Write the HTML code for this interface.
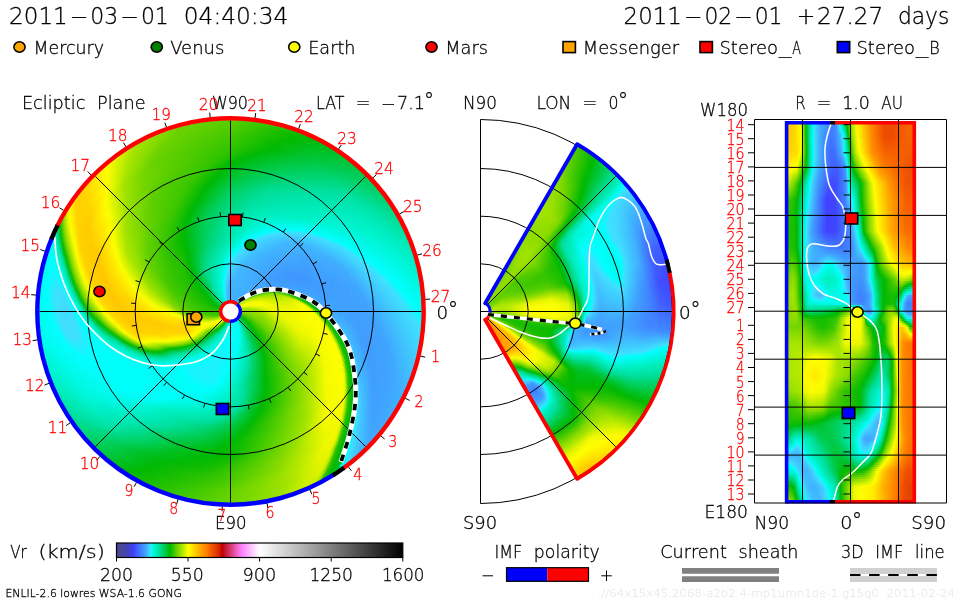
<!DOCTYPE html><html><head><meta charset="utf-8"><title>ENLIL solar wind</title>
<style>html,body{margin:0;padding:0;background:#fff}#p{position:relative;width:960px;height:600px;overflow:hidden;background:#fff}.f{position:absolute;width:0;height:0}.f i{position:absolute;display:block;border-radius:50%}.c{position:absolute;overflow:hidden}#r i{display:block;width:100%}svg{position:absolute;left:0;top:0}text{font-family:"DejaVu Sans Light","DejaVu Sans","Liberation Sans",sans-serif;}</style></head><body><div id="p">
<div class="c" style="left:37.5px;top:118.5px;width:386px;height:386px;border-radius:50%"><div class="f" style="left:193px;top:193px">
<i style="width:384px;height:384px;left:-192px;top:-192px;background:conic-gradient(#59ce00 0deg,#34c500 11.5deg,#00b904 24deg,#00c73c 39.5deg,#00d87f 58deg,#00e8b1 69deg,#01ffff 92deg,#40dfff 96deg,#40b3ff 115.5deg,#40a7ff 133.5deg,#40c6ff 140deg,#40e0ff 143deg,#02feff 144deg,#00fcf2 145.5deg,#00c124 146deg,#00bb0a 148deg,#0aba00 149.5deg,#29c200 151.5deg,#48ca00 152deg,#7fd800 152.5deg,#a2e300 153deg,#d1f000 154.5deg,#cdef00 157.5deg,#92de00 167.5deg,#1cbf00 207deg,#00b905 214deg,#00d572 229.5deg,#00e3a5 240.5deg,#00f3cc 252deg,#00fcf1 264.5deg,#00fdf8 286deg,#00fcf3 291.5deg,#00ecb8 293.5deg,#00e0a0 294.5deg,#00b904 296.5deg,#90dd00 299deg,#e4f500 301deg,#fdfe00 302deg,#ffd000 306deg,#ffd900 312deg,#fcfd00 319.5deg,#a4e400 330deg,#67d200 346deg,#59ce00 360deg)"></i>
<i style="width:380px;height:380px;left:-190px;top:-190px;background:conic-gradient(#56ce00 0deg,#21c000 15deg,#00b906 23.5deg,#00c943 40.5deg,#00dc8e 59.5deg,#0eb 71deg,#0ff 91deg,#40e0ff 95deg,#40b1ff 115.5deg,#40a6ff 132.5deg,#40c5ff 139deg,#40dfff 142deg,#04fdff 143deg,#00fcf3 144.5deg,#00c124 145deg,#00ba0a 147deg,#0abb00 148.5deg,#1dbf00 150deg,#2bc300 150.5deg,#4ccb00 151deg,#82d900 151.5deg,#a4e400 152deg,#d3f100 153.5deg,#cdef00 157deg,#95df00 166.5deg,#12bc00 208.5deg,#00b905 213deg,#00d984 232deg,#00e3a6 239.5deg,#00f3cb 250.5deg,#00fbef 262deg,#00fefb 279deg,#00fdf7 290deg,#00f9e6 291deg,#00ecb7 292.5deg,#00df9d 293.5deg,#00b904 295.5deg,#8edd00 298deg,#f1f800 300.5deg,#fffb00 301.5deg,#ffd100 305deg,#ffd600 310.5deg,#fbfd00 319deg,#a5e400 329deg,#68d200 344.5deg,#56ce00 360deg)"></i>
<i style="width:376px;height:376px;left:-188px;top:-188px;background:conic-gradient(#54cd00 0deg,#0bbb00 19deg,#00ba08 23deg,#00d986 56deg,#00e9b2 67deg,#0ff 90deg,#40e0ff 94deg,#40afff 115.5deg,#40a5ff 131.5deg,#40c8ff 138.5deg,#40dfff 141deg,#06fcff 142deg,#00fcf3 143.5deg,#00c124 144deg,#05b900 147deg,#1ebf00 149deg,#2dc300 149.5deg,#50cc00 150deg,#84d900 150.5deg,#a5e400 151deg,#d5f100 152.5deg,#cdef00 156.5deg,#9ae100 165deg,#09ba00 209.5deg,#00ba0a 213deg,#00e0a0 236deg,#00f3cc 249.5deg,#00fcf1 262deg,#00fffd 283deg,#00fdf7 289deg,#00f9e5 290deg,#00f0c1 291deg,#00df9b 292.5deg,#00b904 294.5deg,#8cdc00 297deg,#edf700 299.5deg,#fffd00 300.5deg,#ffd200 304deg,#ffd400 309deg,#fff700 316.5deg,#fbfd00 318.5deg,#a7e500 328deg,#69d200 343deg,#54cd00 360deg)"></i>
<i style="width:372px;height:372px;left:-186px;top:-186px;background:conic-gradient(#51cc00 0deg,#02b900 20deg,#00da86 54.5deg,#00e8b0 65deg,#0ff 89deg,#40e0ff 93deg,#40adff 115deg,#40a4ff 130.5deg,#40c7ff 137.5deg,#40deff 140deg,#2aebff 140.5deg,#0afaff 141deg,#00fdf7 142deg,#00fcf4 142.5deg,#00c124 143deg,#05b900 146deg,#1ebf00 148deg,#2dc300 148.5deg,#4fcc00 149deg,#84d900 149.5deg,#a5e400 150deg,#d7f200 151.5deg,#d1f000 155.5deg,#9de200 164deg,#05b900 209.5deg,#00c01f 215.5deg,#00e1a1 235.5deg,#00f3cb 248deg,#00fbee 259.5deg,#05fcff 276.5deg,#01ffff 283deg,#00fdf7 288deg,#00f9e5 289deg,#00f0c0 290deg,#00df9c 291.5deg,#00ba06 293.5deg,#89db00 296deg,#e7f600 298.5deg,#feff00 299.5deg,#ffd300 303deg,#ffd100 307.5deg,#fe0 314.5deg,#fbfd00 318deg,#a8e500 327deg,#6ad200 341.5deg,#51cc00 360deg)"></i>
<i style="width:368px;height:368px;left:-184px;top:-184px;background:conic-gradient(#4ecc00 0deg,#00b904 20.5deg,#00db8e 54.5deg,#00ecb8 66.5deg,#00fffe 88deg,#3ee1ff 92deg,#40acff 114deg,#40a3ff 129.5deg,#40c7ff 136.5deg,#40ddff 139deg,#2fe8ff 139.5deg,#0ef8ff 140deg,#00fefc 140.5deg,#00fdf5 141.5deg,#00c124 142deg,#05b900 145deg,#1ebf00 147deg,#2cc300 147.5deg,#4ecc00 148deg,#83d900 148.5deg,#a5e400 149deg,#ccef00 150deg,#ddf300 151deg,#c9ee00 156.5deg,#a2e300 162.5deg,#00b904 210.5deg,#00e2a3 235deg,#00f3cd 247deg,#00fbef 259deg,#06fcff 272deg,#15f5ff 279deg,#00fefc 285.5deg,#00fcf1 287.5deg,#00ebb6 289.5deg,#00df9d 290.5deg,#00ba09 292.5deg,#34c500 293.5deg,#85da00 295deg,#f1f900 298deg,#fffa00 299deg,#ffd100 302.5deg,#ffd700 309.5deg,#fbfd00 317.5deg,#a7e500 326.5deg,#6bd300 340deg,#4ecc00 360deg)"></i>
<i style="width:364px;height:364px;left:-182px;top:-182px;background:conic-gradient(#4bcb00 0deg,#00b903 19.5deg,#00dc91 53.5deg,#00efbf 68deg,#04fdff 87.5deg,#40dfff 91.5deg,#40aaff 114.5deg,#40a3ff 129deg,#40caff 136deg,#40dcff 138deg,#34e6ff 138.5deg,#13f6ff 139deg,#00fefd 139.5deg,#00fdf5 140.5deg,#00c124 141deg,#05b900 144deg,#1ebf00 146deg,#2cc300 146.5deg,#4ecb00 147deg,#83d900 147.5deg,#a4e400 148deg,#cdef00 149deg,#dff400 150deg,#ccef00 155.5deg,#a5e400 161.5deg,#00b903 209.5deg,#00d163 224.5deg,#00e1a2 233.5deg,#00f3ce 246deg,#00fcf1 259deg,#04fdff 269deg,#2ef 276.5deg,#17f4ff 281deg,#00fffe 284deg,#00fcf0 286.5deg,#00ebb7 288.5deg,#00df9d 289.5deg,#00bb0b 291.5deg,#15bd00 292deg,#82d900 294deg,#ecf700 297deg,#fffd00 298deg,#ffd100 301.5deg,#ffd600 308.5deg,#fafd00 317deg,#a9e600 325.5deg,#6cd300 338.5deg,#4bcb00 360deg)"></i>
<i style="width:360px;height:360px;left:-180px;top:-180px;background:conic-gradient(#48ca00 0deg,#02b900 17.5deg,#00db8a 50.5deg,#00e6ab 59.5deg,#03feff 86.5deg,#40dfff 90.5deg,#40a9ff 113.5deg,#40a2ff 128deg,#40c9ff 135deg,#40dbff 137deg,#39e3ff 137.5deg,#17f4ff 138deg,#00fffd 138.5deg,#00fdf6 139.5deg,#00c124 140deg,#05b900 143deg,#1ebf00 145deg,#2cc300 145.5deg,#4dcb00 146deg,#82d900 146.5deg,#a4e400 147deg,#cff000 148deg,#e1f400 149deg,#d0f000 154.5deg,#a6e500 161deg,#20c000 199.5deg,#00b904 209deg,#00cd55 222deg,#00e1a2 232.5deg,#00f3cd 244.5deg,#00fbef 256.5deg,#04fdff 267deg,#2ee9ff 274.5deg,#28ebff 279deg,#00fffd 283.5deg,#00fcf0 285.5deg,#00ebb7 287.5deg,#00e09e 288.5deg,#00bb0e 290.5deg,#12bc00 291deg,#7dd700 293deg,#f4fa00 296.5deg,#feff00 297deg,#ffd200 300.5deg,#ffd300 307deg,#fdfe00 316deg,#aae600 324.5deg,#6dd300 337deg,#48ca00 360deg)"></i>
<i style="width:356px;height:356px;left:-178px;top:-178px;background:conic-gradient(#45c900 0deg,#06b900 16deg,#00c83f 32deg,#00e3a6 56deg,#00f5d5 72deg,#01feff 85.5deg,#40e0ff 89.5deg,#40a8ff 112.5deg,#40a1ff 127deg,#40c8ff 134deg,#3ee1ff 136.5deg,#00fffe 137.5deg,#00fdf6 138.5deg,#00c124 139deg,#05b900 142deg,#1dbf00 144deg,#2bc300 144.5deg,#4ccb00 145deg,#81d800 145.5deg,#a4e400 146deg,#d0f000 147deg,#e3f500 148deg,#d3f100 153.5deg,#a7e500 160.5deg,#31c400 193deg,#00b905 208.5deg,#00ca49 220deg,#00e1a1 231deg,#00f4cf 243.5deg,#00fbf0 256deg,#05fcff 265.5deg,#39e4ff 273deg,#3ae3ff 277deg,#1cf2ff 280.5deg,#00fffe 282.5deg,#00fbf0 284.5deg,#00ebb7 286.5deg,#00e09f 287.5deg,#00bc10 289.5deg,#0fbc00 290deg,#79d600 292deg,#f1f800 295.5deg,#fffa00 296.5deg,#ffd300 299.5deg,#ffd000 305.5deg,#fff800 314deg,#f8fc00 316deg,#ace700 323.5deg,#6dd300 336deg,#45c900 360deg)"></i>
<i style="width:352px;height:352px;left:-176px;top:-176px;background:conic-gradient(#42c800 0deg,#06ba00 15deg,#00bf1a 22deg,#00de97 50deg,#00f6d8 72deg,#0ff 84.5deg,#40e0ff 88.5deg,#40a7ff 111.5deg,#40a0ff 126deg,#40c7ff 133deg,#40dfff 135.5deg,#0ff 136.5deg,#00fdf7 137.5deg,#00c124 138deg,#00ba0a 140deg,#0abb00 141.5deg,#1dbf00 143deg,#2bc300 143.5deg,#4bcb00 144deg,#80d800 144.5deg,#a4e400 145deg,#d1f000 146deg,#e5f500 147deg,#d7f200 152.5deg,#a8e500 160deg,#38c600 189.5deg,#00b904 207.5deg,#00c73d 218deg,#00e1a1 230deg,#00f3ce 242deg,#00fbee 253.5deg,#01feff 263.5deg,#40e0ff 271deg,#3de2ff 277.5deg,#0afaff 281deg,#00fefd 282deg,#00fbf0 283.5deg,#00ebb7 285.5deg,#00e0a0 286.5deg,#00bd13 288.5deg,#0dbb00 289deg,#89db00 291.5deg,#f7fb00 295deg,#fff500 296deg,#ffd000 299deg,#ffd300 306.5deg,#fbfd00 315deg,#aae600 323deg,#6ed300 334.5deg,#42c800 360deg)"></i>
<i style="width:348px;height:348px;left:-174px;top:-174px;background:conic-gradient(#3fc800 0deg,#05b900 14.5deg,#00d87f 43.5deg,#00e3a6 53deg,#00f4d0 68.5deg,#0ff 83.5deg,#3fe0ff 87.5deg,#40a7ff 110deg,#40a0ff 125.5deg,#40caff 132.5deg,#40dfff 134.5deg,#04fdff 135.5deg,#00fdf8 136.5deg,#00c124 137deg,#00ba0a 139deg,#0abb00 140.5deg,#1dbf00 142deg,#2bc300 142.5deg,#4acb00 143deg,#80d800 143.5deg,#a3e400 144deg,#d2f000 145deg,#e1f400 145.5deg,#e5f500 148.5deg,#d6f200 152deg,#a2e300 161deg,#3ac700 187.5deg,#00b904 207deg,#00c535 216.5deg,#00e1a1 229deg,#00f4d0 241deg,#00fbf0 253.5deg,#05fcff 262.5deg,#40e0ff 268.5deg,#3ce2ff 277.5deg,#00fffd 281deg,#00fbf0 282.5deg,#00ebb7 284.5deg,#00e0a0 285.5deg,#00bd15 287.5deg,#0aba00 288deg,#85da00 290.5deg,#f4fa00 294deg,#feff00 294.5deg,#ffd100 298deg,#ffd100 305.5deg,#fafc00 314.5deg,#ace700 322deg,#6dd300 333.5deg,#3fc800 360deg)"></i>
<i style="width:344px;height:344px;left:-172px;top:-172px;background:conic-gradient(#3cc700 0deg,#00b905 15.5deg,#00de96 46.5deg,#00f5d5 69deg,#0ff 82.5deg,#3ee1ff 86.5deg,#40a6ff 109deg,#40a0ff 124.5deg,#40caff 131.5deg,#40deff 133.5deg,#05fdff 134.5deg,#00fdf8 135.5deg,#00c124 136deg,#00b801 138.5deg,#1ec000 141deg,#2dc300 141.5deg,#4fcc00 142deg,#83d900 142.5deg,#beeb00 143.5deg,#e4f500 144.5deg,#e6f500 149deg,#a5e400 160deg,#3ec800 185deg,#00b904 206.5deg,#00c432 215.5deg,#00e1a2 228deg,#00f4cf 239.5deg,#00fbee 251deg,#04fdff 261deg,#40dfff 266.5deg,#40deff 276deg,#3ee1ff 277deg,#00fffe 280deg,#00fbef 281.5deg,#00ebb6 283.5deg,#00df9e 284.5deg,#00bd14 286.5deg,#0abb00 287deg,#83d900 289.5deg,#f2f900 293deg,#fff900 294deg,#ffd100 297deg,#ffcf00 304.5deg,#fcfe00 313.5deg,#a9e600 321.5deg,#6dd300 332.5deg,#3cc700 360deg)"></i>
<i style="width:340px;height:340px;left:-170px;top:-170px;background:conic-gradient(#3ac600 0deg,#00b905 14.5deg,#00dc90 43.5deg,#00e5aa 51.5deg,#00f3ce 66deg,#0ff 81.5deg,#40e0ff 85.5deg,#40a5ff 108deg,#409eff 123deg,#40c6ff 130deg,#40e0ff 132.5deg,#0ff 133.5deg,#00fdf8 134.5deg,#00c123 135deg,#01b800 137.5deg,#22c000 140deg,#36c500 140.5deg,#90dd00 141.5deg,#ddf300 143deg,#ebf700 144deg,#e3f500 149deg,#a9e600 158.5deg,#44c900 182deg,#00b904 206deg,#00c32b 214deg,#00e0a1 226.5deg,#00f4cf 238deg,#00fbed 249deg,#04fdff 259.5deg,#40dfff 264.5deg,#40daff 274deg,#40dfff 276deg,#15f5ff 278deg,#00fffd 279deg,#00faea 280.5deg,#00e9b3 282.5deg,#00dd94 283.5deg,#00bb0c 285.5deg,#11bc00 286deg,#84d900 288.5deg,#fdfe00 292.5deg,#ffd000 296deg,#ffcd00 303.5deg,#fdfe00 312.5deg,#a9e600 320.5deg,#6ed300 331deg,#3ac600 360deg)"></i>
<i style="width:336px;height:336px;left:-168px;top:-168px;background:conic-gradient(#37c600 0deg,#00b905 13.5deg,#00db8c 41deg,#00e3a7 48deg,#00f4cf 65deg,#01feff 80.5deg,#40e0ff 84.5deg,#40a5ff 106.5deg,#409eff 122deg,#40c7ff 129deg,#40dbff 131deg,#38e4ff 131.5deg,#15f5ff 132deg,#00fffd 132.5deg,#00fdf8 133.5deg,#00c122 134deg,#04b900 136.5deg,#25c100 139deg,#3ec800 139.5deg,#73d500 140deg,#9ee200 140.5deg,#e5f500 142deg,#edf700 143deg,#e9f600 147.5deg,#b0e800 156.5deg,#4acb00 179deg,#00b903 205deg,#00c124 212.5deg,#00e1a2 225.5deg,#00f4cf 236.5deg,#00faec 247deg,#03feff 258deg,#40e0ff 262.5deg,#40d8ff 272.5deg,#3ee1ff 275.5deg,#04fdff 277.5deg,#00fcf2 279deg,#00ecb9 281deg,#00e2a4 282deg,#00d267 283deg,#00b903 284.5deg,#86da00 287.5deg,#fdfe00 291.5deg,#ffcf00 295deg,#fc0 302.5deg,#fefe00 311.5deg,#a5e400 320deg,#6dd300 330deg,#37c600 360deg)"></i>
<i style="width:332px;height:332px;left:-166px;top:-166px;background:conic-gradient(#34c500 0deg,#00b905 12deg,#00e2a3 45.5deg,#00f4cf 64deg,#02feff 79.5deg,#40dfff 83.5deg,#40a5ff 105.5deg,#409eff 121deg,#40c7ff 128deg,#40dbff 130deg,#38e4ff 130.5deg,#16f5ff 131deg,#00fffe 131.5deg,#00fefb 132deg,#00c123 132.5deg,#00b801 135deg,#1ec000 137.5deg,#2ec300 138deg,#50cc00 138.5deg,#84d900 139deg,#c1ec00 140deg,#e9f600 141deg,#edf700 146deg,#82d900 165deg,#2ac300 187.5deg,#00b905 204.5deg,#00c229 212deg,#00e0a0 224.5deg,#00f4d1 236deg,#00fbf0 248.5deg,#03fdff 257deg,#40dfff 262deg,#40daff 271.5deg,#3fe1ff 274deg,#00fffe 276.5deg,#00fbee 278deg,#00ebb6 280deg,#00df9e 281deg,#00be17 283deg,#06ba00 283.5deg,#79d600 286deg,#f5fa00 290deg,#ff0 290.5deg,#ffd300 293.5deg,#ffca00 300.5deg,#fff300 309deg,#fbfd00 311deg,#a1e300 320deg,#6ed300 329.5deg,#34c500 360deg)"></i>
<i style="width:328px;height:328px;left:-164px;top:-164px;background:conic-gradient(#30c400 0deg,#00b904 10.5deg,#00e2a4 44.5deg,#00f4cf 63deg,#03feff 78.5deg,#40dfff 82.5deg,#40a4ff 104.5deg,#409dff 119.5deg,#40c6ff 127deg,#40dbff 129deg,#37e4ff 129.5deg,#15f5ff 130deg,#00fffe 130.5deg,#00fefc 131deg,#00c123 131.5deg,#02b800 134deg,#22c000 136.5deg,#36c600 137deg,#91de00 138deg,#e1f400 139.5deg,#f0f800 140.5deg,#ebf700 145.5deg,#82d900 164.5deg,#24c100 188deg,#00b905 203deg,#00c226 210.5deg,#00e0a1 224deg,#00f8e3 240.5deg,#03fdff 256deg,#40dfff 261.5deg,#40dcff 271deg,#3ee1ff 272.5deg,#04fdff 275deg,#00faea 277deg,#00e9b2 279deg,#00dd93 280deg,#00bb0d 282deg,#10bc00 282.5deg,#7fd800 285deg,#f7fb00 289deg,#fffd00 289.5deg,#ffd300 292.5deg,#ffca00 299.5deg,#fff100 308deg,#fafd00 310.5deg,#a1e300 319.5deg,#70d400 328.5deg,#30c400 360deg)"></i>
<i style="width:324px;height:324px;left:-162px;top:-162px;background:conic-gradient(#2bc300 0deg,#00b906 9.5deg,#00e2a4 43.5deg,#00f4cf 62deg,#04fdff 77.5deg,#3ee1ff 81deg,#40a4ff 103deg,#409dff 118.5deg,#40c6ff 126deg,#40dbff 128deg,#35e5ff 128.5deg,#14f5ff 129deg,#0ff 129.5deg,#00c124 130deg,#00bb0b 132deg,#09ba00 133.5deg,#26c100 135.5deg,#40c800 136deg,#74d500 136.5deg,#9ee200 137deg,#eaf600 138.5deg,#f1f900 140deg,#edf700 144.5deg,#81d800 164deg,#1fc000 188deg,#00b905 201.5deg,#00c227 209.5deg,#00e1a3 224deg,#00f8e3 239.5deg,#03feff 255deg,#40dfff 261deg,#40dfff 270.5deg,#21efff 272.5deg,#00fffe 274deg,#00fcf2 275.5deg,#00ecb9 277.5deg,#00e2a3 278.5deg,#00d165 279.5deg,#00b802 281deg,#84d900 284deg,#f9fc00 288deg,#fff300 289deg,#ffd000 292deg,#fc0 299.5deg,#fff300 307.5deg,#f9fc00 310deg,#a0e300 319deg,#72d500 327.5deg,#30c400 359deg,#2bc300 360deg)"></i>
<i style="width:320px;height:320px;left:-160px;top:-160px;background:conic-gradient(#26c200 0deg,#00b905 8deg,#00e2a4 42.5deg,#00f4cf 61deg,#05fdff 76.5deg,#40e0ff 80deg,#40a4ff 102deg,#409dff 117.5deg,#40c5ff 125deg,#40dcff 127deg,#34e6ff 127.5deg,#15f5ff 128deg,#04fdff 128.5deg,#00c123 129deg,#00b800 131.5deg,#1fc000 134deg,#2ec400 134.5deg,#52cc00 135deg,#85da00 135.5deg,#ddf300 137deg,#eef800 137.5deg,#eef800 143.5deg,#82d900 163deg,#19be00 188deg,#00b905 200deg,#00c228 208.5deg,#00e2a4 223.5deg,#00f8e3 238.5deg,#03feff 254deg,#40e0ff 260.5deg,#3fe0ff 269deg,#0df9ff 272deg,#00fefd 273deg,#00fbee 274.5deg,#00ebb5 276.5deg,#00df9c 277.5deg,#00bd16 279.5deg,#08ba00 280deg,#77d600 282.5deg,#fafd00 287deg,#ffd100 291deg,#fc0 298.5deg,#fff000 306.5deg,#fcfe00 309deg,#9ce100 319deg,#71d400 327.5deg,#2fc400 358deg,#26c200 360deg)"></i>
<i style="width:316px;height:316px;left:-158px;top:-158px;background:conic-gradient(#20c000 0deg,#00b904 6.5deg,#00e2a4 41.5deg,#00f4d0 60deg,#0ff 75deg,#40e0ff 79deg,#40a4ff 100.5deg,#409cff 116deg,#40c1ff 123.5deg,#40dcff 126deg,#32e7ff 126.5deg,#16f4ff 127deg,#0afaff 127.5deg,#00c123 128deg,#02b800 130.5deg,#22c100 133deg,#37c600 133.5deg,#92de00 134.5deg,#e6f600 136deg,#f2f900 136.5deg,#edf700 143deg,#b1e800 153.5deg,#59ce00 171deg,#0dbb00 190.5deg,#00ba07 199.5deg,#00c228 207.5deg,#00e2a5 223deg,#00f8e3 237.5deg,#02feff 253deg,#40e0ff 260.5deg,#3fe1ff 267deg,#0ff8ff 270.5deg,#00fffe 271.5deg,#00faeb 273.5deg,#00e9b2 275.5deg,#00e4a7 276deg,#00dc92 276.5deg,#00bb0b 278.5deg,#11bc00 279deg,#7dd700 281.5deg,#fcfe00 286deg,#ffd100 290deg,#ffcb00 297.5deg,#ffeb00 305deg,#fcfe00 308.5deg,#9be100 318.5deg,#70d400 327.5deg,#31c400 356.5deg,#20c000 360deg)"></i>
<i style="width:312px;height:312px;left:-156px;top:-156px;background:conic-gradient(#19be00 0deg,#00b904 5deg,#00e2a4 40.5deg,#00f4d1 59.5deg,#0ff 74deg,#40dfff 78deg,#40a4ff 99.5deg,#409cff 115deg,#40c1ff 122.5deg,#40ddff 125deg,#17f4ff 126deg,#00c124 126.5deg,#00bb0b 128.5deg,#0aba00 130deg,#27c200 132deg,#42c900 132.5deg,#77d600 133deg,#9fe200 133.5deg,#eff800 135deg,#f5fa00 139deg,#dbf300 146.5deg,#8bdc00 159.5deg,#14bd00 186.5deg,#00ba06 197.5deg,#00c229 206.5deg,#00e3a6 222.5deg,#00f8e3 236.5deg,#05fdff 252.5deg,#3ae3ff 260deg,#3de2ff 264.5deg,#1ff0ff 268deg,#0ff 270deg,#00fcf2 272deg,#00ecb8 274deg,#00e1a3 275deg,#00b800 277.5deg,#70d400 280deg,#f4fa00 284.5deg,#fefe00 285deg,#ffd300 288.5deg,#ffc900 295.5deg,#ffe300 303deg,#fcfd00 308deg,#9de200 317.5deg,#73d500 326deg,#47ca00 347deg,#2ac200 357deg,#19be00 360deg)"></i>
<i style="width:308px;height:308px;left:-154px;top:-154px;background:conic-gradient(#12bc00 0deg,#00b906 4deg,#00e2a4 39.5deg,#00f4d1 58.5deg,#01ffff 73deg,#40dfff 77deg,#40a3ff 98.5deg,#409cff 113.5deg,#40c0ff 121.5deg,#40ddff 124deg,#1cf1ff 125deg,#00c123 125.5deg,#00b800 128deg,#20c000 130.5deg,#31c400 131deg,#56ce00 131.5deg,#88db00 132deg,#e3f500 133.5deg,#f3f900 134deg,#f0f800 141.5deg,#beeb00 150.5deg,#8cdc00 158.5deg,#12bc00 185.5deg,#00b905 195.5deg,#00c226 205deg,#00e4a7 222deg,#00f8e3 235.5deg,#03fdff 251.5deg,#32e7ff 259.5deg,#2fe8ff 264deg,#08fbff 268deg,#00fffd 269deg,#00fbee 271deg,#00eab4 273deg,#00de99 274deg,#00bd12 276deg,#0abb00 276.5deg,#76d600 279deg,#f6fb00 283.5deg,#ff0 284deg,#ffd300 287.5deg,#ffc900 294.5deg,#ffe100 302deg,#fbfd00 307.5deg,#9be100 317deg,#6dd300 327deg,#30c400 354.5deg,#12bc00 360deg)"></i>
<i style="width:304px;height:304px;left:-152px;top:-152px;background:conic-gradient(#0abb00 0deg,#00bb0b 3.5deg,#00e2a5 38.5deg,#00f4d2 57.5deg,#02feff 72deg,#3fe0ff 75.5deg,#40a4ff 97deg,#409cff 112.5deg,#40c0ff 120.5deg,#40deff 123deg,#21efff 124deg,#00c123 124.5deg,#03b900 127deg,#24c100 129.5deg,#3bc700 130deg,#97e000 131deg,#eef700 132.5deg,#f7fb00 133.5deg,#ecf700 142.5deg,#b8ea00 150.5deg,#87da00 159deg,#11bc00 184deg,#00b905 194deg,#00c227 204deg,#00dd94 218.5deg,#00edb9 225deg,#00f9e6 235.5deg,#04fdff 251deg,#29ebff 259deg,#22efff 263.5deg,#00fffe 267.5deg,#00fcf4 269.5deg,#00e8b1 272deg,#00e3a5 272.5deg,#00db8d 273deg,#00ba06 275deg,#56cd00 277deg,#8bdc00 278.5deg,#f7fb00 282.5deg,#fff600 283.5deg,#ffd000 287deg,#ffca00 295deg,#ffe500 302deg,#fafd00 307deg,#9de200 316deg,#6ed300 326deg,#49ca00 343.5deg,#30c400 353.5deg,#0abb00 360deg)"></i>
<i style="width:300px;height:300px;left:-150px;top:-150px;background:conic-gradient(#02b800 0deg,#00e1a3 36.5deg,#00f4d2 56.5deg,#04fdff 71deg,#40e0ff 74.5deg,#40a3ff 96deg,#409bff 111deg,#40bcff 119deg,#40dfff 122deg,#2ee9ff 122.5deg,#00c124 123deg,#05b900 126deg,#1dbf00 128deg,#2bc300 128.5deg,#4bcb00 129deg,#7fd800 129.5deg,#e0f400 131deg,#f3fa00 131.5deg,#f3f900 140deg,#cbef00 147.5deg,#98e000 154.5deg,#0fbc00 183deg,#00b906 192.5deg,#00c227 203deg,#00da88 216.5deg,#00e4a8 220.5deg,#00f9e5 234deg,#04fdff 250.5deg,#20f0ff 258.5deg,#11f7ff 263.5deg,#00fffe 266deg,#00fcf1 268.5deg,#00ebb7 270.5deg,#00e0a0 271.5deg,#00be19 273.5deg,#05b900 274deg,#82d900 277deg,#f9fc00 281.5deg,#ffed00 283deg,#ffcd00 286.5deg,#ffcb00 295.5deg,#fffa00 305deg,#f1f800 307.5deg,#9fe200 315deg,#6fd400 325deg,#4ccb00 340.5deg,#32c400 352deg,#02b800 360deg)"></i>
<i style="width:296px;height:296px;left:-148px;top:-148px;background:conic-gradient(#00ba06 0deg,#00e0a1 34.5deg,#00f5d3 56deg,#00fffe 69.5deg,#40dfff 73.5deg,#40a3ff 94.5deg,#409bff 110deg,#40bbff 118deg,#40dfff 121deg,#33e6ff 121.5deg,#00c123 122deg,#01b800 124.5deg,#21c000 127deg,#35c500 127.5deg,#8edd00 128.5deg,#ebf700 130deg,#f9fc00 131deg,#f0f800 141deg,#c1ec00 148deg,#94df00 154.5deg,#0dbb00 182deg,#00ba06 191deg,#00c228 202deg,#00d880 215deg,#00e3a5 219deg,#00f9e5 233deg,#00fffe 248deg,#15f5ff 258.5deg,#00fefc 265deg,#00fdf5 267deg,#00f3cd 268.5deg,#00e4a8 270deg,#00dd94 270.5deg,#00bb0d 272.5deg,#0fbc00 273deg,#77d600 275.5deg,#fbfd00 280.5deg,#ffcf00 285deg,#ffca00 294.5deg,#fff800 304deg,#f7fb00 306deg,#9de200 314.5deg,#60d000 328.5deg,#36c500 350deg,#00b903 359.5deg,#00ba06 360deg)"></i>
<i style="width:292px;height:292px;left:-146px;top:-146px;background:conic-gradient(#00bc0e 0deg,#00e0a1 33.5deg,#00f5d5 55.5deg,#0ff 68.5deg,#3de1ff 72deg,#40a4ff 93deg,#409aff 108.5deg,#40b7ff 116.5deg,#40d3ff 119deg,#40e0ff 120deg,#00c124 120.5deg,#00bd14 122deg,#04b900 123.5deg,#26c100 126deg,#3fc800 126.5deg,#9ee200 127.5deg,#dcf300 128.5deg,#f4fa00 129deg,#fafd00 131deg,#f1f800 140.5deg,#c3ed00 147deg,#98e000 153deg,#0cbb00 180.5deg,#00b906 189deg,#00c126 200.5deg,#00d574 213deg,#00e4a7 218.5deg,#00f9e7 232.5deg,#00fefd 246.5deg,#08fbff 259deg,#00fdf8 265.5deg,#00fae8 266.5deg,#00ecb9 268deg,#00e2a3 269deg,#00d164 270deg,#00b801 271.5deg,#7dd700 274.5deg,#fcfe00 279.5deg,#ffce00 284deg,#ffc900 294deg,#fff900 303.5deg,#f6fb00 305.5deg,#9fe200 313.5deg,#5ed000 328deg,#35c500 349deg,#00b905 358.5deg,#00bc0e 360deg)"></i>
<i style="width:288px;height:288px;left:-144px;top:-144px;background:conic-gradient(#00bd16 0deg,#00e0a1 32.5deg,#00f5d5 54.5deg,#01ffff 67.5deg,#40e0ff 71deg,#40a3ff 92deg,#409aff 107.5deg,#40b7ff 115.5deg,#40dfff 119deg,#00c123 119.5deg,#00b800 122deg,#1fc000 124.5deg,#2fc400 125deg,#53cd00 125.5deg,#85da00 126deg,#e8f600 127.5deg,#f7fb00 128deg,#f6fb00 138.5deg,#d3f100 144.5deg,#a1e300 150.5deg,#0abb00 179.5deg,#00ba07 188deg,#00c126 199.5deg,#00d36d 211.5deg,#00e3a7 217.5deg,#00fae9 232deg,#00fefc 245deg,#00fef9 264deg,#00fbef 265deg,#00ebb5 267deg,#00df9b 268deg,#00bd13 270deg,#09ba00 270.5deg,#82d900 273.5deg,#fefe00 278.5deg,#ffd000 282.5deg,#ffc800 293deg,#fff300 302deg,#fcfe00 304deg,#c4ed00 309deg,#96df00 314deg,#5ace00 328.5deg,#37c600 347.5deg,#00b904 357deg,#00bd16 360deg)"></i>
<i style="width:284px;height:284px;left:-142px;top:-142px;background:conic-gradient(#00bf1a 0deg,#00dc90 27deg,#00e8b1 38.5deg,#00f5d3 53deg,#0ff 66deg,#40e0ff 69.5deg,#40a3ff 90.5deg,#409bff 106.5deg,#40b8ff 114.5deg,#40deff 118deg,#00c123 118.5deg,#03b900 121deg,#24c100 123.5deg,#3ac600 124deg,#96df00 125deg,#f2f900 126.5deg,#fcfd00 127.5deg,#f4fa00 138deg,#cef000 144deg,#a2e300 149.5deg,#0dbb00 178.5deg,#00ba06 186.5deg,#00c32c 199deg,#00d575 211deg,#00e2a5 216deg,#00fbee 233deg,#00fffe 247.5deg,#00fdf8 263deg,#00faeb 264deg,#00eab3 266deg,#00dd95 267deg,#00bd15 269deg,#05b900 269.5deg,#7dd700 272.5deg,#feff00 277.5deg,#ffd000 281.5deg,#ffc700 291.5deg,#ffef00 300.5deg,#fdfe00 303deg,#ccef00 307.5deg,#9de200 312deg,#5ccf00 327deg,#37c600 346.5deg,#00b904 356deg,#00bf1a 360deg)"></i>
<i style="width:280px;height:280px;left:-140px;top:-140px;background:conic-gradient(#00c020 0deg,#00da89 23.5deg,#00e5aa 34deg,#00f4d0 51deg,#0ff 64.5deg,#40e0ff 68deg,#40a4ff 88.5deg,#409bff 105deg,#40b6ff 113deg,#40dcff 116.5deg,#00c123 117deg,#00b800 119.5deg,#1fc000 122deg,#2fc400 122.5deg,#51cc00 123deg,#84d900 123.5deg,#e8f600 125deg,#f8fc00 125.5deg,#f7fb00 136deg,#d7f200 142deg,#a5e400 148deg,#10bc00 177.5deg,#00ba06 185.5deg,#00c536 199deg,#00d67a 210deg,#00e3a5 215deg,#00fdf6 235deg,#00fefd 258.5deg,#00fdf7 262deg,#00f5d6 263.5deg,#00e8b0 265deg,#00e2a4 265.5deg,#00bd16 268deg,#01b800 268.5deg,#89db00 272deg,#f6fb00 276deg,#fffe00 276.5deg,#ffd300 280deg,#ffc600 289.5deg,#ffe900 298.5deg,#fdfe00 302deg,#d2f100 306deg,#a1e300 310.5deg,#5ed000 325.5deg,#38c600 345deg,#00b905 355deg,#00c020 360deg)"></i>
<i style="width:276px;height:276px;left:-138px;top:-138px;background:conic-gradient(#00c125 0deg,#00d985 21deg,#00e4a8 32deg,#00f3ce 49.5deg,#0ff 63deg,#40dfff 66.5deg,#40a4ff 87deg,#409cff 104deg,#40b7ff 112deg,#40dcff 115.5deg,#00c123 116deg,#03b900 118.5deg,#24c100 121deg,#3cc700 121.5deg,#9ae100 122.5deg,#f4fa00 124deg,#fcfe00 125.5deg,#f4fa00 136deg,#d2f100 141.5deg,#a6e500 147deg,#12bc00 176.5deg,#00b906 184deg,#00c83f 199deg,#00d882 209.5deg,#00e3a6 214deg,#00fdf8 234.5deg,#00fefc 258deg,#00fdf5 261deg,#00f4d0 262.5deg,#00e0a1 264.5deg,#00c430 266.5deg,#00b903 267.5deg,#89db00 271deg,#f8fc00 275deg,#fff500 276deg,#ffd300 279deg,#ffc600 288.5deg,#ffe900 297.5deg,#fdfe00 301deg,#d2f100 305deg,#a1e300 309.5deg,#5ecf00 325deg,#37c600 344deg,#00b905 354deg,#00c125 360deg)"></i>
<i style="width:272px;height:272px;left:-136px;top:-136px;background:conic-gradient(#00c32c 0deg,#00d983 19deg,#00e3a7 30deg,#00f3cc 48deg,#0ff 61.5deg,#40dfff 65deg,#40a5ff 85deg,#409cff 103deg,#40b9ff 111deg,#40daff 114deg,#00c123 114.5deg,#00b800 117deg,#20c000 119.5deg,#31c400 120deg,#56cd00 120.5deg,#88db00 121deg,#ebf700 122.5deg,#f9fc00 123deg,#f8fc00 133.5deg,#dff400 139deg,#a7e500 146deg,#12bd00 176deg,#00ba06 183deg,#00cb4c 199.5deg,#00da8a 209deg,#00e3a7 213deg,#00f5d7 225deg,#00fefa 234deg,#00fefb 257.5deg,#00fcf1 260deg,#00df9b 263.5deg,#00c432 265.5deg,#00ba08 266.5deg,#23c100 267.5deg,#88db00 270deg,#fafd00 274deg,#ffd100 278.5deg,#ffc700 288deg,#ffed00 297deg,#fdfe00 300deg,#d2f100 304deg,#a2e300 308.5deg,#5ed000 324deg,#39c600 342.5deg,#00b905 353deg,#00c32c 360deg)"></i>
<i style="width:268px;height:268px;left:-134px;top:-134px;background:conic-gradient(#00c532 0deg,#00d984 17.5deg,#00e3a7 29deg,#00f2ca 46.5deg,#00fffe 60deg,#40dfff 63.5deg,#40a4ff 83.5deg,#409cff 101.5deg,#40b7ff 109.5deg,#40d8ff 112.5deg,#00c124 113deg,#00bd15 114.5deg,#04b900 116deg,#25c100 118.5deg,#3ec800 119deg,#9de200 120deg,#def400 121deg,#f6fb00 121.5deg,#fdfe00 123deg,#f5fa00 133.5deg,#dbf300 138.5deg,#a8e500 145deg,#12bd00 175.5deg,#00ba07 182deg,#00cf5e 201deg,#00e3a7 212deg,#00f3cd 222.5deg,#00fef9 232deg,#00fefb 256deg,#00fdf5 258.5deg,#00f5d4 260deg,#00de96 262.5deg,#00c535 264.5deg,#00bb0c 265.5deg,#0aba00 266deg,#89db00 269deg,#fcfe00 273deg,#ffd300 277deg,#ffc700 286.5deg,#ffea00 295.5deg,#fefe00 299deg,#d9f200 302.5deg,#a5e400 307deg,#61d000 322.5deg,#38c600 341.5deg,#00b903 351.5deg,#00c532 360deg)"></i>
<i style="width:264px;height:264px;left:-132px;top:-132px;background:conic-gradient(#00c639 0deg,#00da88 17deg,#00e4a7 28deg,#00f2ca 45.5deg,#00fffe 58.5deg,#40dfff 62deg,#40a5ff 81.5deg,#409dff 100.5deg,#40b8ff 108.5deg,#40d7ff 111.5deg,#00c123 112deg,#01b800 114.5deg,#21c000 117deg,#33c500 117.5deg,#8bdc00 118.5deg,#eef700 120deg,#fdfe00 121deg,#f5fa00 132.5deg,#daf300 137.5deg,#a6e500 144.5deg,#0cbb00 176.5deg,#00ba08 181deg,#00d574 203deg,#00e3a5 210.5deg,#00f3cb 221.5deg,#00fefa 231deg,#00fefb 255deg,#00fcf1 257.5deg,#00ecb9 260deg,#00e3a5 261deg,#00bc0f 264.5deg,#07ba00 265deg,#8adb00 268deg,#feff00 272deg,#ffd500 275.5deg,#ffc600 284.5deg,#ffe700 294deg,#fafd00 298.5deg,#bfec00 303.5deg,#9ae100 308deg,#5ccf00 323.5deg,#3ac600 340deg,#00b903 350.5deg,#00c639 360deg)"></i>
<i style="width:260px;height:260px;left:-130px;top:-130px;background:conic-gradient(#00c841 0deg,#00db8d 17deg,#00e4a9 27.5deg,#00f2ca 44.5deg,#04fdff 57.5deg,#3ce2ff 60deg,#40a9ff 77.5deg,#409cff 98deg,#40b4ff 106.5deg,#40d6ff 110deg,#00c124 110.5deg,#00bb0b 112.5deg,#0aba00 114deg,#28c200 116deg,#43c900 116.5deg,#76d600 117deg,#bfec00 118deg,#e1f400 118.5deg,#f7fb00 119deg,#fdfe00 121deg,#f4fa00 132deg,#d6f100 137deg,#a7e500 143.5deg,#00b902 178.5deg,#00d881 203.5deg,#00e4a7 210deg,#00f2ca 220.5deg,#00fefa 229.5deg,#00fefa 254deg,#00fdf5 256deg,#00f3cb 258deg,#00e2a4 260deg,#05b900 264deg,#7ad700 266.5deg,#f6fb00 270.5deg,#fffe00 271deg,#ffd500 274.5deg,#ffc600 283.5deg,#ffe700 293deg,#fbfd00 297.5deg,#bfec00 302.5deg,#9ae100 307deg,#5dcf00 322.5deg,#39c600 339deg,#00b903 349.5deg,#00c841 360deg)"></i>
<i style="width:256px;height:256px;left:-128px;top:-128px;background:conic-gradient(#00ca48 0deg,#00dd93 17deg,#00e6ac 29deg,#00f2ca 43.5deg,#03feff 56deg,#3be2ff 58.5deg,#40abff 75deg,#409bff 94.5deg,#40acff 103.5deg,#40c7ff 107.5deg,#40d5ff 109deg,#00c123 109.5deg,#01b800 112deg,#22c000 114.5deg,#35c500 115deg,#8edd00 116deg,#f1f800 117.5deg,#fefe00 118.5deg,#f5fa00 130.5deg,#def400 135deg,#a8e500 142.5deg,#00b903 177.5deg,#00dd95 205deg,#00eab5 214deg,#00f2c9 219.5deg,#00fef9 228deg,#00fefb 252.5deg,#00fcf2 255deg,#00e2a4 259deg,#00c32b 262deg,#05b900 263deg,#7dd700 265.5deg,#dbf300 268.5deg,#f9fc00 269.5deg,#ffed00 271deg,#ffd200 274deg,#ffc600 282.5deg,#ffe500 291.5deg,#fbfd00 296.5deg,#a6e500 304deg,#60d000 320.5deg,#3bc700 337.5deg,#00b903 348.5deg,#00ca48 360deg)"></i>
<i style="width:252px;height:252px;left:-126px;top:-126px;background:conic-gradient(#00cc50 0deg,#00de9a 17.5deg,#00f2c8 42deg,#01ffff 54.5deg,#3be3ff 57deg,#40c6ff 64deg,#40a1ff 79.5deg,#40a0ff 98deg,#40b9ff 105deg,#40d3ff 107.5deg,#00c124 108deg,#00ba0a 110deg,#0abb00 111.5deg,#2ac200 113.5deg,#47ca00 114deg,#7bd700 114.5deg,#e4f500 116deg,#f8fc00 116.5deg,#feff00 120deg,#f2f900 131deg,#a6e500 142deg,#00b904 176.5deg,#00e3a5 207.5deg,#00f2c8 218.5deg,#00fef9 226.5deg,#00fefb 251deg,#00fbef 254deg,#00de97 258.5deg,#00c32d 261deg,#05b900 262deg,#7fd800 264.5deg,#dff400 267.5deg,#fbfd00 268.5deg,#ffd400 272.5deg,#ffc600 281deg,#ffe500 290.5deg,#fbfd00 295.5deg,#a6e500 303deg,#61d000 319.5deg,#3ac700 336.5deg,#00b904 347.5deg,#00cc50 360deg)"></i>
<i style="width:248px;height:248px;left:-124px;top:-124px;background:conic-gradient(#00ce58 0deg,#00e0a0 18deg,#00f1c6 40.5deg,#0ff 53deg,#40dfff 56deg,#40a8ff 73deg,#409eff 95deg,#40b8ff 103.5deg,#40d2ff 106.5deg,#00c123 107deg,#02b800 109.5deg,#22c100 112deg,#37c600 112.5deg,#92de00 113.5deg,#f3f900 115deg,#feff00 116deg,#f5fa00 129deg,#d6f100 134deg,#a2e300 142deg,#07ba00 173.5deg,#00be18 178.5deg,#00e2a4 206deg,#00f2c7 217.5deg,#00fefa 225.5deg,#00fefa 250.5deg,#00fbed 253deg,#00df9d 257.5deg,#00ca47 259.5deg,#06ba00 261deg,#81d800 263.5deg,#d1f000 266deg,#feff00 267.5deg,#ffd600 271deg,#ffc600 279.5deg,#ffe200 289deg,#fbfd00 294.5deg,#aae600 301.5deg,#63d100 318deg,#39c600 335.5deg,#00b904 346.5deg,#00ce58 360deg)"></i>
<i style="width:244px;height:244px;left:-122px;top:-122px;background:conic-gradient(#00d060 0deg,#00e0a1 17deg,#00f1c6 39.5deg,#00fffe 51.5deg,#40dfff 54.5deg,#40aaff 70.5deg,#409dff 89deg,#40a9ff 99deg,#40c2ff 103.5deg,#40d0ff 105deg,#00c124 105.5deg,#00bb0a 107.5deg,#0aba00 109deg,#28c200 111deg,#44c900 111.5deg,#78d600 112deg,#e3f500 113.5deg,#f8fc00 114deg,#ff0 116.5deg,#f4fa00 128.5deg,#a1e300 141.5deg,#14bd00 170.5deg,#00ba07 174.5deg,#00d575 194.5deg,#00e3a5 206deg,#00f1c6 216.5deg,#00fefa 224deg,#00fefa 249deg,#00fcf2 251.5deg,#00e5aa 256deg,#00dd93 257deg,#05b900 260deg,#6cd300 262deg,#f5fa00 266deg,#ff0 266.5deg,#ffd600 270deg,#ffc600 278.5deg,#ffe200 288deg,#fcfe00 293.5deg,#abe600 300.5deg,#63d100 317deg,#3bc700 334deg,#00b904 345.5deg,#00d060 360deg)"></i>
<i style="width:240px;height:240px;left:-120px;top:-120px;background:conic-gradient(#00d266 0deg,#00e1a1 16deg,#00f1c3 38deg,#0ff 50.5deg,#3ee1ff 53deg,#40afff 67deg,#409eff 79.5deg,#40a3ff 95.5deg,#40bdff 102deg,#40cfff 104deg,#00c123 104.5deg,#00b800 107deg,#1fc000 109.5deg,#2fc400 110deg,#52cc00 110.5deg,#84d900 111deg,#ebf700 112.5deg,#fbfd00 113deg,#fafc00 125deg,#e8f600 130deg,#a7e500 139.5deg,#1bbf00 168.5deg,#00b904 173deg,#00cf5b 187.5deg,#00e1a3 204deg,#00f0c0 215deg,#00fdf8 222.5deg,#0ff 233.5deg,#00fdf5 250deg,#00f5d4 252.5deg,#00eab5 254.5deg,#00e09e 256deg,#01b800 259deg,#69d200 261deg,#f5fa00 265deg,#ff0 265.5deg,#ffd900 268.5deg,#ffc600 276.5deg,#ffde00 286.5deg,#fdfe00 292.5deg,#d4f100 296deg,#a9e600 300deg,#62d000 317deg,#3bc700 333deg,#00b903 344.5deg,#00d266 360deg)"></i>
<i style="width:236px;height:236px;left:-118px;top:-118px;background:conic-gradient(#00d36b 0deg,#00e2a3 16deg,#00f1c4 36.5deg,#00fffe 48.5deg,#40dfff 51.5deg,#40acff 66.5deg,#409eff 81deg,#40a4ff 95deg,#40bdff 101deg,#40ccff 103deg,#00c123 103.5deg,#02b800 106deg,#24c100 108.5deg,#3bc700 109deg,#93de00 110deg,#f3f900 111.5deg,#ff0 112.5deg,#f5fa00 126deg,#cbef00 132.5deg,#89db00 145deg,#1bbf00 167.5deg,#00b905 172deg,#00d983 193deg,#00e3a5 202.5deg,#00f0c1 213.5deg,#00fef9 221.5deg,#00fffd 243deg,#00fdf5 249deg,#00f4d2 251.5deg,#00de99 255deg,#05b900 258deg,#6bd300 260deg,#f8fc00 264deg,#fff400 265deg,#ffd500 268deg,#ffc600 276deg,#ffde00 285.5deg,#fafd00 292deg,#aee700 298.5deg,#66d200 314deg,#3ac600 332deg,#00b904 343.5deg,#00d36b 360deg)"></i>
<i style="width:232px;height:232px;left:-116px;top:-116px;background:conic-gradient(#00d46f 0deg,#00e2a4 15deg,#00f1c5 35deg,#0ff 47deg,#40e0ff 49.5deg,#40afff 64deg,#409eff 78.5deg,#40a3ff 93.5deg,#40bcff 100deg,#40c9ff 102deg,#00c122 102.5deg,#04b900 105deg,#1dbf00 107deg,#2bc300 107.5deg,#48ca00 108deg,#a2e300 109deg,#e4f500 110deg,#f8fc00 110.5deg,#ff0 112.5deg,#f4fa00 125deg,#9ee200 139.5deg,#1abe00 166.5deg,#00b905 171deg,#00db8b 192deg,#00e3a6 200deg,#00f1c2 212deg,#00fef9 220.5deg,#00fdf7 247.5deg,#00f6d9 250deg,#00e9b3 252.5deg,#00e2a4 253.5deg,#00d77c 254.5deg,#00bc12 256.5deg,#0aba00 257deg,#82d900 259.5deg,#ddf300 262deg,#fcfe00 263deg,#ffd700 266.5deg,#ffc600 274.5deg,#fd0 284.5deg,#fbfd00 291deg,#ade700 298deg,#64d100 313.5deg,#38c600 331deg,#00b905 342.5deg,#00d269 358.5deg,#00d46f 360deg)"></i>
<i style="width:228px;height:228px;left:-114px;top:-114px;background:conic-gradient(#00d573 0deg,#00e2a4 14deg,#00f1c6 33.5deg,#04fdff 45.5deg,#3ae3ff 47.5deg,#40d7ff 50deg,#40a9ff 65deg,#409cff 86.5deg,#40b0ff 97deg,#40c6ff 100.5deg,#00c124 101deg,#00ba09 103deg,#06b900 104deg,#21c000 106deg,#35c500 106.5deg,#afe800 108deg,#eef800 109deg,#ff0 110deg,#f5fb00 123deg,#d7f200 128.5deg,#99e000 139.5deg,#19be00 165.5deg,#00b906 170deg,#00dc91 190.5deg,#00e4a8 198deg,#00f1c4 210.5deg,#00fefa 219.5deg,#00fdf6 246.5deg,#00f6d7 249deg,#00e1a2 252.5deg,#00c942 254.5deg,#00bb0d 255.5deg,#0ebb00 256deg,#84d900 258.5deg,#f4fa00 261.5deg,#fffe00 262deg,#ffd900 265deg,#ffc600 272.5deg,#ffd800 282.5deg,#fcfd00 290deg,#afe800 297deg,#66d100 311.5deg,#37c600 330deg,#00b903 341deg,#00d266 357deg,#00d573 360deg)"></i>
<i style="width:224px;height:224px;left:-112px;top:-112px;background:conic-gradient(#00d677 0deg,#00e3a6 13.5deg,#00f2c7 32deg,#00fffe 43.5deg,#40e0ff 46deg,#40b1ff 60deg,#409dff 77deg,#40a3ff 91.5deg,#40beff 98.5deg,#40c3ff 99.5deg,#00c123 100deg,#02b800 102.5deg,#1abf00 104.5deg,#28c200 105deg,#43c900 105.5deg,#bdeb00 107deg,#def300 107.5deg,#f4fa00 108deg,#ff0 109.5deg,#f4fa00 122deg,#96df00 139deg,#15bd00 165deg,#00ba06 169deg,#00de96 189deg,#00eab4 202deg,#00f2c9 209.5deg,#00fefa 218.5deg,#00fdf6 245.5deg,#00f3cc 248.5deg,#00e09e 251.5deg,#00ba09 254.5deg,#2bc300 255.5deg,#97e000 258deg,#f8fc00 260.5deg,#ffeb00 262deg,#ffd100 265.5deg,#ffc600 273.5deg,#fd0 282.5deg,#fdfe00 289deg,#ade700 296.5deg,#65d100 310.5deg,#35c500 329deg,#00b904 340deg,#00d164 355.5deg,#00d677 360deg)"></i>
<i style="width:220px;height:220px;left:-110px;top:-110px;background:conic-gradient(#00d67a 0deg,#00e3a7 12.5deg,#00f2c9 30.5deg,#00fffe 42deg,#40dfff 44.5deg,#40b0ff 58.5deg,#409dff 77.5deg,#40a4ff 91.5deg,#40c0ff 98.5deg,#00c123 99deg,#04b900 101.5deg,#1ebf00 103.5deg,#30c400 104deg,#53cd00 104.5deg,#82d900 105deg,#e9f600 106.5deg,#fefe00 107.5deg,#f7fb00 119.5deg,#dff400 125deg,#98e000 137.5deg,#14bd00 164deg,#00b903 167.5deg,#00d267 180.5deg,#00e09e 188deg,#00f1c6 207deg,#00fefa 217.5deg,#00fdf5 244.5deg,#00f2ca 247.5deg,#00de99 250.5deg,#00b904 253.5deg,#9be100 257deg,#f0f800 259deg,#fcfe00 259.5deg,#ffd700 263deg,#ffc600 270.5deg,#ffd800 280.5deg,#f9fc00 288.5deg,#abe600 296deg,#65d100 309deg,#34c500 328deg,#00b905 339deg,#00d062 354deg,#00d67a 360deg)"></i>
<i style="width:216px;height:216px;left:-108px;top:-108px;background:conic-gradient(#00d77d 0deg,#00e3a6 11deg,#00f2c8 28.5deg,#0ff 40.5deg,#3be2ff 42.5deg,#40b5ff 54.5deg,#409eff 73.5deg,#40a1ff 89deg,#40bdff 97.5deg,#00c122 98deg,#00b801 100deg,#21c000 102.5deg,#39c600 103deg,#b6ea00 104.5deg,#daf300 105deg,#f2f900 105.5deg,#ff0 107deg,#f5fa00 119deg,#d0f000 126deg,#82d900 141.5deg,#09ba00 164.5deg,#00bb0b 167.5deg,#00cf5e 178deg,#00e0a1 186deg,#00f2c9 205.5deg,#00fefa 216.5deg,#00fcf4 243.5deg,#00f2c9 246.5deg,#00e2a4 249deg,#00d77d 250deg,#00b801 252.5deg,#8bdc00 255.5deg,#f4fa00 258deg,#fffe00 258.5deg,#ffdc00 261deg,#ffc600 267.5deg,#ffd300 278.5deg,#fafd00 287.5deg,#a9e600 295.5deg,#64d100 308deg,#34c500 326.5deg,#00b904 337.5deg,#00d060 352.5deg,#00d77d 360deg)"></i>
<i style="width:212px;height:212px;left:-106px;top:-106px;background:conic-gradient(#00d880 0deg,#00e3a7 10deg,#00f2c9 27deg,#01feff 39deg,#3ee1ff 41deg,#40b3ff 53.5deg,#409cff 75.5deg,#40a4ff 89.5deg,#40baff 96deg,#00c124 96.5deg,#01b800 99deg,#1bbf00 101deg,#29c200 101.5deg,#48ca00 102deg,#9fe200 103deg,#e6f500 104deg,#f6fb00 104.5deg,#ff0 106.5deg,#f4fa00 118deg,#8bdc00 138.5deg,#0cbb00 163deg,#00ba08 166deg,#00cd53 175.5deg,#00e0a0 183.5deg,#00f2ca 203.5deg,#00fef9 215deg,#00fdf6 242deg,#00f4d0 245deg,#00e1a2 248deg,#03b900 251.5deg,#8edd00 254.5deg,#f8fc00 257deg,#ffea00 258.5deg,#ffcf00 262.5deg,#ffc700 270.5deg,#ffdb00 279.5deg,#fbfd00 286.5deg,#a7e500 295deg,#65d100 306.5deg,#33c500 325.5deg,#00b905 336.5deg,#00cf5e 351deg,#00d880 360deg)"></i>
<i style="width:208px;height:208px;left:-104px;top:-104px;background:conic-gradient(#00d983 0deg,#00e4a8 9deg,#00f3cb 25.5deg,#04fdff 37.5deg,#40e0ff 39.5deg,#40b4ff 51.5deg,#409cff 75deg,#40a5ff 89deg,#40b7ff 95deg,#00c123 95.5deg,#03b900 98deg,#1ec000 100deg,#32c400 100.5deg,#ade700 102deg,#d4f100 102.5deg,#f0f800 103deg,#ff0 104.5deg,#f6fb00 116deg,#d1f000 123.5deg,#0bbb00 162deg,#00bb0b 165.5deg,#00cc51 174deg,#00e1a2 182deg,#00f3ce 202deg,#00fef9 214deg,#00fdf6 241deg,#00f3ce 244deg,#00e09e 247deg,#00bc12 250deg,#06b900 250.5deg,#92de00 253.5deg,#edf700 255.5deg,#fcfe00 256deg,#ffda00 259deg,#ffc600 266deg,#ffd400 277deg,#fcfe00 285.5deg,#a1e300 295deg,#64d100 305.5deg,#31c400 324.5deg,#00b903 335deg,#00cf5c 349.5deg,#00d983 360deg)"></i>
<i style="width:204px;height:204px;left:-102px;top:-102px;background:conic-gradient(#00da87 0deg,#00e4a7 7.5deg,#00f2ca 23.5deg,#00fffd 35.5deg,#14f5ff 36.5deg,#40e0ff 38deg,#40b5ff 49deg,#409dff 71.5deg,#40a2ff 86.5deg,#40b5ff 94deg,#00c123 94.5deg,#00b802 96.5deg,#22c100 99deg,#3cc700 99.5deg,#98e000 100.5deg,#e2f500 101.5deg,#f6fb00 102deg,#ff0 104.5deg,#f4fa00 115.5deg,#82d900 138.5deg,#00b802 163deg,#00c944 171.5deg,#00e1a2 180deg,#00f6d8 202deg,#00fef9 213.5deg,#00fdf6 234deg,#00fdf5 240deg,#00f3cd 243deg,#00de99 246deg,#00bc0e 249deg,#09ba00 249.5deg,#f3f900 254.5deg,#fffe00 255deg,#ffdc00 257.5deg,#ffc600 264deg,#ffd200 275.5deg,#fefe00 284.5deg,#9ee200 294.5deg,#65d100 304deg,#30c400 323.5deg,#00b904 334deg,#00cf5c 348.5deg,#00da87 360deg)"></i>
<i style="width:200px;height:200px;left:-100px;top:-100px;background:conic-gradient(#00db8c 0deg,#00e4a8 6.5deg,#00f3cc 22deg,#00fffe 34deg,#40dfff 36.5deg,#40b8ff 46deg,#40a3ff 61.5deg,#409dff 82deg,#40b1ff 92.5deg,#00c124 93deg,#00bc12 94.5deg,#01b800 95.5deg,#27c200 98deg,#49ca00 98.5deg,#81d800 99deg,#f0f800 100.5deg,#fefe00 101.5deg,#f7fb00 113deg,#c9ee00 122.5deg,#13bd00 158.5deg,#00b906 162.5deg,#00c841 170deg,#00e1a3 178.5deg,#00fef9 212deg,#00fdf5 232deg,#00fcf4 239deg,#00f3cb 242deg,#00e2a4 244.5deg,#00cc50 246.5deg,#00bb0b 248deg,#0bbb00 248.5deg,#f7fb00 253.5deg,#fff100 254.5deg,#ffd700 257deg,#ffc600 263.5deg,#ffd300 275deg,#fafd00 284deg,#9ae100 294deg,#64d100 303deg,#2ec400 322.5deg,#00b905 333deg,#00ce5a 347deg,#00db8c 360deg)"></i>
<i style="width:196px;height:196px;left:-98px;top:-98px;background:conic-gradient(#00dc92 0deg,#00e6ab 6.5deg,#00f3cb 20deg,#0ff 32.5deg,#40dfff 35deg,#40baff 43.5deg,#40a5ff 57deg,#409dff 80.5deg,#40afff 91.5deg,#00c123 92deg,#03b900 94.5deg,#1fc000 96.5deg,#31c400 97deg,#90dd00 98deg,#ddf300 99deg,#f6fb00 99.5deg,#ff0 101deg,#f6fb00 112deg,#2ec400 152.5deg,#00b903 161deg,#00c73d 168.5deg,#00e2a4 177deg,#00f0bf 187deg,#00fdf8 210deg,#00fcf3 230.5deg,#00fdf7 237.5deg,#00f4d2 240.5deg,#00e1a1 243.5deg,#00ba08 247deg,#23c100 248deg,#eaf700 252deg,#fbfd00 252.5deg,#ffdc00 255deg,#ffc600 261.5deg,#ffd100 273.5deg,#fffb00 282deg,#def400 286deg,#97e000 293.5deg,#63d100 302deg,#2dc300 321.5deg,#00b903 331.5deg,#00ce58 345.5deg,#00dc92 360deg)"></i>
<i style="width:192px;height:192px;left:-96px;top:-96px;background:conic-gradient(#00de98 0deg,#00edba 12deg,#00f7de 23deg,#03feff 31deg,#40dfff 33.5deg,#40baff 41.5deg,#40a5ff 54deg,#409cff 79deg,#40acff 90.5deg,#00c123 91deg,#00b802 93deg,#23c100 95.5deg,#3fc800 96deg,#a1e300 97deg,#edf700 98deg,#fcfd00 98.5deg,#f9fc00 109.5deg,#d4f100 118deg,#30c400 151deg,#00b903 160deg,#00c73a 167deg,#00e1a2 175deg,#00eebd 182.5deg,#00fdf7 207.5deg,#00fcf2 229deg,#00fdf6 236.5deg,#00f4d0 239.5deg,#00df9d 242.5deg,#00b905 246deg,#3ec700 247.5deg,#f2f900 251deg,#fffd00 251.5deg,#ffde00 253.5deg,#ffc600 260deg,#ffd100 272.5deg,#fffa00 281deg,#e6f500 284.5deg,#97e000 292.5deg,#63d100 300.5deg,#2bc300 320.5deg,#00b904 330.5deg,#00ce56 344deg,#00dc8f 358.5deg,#00de98 360deg)"></i>
<i style="width:188px;height:188px;left:-94px;top:-94px;background:conic-gradient(#00e09e 0deg,#00f3cb 17deg,#00fffe 29deg,#40dfff 32deg,#40baff 40.5deg,#40a5ff 53.5deg,#409bff 77.5deg,#40abff 89deg,#00c124 89.5deg,#03b900 92deg,#20c000 94deg,#33c500 94.5deg,#5ecf00 95deg,#93de00 95.5deg,#e0f400 96.5deg,#f8fc00 97deg,#ff0 98.5deg,#f5fa00 110deg,#4ccb00 145deg,#00b905 159.5deg,#00c83e 166.5deg,#00e1a3 174.5deg,#00fbef 200deg,#00fdf9 211.5deg,#00fcf4 228deg,#00fdf5 235.5deg,#00f1c6 239deg,#00df9b 241.5deg,#00ba0a 245deg,#0abb00 245.5deg,#6dd300 247.5deg,#f6fb00 250.5deg,#fff400 251.5deg,#ffce00 257.5deg,#ffcb00 269deg,#ffed00 278deg,#fafd00 281.5deg,#97e000 291.5deg,#64d100 299.5deg,#20c000 322deg,#00b905 330deg,#00cd54 343deg,#00dd92 358deg,#00e09e 360deg)"></i>
<i style="width:184px;height:184px;left:-92px;top:-92px;background:conic-gradient(#00e1a2 0deg,#00f2ca 15.5deg,#0ff 27.5deg,#40dfff 30.5deg,#40b8ff 40deg,#40a4ff 54.5deg,#409bff 76.5deg,#40abff 88deg,#00c123 88.5deg,#00b801 90.5deg,#1cbf00 92.5deg,#2cc300 93deg,#4ecc00 93.5deg,#83d900 94deg,#d3f100 95deg,#f1f900 95.5deg,#ff0 96.5deg,#f6fb00 108.5deg,#5bcf00 141.5deg,#00b904 158.5deg,#00c73d 165.5deg,#00e2a3 174deg,#00fcf2 200deg,#00fdf9 212deg,#00fdf6 228deg,#00fdf7 234deg,#00f3cf 237.5deg,#00de99 240.5deg,#03b900 244.5deg,#93de00 247.5deg,#e8f600 249.5deg,#ff0 250.5deg,#ffd100 257deg,#ffca00 267deg,#ffe700 276deg,#fbfd00 280.5deg,#98e000 290.5deg,#63d100 299deg,#15bd00 324deg,#00ba06 329.5deg,#00cd52 342deg,#00dd95 357.5deg,#00e1a2 360deg)"></i>
<i style="width:180px;height:180px;left:-90px;top:-90px;background:conic-gradient(#00e2a4 0deg,#00f2c9 14deg,#03fdff 26deg,#3de2ff 28.5deg,#40baff 38deg,#40a4ff 53deg,#409aff 75deg,#40aaff 86.5deg,#00c124 87deg,#04b900 89.5deg,#25c100 91.5deg,#3fc800 92deg,#c6ee00 93.5deg,#e8f600 94deg,#f9fc00 94.5deg,#ff0 99deg,#eff800 110deg,#59ce00 141deg,#00b903 157.5deg,#00c73c 164.5deg,#00e1a3 173.5deg,#00fcf3 198.5deg,#00fefa 210.5deg,#00fef9 228deg,#00fdf6 233deg,#00f3ce 236.5deg,#00de99 239.5deg,#00b904 243.5deg,#3fc800 245deg,#89db00 246.5deg,#e5f500 249deg,#fdfe00 250.5deg,#ffd400 256.5deg,#ffca00 265.5deg,#ffe300 274.5deg,#fdfe00 279.5deg,#98e000 289.5deg,#63d100 298deg,#0cbb00 325.5deg,#00ba07 329deg,#00cc50 341deg,#00df9e 358deg,#00e2a4 360deg)"></i>
<i style="width:176px;height:176px;left:-88px;top:-88px;background:conic-gradient(#00e3a6 0deg,#00f2ca 13deg,#00fffe 24deg,#40e0ff 27deg,#40b7ff 38deg,#409cff 61deg,#409dff 76.5deg,#40a9ff 85.5deg,#00c123 86deg,#00b800 88deg,#20c000 90deg,#35c500 90.5deg,#b7ea00 92deg,#ddf300 92.5deg,#f4fa00 93deg,#ff0 94deg,#f5fa00 107deg,#b6e900 121.5deg,#5acf00 140deg,#00b904 157deg,#00c840 164deg,#00e0a0 172.5deg,#00f4d2 186deg,#00fefc 202deg,#00fdf5 232deg,#00f3cd 235.5deg,#00de9a 238.5deg,#00bb0c 242.5deg,#08ba00 243deg,#8fdd00 246deg,#dbf300 248.5deg,#fefe00 250.5deg,#ffd700 255.5deg,#ffca00 263deg,#ffdc00 272deg,#fafd00 279deg,#99e000 288.5deg,#62d000 297.5deg,#06ba00 326deg,#00bd13 330deg,#00cd53 341deg,#00e3a6 360deg)"></i>
<i style="width:172px;height:172px;left:-86px;top:-86px;background:conic-gradient(#00e4a8 0deg,#00f2c9 11.5deg,#01ffff 22.5deg,#40e0ff 25.5deg,#40b5ff 37.5deg,#4097ff 68deg,#40a9ff 84deg,#00c124 84.5deg,#05b900 87deg,#1bbf00 88.5deg,#2bc300 89deg,#4dcb00 89.5deg,#a9e600 90.5deg,#d3f100 91deg,#f0f800 91.5deg,#ff0 92.5deg,#f5fa00 106deg,#beeb00 119.5deg,#58ce00 139.5deg,#00b903 156deg,#00c73e 163deg,#00e09f 172deg,#00f3ce 184deg,#00fefb 199deg,#00fdf7 230.5deg,#00f5d6 234deg,#00df9c 237.5deg,#00b802 242deg,#82d900 245deg,#f4fa00 249.5deg,#fffb00 250.5deg,#ffd500 255.5deg,#ffca00 264deg,#ffe200 272.5deg,#fbfd00 278deg,#99e000 287.5deg,#5dcf00 297.5deg,#09ba00 325deg,#00ba0a 328deg,#00cc4f 339.5deg,#00e3a6 359deg,#00e4a8 360deg)"></i>
<i style="width:168px;height:168px;left:-84px;top:-84px;background:conic-gradient(#00e5a9 0deg,#00f2ca 10.5deg,#05fdff 21deg,#3be2ff 23.5deg,#40b7ff 35.5deg,#4096ff 65.5deg,#40a8ff 83deg,#00c122 83.5deg,#01b800 85.5deg,#23c100 87.5deg,#3fc800 88deg,#c5ed00 89.5deg,#e7f600 90deg,#fefe00 91deg,#f6fb00 104.5deg,#c8ee00 117deg,#5ccf00 138deg,#00b905 155.5deg,#00ca46 163deg,#00e0a1 172deg,#00f3ce 183deg,#00fefc 197.5deg,#00fdf7 229.5deg,#00f5d5 233deg,#00e7ae 235.5deg,#00e09f 236.5deg,#00bb0c 241deg,#08ba00 241.5deg,#82d900 244.5deg,#d9f200 248deg,#fdfe00 249.5deg,#ffd200 255.5deg,#fc0 265deg,#fe0 274deg,#fcfe00 277deg,#9ae100 286.5deg,#59ce00 297.5deg,#0bbb00 324deg,#00ba08 327deg,#00cc50 339deg,#00e3a5 358deg,#00e5a9 360deg)"></i>
<i style="width:164px;height:164px;left:-82px;top:-82px;background:conic-gradient(#00e5ab 0deg,#00f2c8 9deg,#0ff 19deg,#3fe0ff 22deg,#40b5ff 35.5deg,#4096ff 67deg,#40a7ff 81.5deg,#00c124 82deg,#00bb0d 83.5deg,#05b900 84.5deg,#1dbf00 86deg,#2fc400 86.5deg,#def300 88.5deg,#f4fa00 89deg,#ff0 90.5deg,#f4fa00 105deg,#c8ee00 116.5deg,#5acf00 137.5deg,#00b903 154.5deg,#00cb4e 163deg,#00e0a0 171.5deg,#00f4cf 182deg,#00fefd 196deg,#04fdff 204.5deg,#00fdf6 228.5deg,#00f7de 231.5deg,#00e7af 234.5deg,#00dd95 236deg,#00be18 240deg,#00b906 240.5deg,#7ed800 244deg,#baea00 246.5deg,#f6fb00 248.5deg,#ff0 249deg,#ffd300 254.5deg,#fc0 264deg,#ffed00 273deg,#fafc00 276.5deg,#9ee200 285deg,#58ce00 296.5deg,#33c500 309deg,#0dbb00 323deg,#00b906 326deg,#00cd53 339deg,#00e2a4 357deg,#00e5ab 360deg)"></i>
<i style="width:160px;height:160px;left:-80px;top:-80px;background:conic-gradient(#00e6ac 0deg,#00f2c9 8deg,#0ff 17.5deg,#40e0ff 20.5deg,#40b4ff 35deg,#4095ff 65.5deg,#40a7ff 80.5deg,#00c123 81deg,#00b800 83deg,#22c000 85deg,#3dc700 85.5deg,#c6ed00 87deg,#eaf700 87.5deg,#fdfe00 88.5deg,#f6fb00 103deg,#d3f100 114deg,#5fd000 136deg,#00b904 154deg,#00d162 164.5deg,#00e2a3 172deg,#00f4cf 181deg,#00fffd 194.5deg,#0cf9ff 201deg,#0ff 218.5deg,#00fcf4 228deg,#00f6d8 231deg,#00e6ac 234deg,#00dc91 235.5deg,#00c22a 239deg,#00ba06 240deg,#54cd00 242.5deg,#cbef00 246.5deg,#f8fc00 248deg,#fff900 249deg,#ffd200 254deg,#fc0 263.5deg,#fe0 272.5deg,#fbfd00 275.5deg,#9ce100 284.5deg,#4fcc00 297.5deg,#2ec300 311deg,#10bc00 322deg,#00ba06 325.5deg,#00cf5c 340deg,#00e2a5 356.5deg,#00e6ac 360deg)"></i>
<i style="width:156px;height:156px;left:-78px;top:-78px;background:conic-gradient(#00e7ae 0deg,#00f2ca 7deg,#0ff 16deg,#40e0ff 19deg,#40b3ff 34.5deg,#4095ff 64.5deg,#40a6ff 79.5deg,#00c122 80deg,#02b900 82deg,#19be00 83.5deg,#28c200 84deg,#4dcb00 84.5deg,#83d900 85deg,#d7f200 86deg,#f4fa00 86.5deg,#ff0 88deg,#f3f900 104.5deg,#d1f000 114deg,#61d000 135deg,#00b905 153.5deg,#00e3a5 172deg,#00f4cf 180deg,#00fefd 192.5deg,#12f6ff 199deg,#00fef9 226deg,#00f8e2 229.5deg,#00ebb5 232.5deg,#00dc91 235deg,#00bf1a 239deg,#08ba00 240deg,#d0f000 246deg,#f1f900 247deg,#fffd00 248deg,#ffd400 253deg,#ffcb00 262.5deg,#ffec00 271.5deg,#fdfe00 274.5deg,#9de200 283.5deg,#4bcb00 297deg,#2fc400 309deg,#15bd00 320.5deg,#00b903 324.5deg,#00d268 341.5deg,#00e2a5 356deg,#00e7ae 360deg)"></i>
<i style="width:152px;height:152px;left:-76px;top:-76px;background:conic-gradient(#00e8b0 0deg,#00f2ca 6deg,#01feff 14.5deg,#40dfff 17.5deg,#40b3ff 34deg,#4094ff 63.5deg,#40a6ff 78.5deg,#00c022 79deg,#05b900 81deg,#1dbf00 82.5deg,#2ec400 83deg,#94df00 84deg,#e9f600 85deg,#fafd00 85.5deg,#fafd00 99deg,#e2f500 110deg,#62d100 134deg,#00b902 152.5deg,#00de98 169.5deg,#00f9e7 184deg,#05fdff 192.5deg,#17f4ff 196.5deg,#08fbff 219deg,#00fefa 225deg,#00f9e5 228.5deg,#00eab4 232deg,#00dd93 234.5deg,#01b800 239.5deg,#66d100 242.5deg,#e8f600 246deg,#fffc00 247.5deg,#ffd400 252deg,#ffcb00 262deg,#ffed00 271deg,#fafd00 274deg,#9ee200 282.5deg,#48ca00 296.5deg,#30c400 308deg,#18be00 319.5deg,#00b904 324deg,#00d678 344deg,#00e3a7 356.5deg,#00e8b0 360deg)"></i>
<i style="width:148px;height:148px;left:-74px;top:-74px;background:conic-gradient(#00eab3 0deg,#00f3cb 5deg,#02feff 13deg,#40dfff 16deg,#40b3ff 33deg,#4094ff 62deg,#40a5ff 77deg,#00c124 77.5deg,#00bb0b 79deg,#07ba00 80deg,#22c000 81.5deg,#3bc700 82deg,#a5e400 83deg,#f4fa00 84deg,#ff0 85deg,#f3f900 104deg,#d6f200 112deg,#5ecf00 134deg,#00b903 152deg,#00db8d 168deg,#00e6ac 172deg,#00faea 183.5deg,#03feff 190.5deg,#1cf1ff 194.5deg,#15f5ff 215.5deg,#00fffd 222.5deg,#00fbed 227deg,#00ecb8 231deg,#00de96 234deg,#00ba07 239deg,#19be00 240deg,#68d200 242deg,#def300 245deg,#feff00 246.5deg,#ffd500 251deg,#ffca00 261deg,#ffeb00 270deg,#fcfe00 273deg,#9be100 282deg,#45c900 296deg,#30c400 307deg,#1dbf00 318deg,#00b905 323.5deg,#00d77d 344deg,#00e5aa 357deg,#00eab3 360deg)"></i>
<i style="width:144px;height:144px;left:-72px;top:-72px;background:conic-gradient(#00ebb7 0deg,#00f4d1 4.5deg,#0ff 11.5deg,#40dfff 14.5deg,#40b4ff 31.5deg,#4094ff 60.5deg,#40a4ff 76deg,#00c124 76.5deg,#03b900 78.5deg,#2bc300 80.5deg,#4ecc00 81deg,#87da00 81.5deg,#dbf300 82.5deg,#f6fb00 83deg,#fdfe00 85.5deg,#f1f800 105deg,#beeb00 115.5deg,#62d000 132.5deg,#00b905 151.5deg,#00db8a 167deg,#00e4a8 170.5deg,#00faea 182.5deg,#05fdff 189.5deg,#1ef1ff 193.5deg,#1bf2ff 213.5deg,#00fffd 221deg,#00fbee 226deg,#00ebb6 230.5deg,#00e09e 233deg,#00bd15 238deg,#00b906 238.5deg,#2fc400 240deg,#9de200 242.5deg,#f0f800 245deg,#fffe00 246deg,#ffd800 250deg,#ffc900 259.5deg,#ffe700 268.5deg,#fafc00 272.5deg,#98e000 281.5deg,#44c900 295deg,#30c400 306deg,#1fc000 317deg,#00b903 322.5deg,#00d77d 343deg,#00ebb7 360deg)"></i>
<i style="width:140px;height:140px;left:-70px;top:-70px;background:conic-gradient(#00eebc 0deg,#00fffe 10deg,#3ee1ff 13deg,#40b6ff 29deg,#4095ff 59.5deg,#40a4ff 75deg,#00c126 75.5deg,#00b904 77deg,#26c200 79deg,#37c600 79.5deg,#92de00 80.5deg,#def300 81.5deg,#f3f900 82deg,#f8fc00 97deg,#e7f600 107deg,#66d100 131deg,#00b905 150.5deg,#00d984 165.5deg,#00e3a5 169deg,#00fbec 182.5deg,#02feff 188.5deg,#1bf2ff 192.5deg,#1bf2ff 212deg,#00fffd 219.5deg,#00fbf0 224.5deg,#00ebb6 229.5deg,#00e09e 232deg,#00ba0a 237.5deg,#06b900 238deg,#56cd00 240deg,#96df00 241.5deg,#f2f900 244.5deg,#fffd00 245.5deg,#ffdb00 249.5deg,#ffca00 258.5deg,#ffe800 268deg,#fdfe00 271.5deg,#beeb00 277deg,#87da00 282.5deg,#42c800 294.5deg,#2dc300 309.5deg,#19be00 317deg,#00ba06 322deg,#00d77e 341.5deg,#00e6ab 355deg,#00eebc 360deg)"></i>
<i style="width:136px;height:136px;left:-68px;top:-68px;background:conic-gradient(#00f0c1 0deg,#0ff 9deg,#40dfff 12deg,#40b5ff 28.5deg,#4096ff 58.5deg,#40a4ff 74deg,#00c227 74.5deg,#00b800 76deg,#42c800 78.5deg,#9ce100 79.5deg,#dff400 80.5deg,#f0f800 81deg,#f6fb00 98deg,#e7f600 106deg,#64d100 130.5deg,#00b905 149.5deg,#00d983 164.5deg,#00e4a7 168.5deg,#00fbef 182.5deg,#04fdff 188deg,#1af3ff 192deg,#1cf2ff 210.5deg,#00fffd 218deg,#00fbee 223.5deg,#00ebb5 228.5deg,#00e09e 231deg,#00b800 237deg,#4fcc00 239deg,#8fdd00 240.5deg,#f3f900 244deg,#fff700 245.5deg,#ffd800 250deg,#ffcb00 258deg,#ffe600 267deg,#fcfe00 271deg,#d0f000 275deg,#90dd00 280deg,#48ca00 292deg,#32c400 302.5deg,#20c000 314.5deg,#00b905 321deg,#00d880 340.5deg,#00e5ab 353.5deg,#00f0c1 360deg)"></i>
<i style="width:132px;height:132px;left:-66px;top:-66px;background:conic-gradient(#00f3cc 0deg,#00fffe 7.5deg,#3fe0ff 10.5deg,#40b6ff 26.5deg,#4097ff 57.5deg,#40a3ff 72.5deg,#00c32c 73deg,#00bf1b 74deg,#05b900 75deg,#3bc700 77deg,#52cd00 77.5deg,#7fd800 78deg,#dcf300 79.5deg,#e8f600 80deg,#f6fb00 92.5deg,#ebf700 104deg,#68d200 129deg,#00b905 148.5deg,#00d882 163.5deg,#00e3a7 167.5deg,#00fdf5 183.5deg,#06fcff 187.5deg,#18f3ff 191.5deg,#1df1ff 208.5deg,#00fffd 216.5deg,#00fbec 222.5deg,#00ecb9 227deg,#00e09e 230deg,#00b905 236deg,#1ec000 237deg,#88db00 239.5deg,#f4fa00 243.5deg,#fff700 245deg,#ffd500 250.5deg,#fc0 257.5deg,#ffe700 266.5deg,#fcfd00 270.5deg,#d5f100 274deg,#94df00 278.5deg,#4ecb00 289.5deg,#34c500 299.5deg,#1fc000 313.5deg,#00b905 320deg,#00d880 339deg,#00e5a9 351.5deg,#00f2c8 359.5deg,#00f3cc 360deg)"></i>
<i style="width:128px;height:128px;left:-64px;top:-64px;background:conic-gradient(#00f5d6 0deg,#02feff 6.5deg,#3be2ff 9deg,#40b9ff 23.5deg,#4098ff 56deg,#40a3ff 71.5deg,#00c32d 72deg,#00be17 73deg,#00b905 73.5deg,#48ca00 76deg,#a8e500 77.5deg,#d8f200 78.5deg,#eaf700 82deg,#f4fa00 96.5deg,#e6f600 104deg,#65d100 128.5deg,#00b905 147.5deg,#00d881 162.5deg,#00e3a6 166.5deg,#00fdf8 183.5deg,#04fdff 186.5deg,#16f4ff 190.5deg,#1df1ff 207deg,#00fffd 215deg,#00faea 221.5deg,#00ecb8 226deg,#00df9e 229deg,#00ba09 235deg,#07ba00 235.5deg,#90dd00 239deg,#f5fa00 243deg,#fff600 244.5deg,#ffd400 250.5deg,#ffcd00 257deg,#ffe800 266deg,#fbfd00 270deg,#d8f200 273deg,#91de00 277.5deg,#52cc00 287.5deg,#35c500 298deg,#1fc000 312.5deg,#00b904 319deg,#00ce57 331deg,#00db8b 340deg,#00f2c7 358deg,#00f5d6 360deg)"></i>
<i style="width:124px;height:124px;left:-62px;top:-62px;background:conic-gradient(#00f8e1 0deg,#0ff 5deg,#40dfff 8deg,#40b6ff 24deg,#4099ff 55.5deg,#40a2ff 70deg,#00c431 70.5deg,#00c020 71.5deg,#06b900 72.5deg,#59ce00 75deg,#9ae100 76deg,#c9ee00 77deg,#d8f200 78deg,#f2f900 88deg,#edf700 101deg,#6bd300 126.5deg,#00b902 146deg,#00d77c 161deg,#00e3a7 165.5deg,#00fef9 183deg,#07fcff 186deg,#18f3ff 192.5deg,#1df1ff 206deg,#00fffd 213.5deg,#00faeb 220deg,#00eab3 225.5deg,#00df9c 228deg,#00bb0b 234deg,#06b900 234.5deg,#8cdc00 238deg,#f8fc00 242.5deg,#fffa00 243.5deg,#ffd500 249.5deg,#ffcd00 255.5deg,#ffe400 264.5deg,#fdfe00 269deg,#e3f500 271.5deg,#94df00 276deg,#64d100 282.5deg,#3bc700 293deg,#1ebf00 311.5deg,#00b904 318deg,#00c945 327.5deg,#00d880 336deg,#00e4a7 347.5deg,#00f1c6 356.5deg,#00f8e1 360deg)"></i>
<i style="width:120px;height:120px;left:-60px;top:-60px;background:conic-gradient(#00faeb 0deg,#0ff 3.5deg,#40e0ff 6.5deg,#40b8ff 22deg,#409aff 54deg,#40a2ff 69deg,#00c532 69.5deg,#00be18 70.5deg,#00b903 71deg,#48ca00 73deg,#57ce00 73.5deg,#a2e300 75deg,#c7ee00 76deg,#e4f500 81.5deg,#f3f900 93deg,#e7f600 101.5deg,#68d200 126deg,#00b903 145deg,#00d677 159.5deg,#00e2a4 164deg,#00fefb 182.5deg,#09fbff 185.5deg,#20f0ff 199.5deg,#17f4ff 206.5deg,#00fffe 211.5deg,#00fae8 219deg,#00ebb6 224deg,#00de9a 227deg,#00bf1c 232.5deg,#04b900 233.5deg,#86da00 237deg,#f4fa00 241.5deg,#fff800 243deg,#ffd400 249deg,#ffce00 255deg,#ffe500 264deg,#fcfd00 268.5deg,#e4f500 270.5deg,#97e000 274.5deg,#73d500 278.5deg,#43c900 289deg,#1dbf00 310.5deg,#00ba06 317.5deg,#00c943 326deg,#00d87e 334deg,#00e3a5 345deg,#00f1c6 355deg,#00faeb 360deg)"></i>
<i style="width:116px;height:116px;left:-58px;top:-58px;background:conic-gradient(#00fcf4 0deg,#00fffe 2deg,#40e0ff 5deg,#40b8ff 20.5deg,#409bff 53deg,#40a2ff 67.5deg,#00c636 68deg,#00c123 69deg,#0aba00 70deg,#49ca00 71.5deg,#66d200 72.5deg,#97e000 73.5deg,#c3ed00 75deg,#e5f500 82.5deg,#f3f900 93.5deg,#e5f500 101deg,#68d200 125deg,#00b903 144deg,#00d678 158.5deg,#00e2a4 163deg,#00fefb 181.5deg,#08fbff 184.5deg,#20f0ff 199deg,#15f5ff 205.5deg,#00fffe 210deg,#00fae9 217.5deg,#00eab5 223deg,#00de98 226deg,#00c01e 231.5deg,#02b800 232.5deg,#81d800 236deg,#f7fb00 241deg,#fffb00 242deg,#ffd600 247.5deg,#ffcd00 253.5deg,#ffe000 262.5deg,#feff00 267.5deg,#e5f500 269.5deg,#9be100 273deg,#7ad600 276deg,#47ca00 286.5deg,#1cbf00 309.5deg,#00b906 316.5deg,#00c73b 324deg,#00d87f 332.5deg,#00e3a6 343.5deg,#00f1c5 353.5deg,#00fcf4 360deg)"></i>
<i style="width:112px;height:112px;left:-56px;top:-56px;background:conic-gradient(#00fefb 0deg,#06fcff 1deg,#3ee1ff 3.5deg,#40baff 18deg,#409cff 51.5deg,#40a1ff 66.5deg,#00c637 67deg,#00be19 68deg,#00b801 68.5deg,#47ca00 70deg,#abe600 73deg,#c4ed00 75deg,#e9f600 84.5deg,#f1f800 96deg,#c2ec00 107deg,#5fd000 125.5deg,#00b904 143deg,#00d573 157deg,#00e2a4 162deg,#00fefc 181deg,#1ff0ff 196.5deg,#17f4ff 203.5deg,#00fffd 208.5deg,#00f9e6 216.5deg,#00eab4 222deg,#00de97 225deg,#00c021 230.5deg,#00b801 231.5deg,#87da00 235.5deg,#f4fa00 240deg,#fff800 241.5deg,#ffd200 247.5deg,#ffcf00 254.5deg,#ffe100 262deg,#fcfd00 267deg,#e5f500 268.5deg,#97e000 272deg,#76d600 275deg,#47ca00 285.5deg,#1bbf00 308.5deg,#00b905 315.5deg,#00c638 322.5deg,#00d77c 330.5deg,#00e2a4 341deg,#00f1c5 352deg,#00fefb 360deg)"></i>
<i style="width:108px;height:108px;left:-54px;top:-54px;background:conic-gradient(#0ff8ff 0deg,#3ce2ff 2deg,#40bbff 16deg,#409dff 50.5deg,#40a1ff 65deg,#00c73b 65.5deg,#00c535 66deg,#00bb0e 67deg,#0dbb00 67.5deg,#57ce00 69deg,#aae600 72deg,#cff000 77deg,#f1f900 89deg,#eaf600 97.5deg,#6bd300 122.5deg,#00b905 142deg,#00d573 156deg,#00e2a4 161deg,#00fefc 180deg,#20f0ff 196deg,#16f5ff 202.5deg,#00fffd 207deg,#00f9e7 215deg,#00e9b3 221deg,#00de97 224deg,#00c432 229deg,#00b905 230.5deg,#8cdc00 235deg,#f8fc00 239.5deg,#fff900 240.5deg,#ffd200 246.5deg,#ffcf00 254.5deg,#ffdf00 261deg,#fdfe00 266deg,#e4f500 267.5deg,#9be100 270.5deg,#77d600 273.5deg,#49ca00 283.5deg,#19be00 308deg,#00b904 314.5deg,#00c534 321deg,#00d77d 329deg,#00e2a4 339.5deg,#00f1c4 350.5deg,#04fdff 359.5deg,#0ff8ff 360deg)"></i>
<i style="width:104px;height:104px;left:-52px;top:-52px;background:conic-gradient(#2de9ff 0deg,#40e0ff 1deg,#40b9ff 16deg,#409fff 50deg,#40a1ff 64deg,#00c73c 64.5deg,#00bf1d 65.5deg,#00b903 66deg,#51cc00 67.5deg,#8adb00 69.5deg,#abe600 71.5deg,#d5f100 78.5deg,#f1f900 89deg,#e8f600 97deg,#6cd300 121.5deg,#00b905 141deg,#00d573 155deg,#00e2a4 160deg,#00fefb 179deg,#20f0ff 195.5deg,#14f5ff 201.5deg,#00fffe 205.5deg,#00f9e5 214deg,#00e8af 220.5deg,#00de98 223deg,#00c637 228deg,#05b900 230deg,#85da00 234deg,#cff000 237deg,#fcfe00 239deg,#ffd100 246deg,#ffd500 258.5deg,#ff0 265deg,#e4f500 266.5deg,#98e000 269.5deg,#74d500 272.5deg,#49ca00 282.5deg,#19be00 307deg,#00b906 314deg,#00c535 320deg,#00d87f 328deg,#00e2a4 337.5deg,#00f1c3 349deg,#01ffff 358deg,#2de9ff 360deg)"></i>
<i style="width:100px;height:100px;left:-50px;top:-50px;background:conic-gradient(#40deff 0deg,#40b8ff 15deg,#40a0ff 50deg,#40a0ff 63deg,#00c73c 63.5deg,#00bd14 64.5deg,#0aba00 65deg,#61d000 66.5deg,#85da00 68deg,#ade700 71.5deg,#dcf300 80deg,#f2f900 89.5deg,#e4f500 97deg,#66d200 121.5deg,#00b905 140deg,#00d36d 153.5deg,#00e2a4 159deg,#00f7db 170.5deg,#00fffe 179.5deg,#1ff0ff 193.5deg,#17f4ff 199.5deg,#00fffe 204deg,#00f8e3 213deg,#00e6ac 220deg,#00de99 222deg,#00c73c 227deg,#00b902 229deg,#89db00 233.5deg,#fafd00 238deg,#ffcf00 245.5deg,#ffd200 257.5deg,#fffe00 264deg,#e4f500 265.5deg,#9ee200 268deg,#77d600 270.5deg,#4ecc00 279.5deg,#17be00 306.5deg,#00b904 313deg,#00c636 319deg,#00d87f 326.5deg,#00e2a4 336deg,#00f1c2 347.5deg,#00fffe 356.5deg,#40e0ff 359.5deg,#40deff 360deg)"></i>
<i style="width:96px;height:96px;left:-48px;top:-48px;background:conic-gradient(#40daff 0deg,#40b8ff 14deg,#40a1ff 50deg,#40a1ff 61.5deg,#00c83f 62deg,#00c636 62.5deg,#00ba09 63.5deg,#34c500 64.5deg,#67d200 65.5deg,#86da00 67deg,#baeb00 72.5deg,#edf700 84deg,#eef800 92.5deg,#72d500 118.5deg,#00b905 139deg,#00d36d 152.5deg,#00e2a3 158deg,#00f5d5 168.5deg,#00fefc 177.5deg,#1ef0ff 193.5deg,#0ff8ff 199.5deg,#00fffd 203deg,#00f8e1 212deg,#00e7af 218.5deg,#00df9a 221deg,#00c840 226deg,#00ba08 228deg,#16be00 229deg,#8cdc00 233deg,#f3f900 237deg,#fff800 238.5deg,#ffd300 245deg,#ffd400 256.5deg,#fefe00 263deg,#ddf300 264.5deg,#9ae100 267deg,#77d600 269.5deg,#4dcb00 278.5deg,#15bd00 306deg,#00ba06 312.5deg,#00c841 319deg,#00d880 326deg,#00e2a4 334.5deg,#00f1c5 346.5deg,#01ffff 355.5deg,#40dfff 358.5deg,#40daff 360deg)"></i>
<i style="width:92px;height:92px;left:-46px;top:-46px;background:conic-gradient(#40d5ff 0deg,#40b7ff 12.5deg,#40a2ff 49.5deg,#40a2ff 60.5deg,#00c73a 61deg,#00be1a 62deg,#00b800 62.5deg,#52cd00 64deg,#7cd700 65.5deg,#ace700 69.5deg,#e3f500 79deg,#f3f900 86.5deg,#e5f500 93deg,#69d200 119deg,#00b902 137.5deg,#00d267 151deg,#00e3a5 157.5deg,#00f3cf 166.5deg,#00fef9 175deg,#07fcff 181deg,#1af2ff 193deg,#05fcff 199.5deg,#00f9e6 210deg,#00e9b2 217deg,#00dd94 220.5deg,#00c943 225deg,#01b800 227.5deg,#8cdc00 232.5deg,#f4fa00 237deg,#fffb00 238.5deg,#ffdb00 244.5deg,#ffd900 255.5deg,#fdfe00 261.5deg,#e1f400 263deg,#97e000 266deg,#75d500 269deg,#49ca00 278deg,#16bd00 304.5deg,#00ba06 311.5deg,#00cb4d 319.5deg,#00da87 327deg,#00e2a4 333.5deg,#00f2c6 345.5deg,#0ff 354.5deg,#3be2ff 357deg,#40d5ff 360deg)"></i>
<i style="width:88px;height:88px;left:-44px;top:-44px;background:conic-gradient(#40d0ff 0deg,#40b7ff 11.5deg,#40a3ff 49.5deg,#40a3ff 59deg,#00c639 59.5deg,#00c226 60.5deg,#08ba00 61.5deg,#52cd00 63deg,#8bdc00 65.5deg,#b5e900 69.5deg,#ecf700 79.5deg,#f2f900 87.5deg,#6bd300 117.5deg,#00b902 136.5deg,#00d266 150deg,#00e2a4 156.5deg,#00f3cb 165deg,#00fdf7 173deg,#06fcff 180.5deg,#17f4ff 192deg,#00fefd 200.5deg,#00f9e5 209deg,#00e9b2 216deg,#00de96 219.5deg,#00cc52 223.5deg,#00b906 226.5deg,#65d100 230.5deg,#d7f200 235.5deg,#fbfd00 238deg,#ffdf00 245.5deg,#ffde00 254.5deg,#fcfe00 260deg,#e3f500 261.5deg,#9ee200 264.5deg,#7ad600 267.5deg,#4aca00 276deg,#14bd00 304deg,#00b906 310.5deg,#00da89 327deg,#00e3a5 332.5deg,#00f2c8 344.5deg,#0ff 353.5deg,#3ee1ff 356deg,#40d0ff 360deg)"></i>
<i style="width:84px;height:84px;left:-42px;top:-42px;background:conic-gradient(#40cbff 0deg,#40b6ff 11deg,#40a5ff 50deg,#40a5ff 58deg,#00c535 58.5deg,#00bf1e 59.5deg,#00ba09 60deg,#27c200 61deg,#5ed000 62.5deg,#92de00 65deg,#beeb00 69.5deg,#f0f800 79deg,#f0f800 87deg,#aae600 101deg,#70d400 115.5deg,#00b902 135.5deg,#00d166 149deg,#00e2a3 155.5deg,#00f2ca 164deg,#00fdf6 171.5deg,#06fcff 180deg,#12f6ff 191.5deg,#00fefd 199deg,#00f9e4 208deg,#00e9b2 215deg,#00de98 218.5deg,#00cd55 222.5deg,#00b800 226deg,#92de00 232deg,#f2f900 237.5deg,#fffb00 239.5deg,#ffe200 247deg,#ffe400 253.5deg,#fafd00 258.5deg,#e4f500 260deg,#9be100 263.5deg,#73d500 267.5deg,#44c900 276deg,#15bd00 302.5deg,#00b906 309.5deg,#00e1a2 330deg,#00f2c9 343.5deg,#00fffe 352.5deg,#40e0ff 355deg,#40cbff 360deg)"></i>
<i style="width:80px;height:80px;left:-40px;top:-40px;background:conic-gradient(#40c5ff 0deg,#40b5ff 11deg,#40a6ff 50.5deg,#40a6ff 57deg,#00c430 57.5deg,#00bd15 58.5deg,#00b801 59deg,#4fcc00 61deg,#8bdc00 63.5deg,#afe800 66.5deg,#eaf600 75.5deg,#f5fa00 83deg,#e0f400 88.5deg,#ade700 97.5deg,#75d500 113.5deg,#00b903 134.5deg,#00d060 147.5deg,#00e2a5 155deg,#00f2ca 163deg,#00fdf6 170deg,#06fcff 180deg,#0df9ff 191deg,#00fefc 198deg,#00f9e6 206.5deg,#00e9b2 214deg,#00df9a 217.5deg,#00ce58 221.5deg,#04b900 225.5deg,#8cdc00 231.5deg,#f4fa00 238deg,#fff800 240.5deg,#ffe400 249deg,#fff000 254deg,#fdfe00 256.5deg,#e3f500 258.5deg,#9fe200 262deg,#73d500 266.5deg,#43c900 274.5deg,#14bd00 301.5deg,#00b905 308.5deg,#00e2a4 329.5deg,#00f2c8 342deg,#0ff 351.5deg,#40dfff 354deg,#40c5ff 360deg)"></i>
<i style="width:76px;height:76px;left:-38px;top:-38px;background:conic-gradient(#40c0ff 0deg,#40b5ff 12.5deg,#40a7ff 49.5deg,#40a7ff 55.5deg,#00c42e 56deg,#00bf1d 57deg,#05b900 58deg,#5ccf00 60.5deg,#8ddc00 62.5deg,#b1e800 65.5deg,#edf700 74.5deg,#f5fb00 82deg,#dff400 87deg,#ace700 95deg,#74d500 112.5deg,#00b903 133.5deg,#00d060 146.5deg,#00e2a4 154deg,#00f3cb 162deg,#00fdf5 168.5deg,#06fcff 180deg,#08fbff 190.5deg,#00fefa 198deg,#00f9e4 205.5deg,#00ebb7 212deg,#00df9c 216.5deg,#00cc51 221deg,#05b900 225deg,#8ddc00 231.5deg,#f6fb00 238.5deg,#fff700 241.5deg,#ffea00 250deg,#fafd00 255deg,#d8f200 257.5deg,#9de200 261deg,#4ecc00 270.5deg,#38c600 278deg,#16be00 299.5deg,#00b905 307.5deg,#00d46f 322deg,#00e2a3 328deg,#00f3cc 341.5deg,#01ffff 350.5deg,#3de1ff 352.5deg,#40c0ff 360deg)"></i>
<i style="width:72px;height:72px;left:-36px;top:-36px;background:conic-gradient(#40bbff 0deg,#40a8ff 46.5deg,#40a8ff 54.5deg,#00c32a 55deg,#00ba07 56.5deg,#1cbf00 57.5deg,#85da00 61deg,#aae600 63.5deg,#eef800 73deg,#f7fb00 80.5deg,#e2f500 85deg,#aae600 93deg,#75d500 111deg,#00b903 132.5deg,#00d060 145.5deg,#00e1a3 153deg,#00f3cc 161deg,#00fdf6 167.5deg,#05fdff 189deg,#00fbef 202deg,#00e9b2 212deg,#00de98 216deg,#00c842 221deg,#04b900 224.5deg,#8cdc00 231.5deg,#f4fa00 238.5deg,#fffb00 241deg,#ffef00 249deg,#fbfd00 253deg,#def300 255.5deg,#a0e300 259.5deg,#49ca00 270deg,#34c500 278.5deg,#14bd00 299deg,#00b905 306.5deg,#00cf5d 319.5deg,#00e1a2 326.5deg,#00f3cd 340.5deg,#03fdff 349.5deg,#40dfff 351.5deg,#40bbff 360deg)"></i>
<i style="width:68px;height:68px;left:-34px;top:-34px;background:conic-gradient(#40b7ff 0deg,#40aeff 26.5deg,#40aaff 53deg,#00c228 53.5deg,#00bc11 55deg,#00b903 55.5deg,#88db00 60deg,#ace700 62.5deg,#eff800 71.5deg,#f8fc00 79deg,#e2f500 83.5deg,#a9e600 91deg,#74d500 110deg,#00b903 131.5deg,#00cf5b 144deg,#00e2a4 152.5deg,#00f2c8 159.5deg,#00fcf4 165.5deg,#05fdff 184.5deg,#00fcf2 200deg,#00f2c7 207deg,#00df9a 215deg,#00c124 222deg,#00b800 224deg,#99e000 232.5deg,#f3f900 238.5deg,#fffb00 241.5deg,#fff500 248.5deg,#f8fc00 251.5deg,#cbef00 255deg,#99e000 259deg,#43c900 269.5deg,#2fc400 281deg,#0fbc00 300deg,#00ba07 306deg,#00cc50 317.5deg,#00e2a4 325.5deg,#00f4d0 340deg,#00fffd 348deg,#18f3ff 349deg,#39e3ff 350deg,#40d9ff 351.5deg,#40b7ff 360deg)"></i>
<i style="width:64px;height:64px;left:-32px;top:-32px;background:conic-gradient(#40b4ff 0deg,#40b2ff 23deg,#40abff 52deg,#00c124 52.5deg,#00bb0d 54deg,#00b801 54.5deg,#8bdc00 59deg,#ade700 61.5deg,#f0f800 70deg,#f9fc00 77.5deg,#e3f500 82deg,#a5e400 89.5deg,#76d500 108.5deg,#00b903 130.5deg,#00cf5b 143deg,#00e2a3 151.5deg,#00f2c9 158.5deg,#00fdf5 164.5deg,#00fffe 187deg,#00fbef 199.5deg,#00eab5 209.5deg,#00df9d 214deg,#03b900 224deg,#6fd400 230deg,#eff800 238deg,#fffd00 242deg,#fffc00 248deg,#ecf700 251deg,#a9e600 256deg,#41c800 268.5deg,#2dc300 280.5deg,#0cbb00 300deg,#00ba08 305.5deg,#00ca47 316deg,#00e1a2 324deg,#00f6d7 340.5deg,#00fffe 347deg,#40e0ff 349deg,#40b7ff 358deg,#40b4ff 360deg)"></i>
<i style="width:60px;height:60px;left:-30px;top:-30px;background:conic-gradient(#40b3ff 0deg,#40b3ff 21.5deg,#40acff 50.5deg,#00c123 51deg,#00bd13 52.5deg,#03b900 53.5deg,#84d900 57.5deg,#abe600 60deg,#eff800 68.5deg,#fafd00 76deg,#e4f500 80.5deg,#a7e500 87.5deg,#8adb00 99.5deg,#70d400 108.5deg,#00b904 129.5deg,#00ce57 141.5deg,#00e3a5 151deg,#00f2ca 157.5deg,#00fcf4 163deg,#00fffe 184.5deg,#00fcf0 198deg,#00ebb6 208deg,#00df9d 213deg,#05b900 223.5deg,#67d200 229deg,#e4f500 236.5deg,#fafd00 239.5deg,#fcfd00 247.5deg,#ddf300 250.5deg,#a7e500 255deg,#3fc800 267.5deg,#2bc300 281.5deg,#05b900 301deg,#00bd15 307.5deg,#00c945 315deg,#00e1a3 323deg,#00f6d9 340deg,#00fffe 346deg,#40e0ff 348deg,#40b6ff 357deg,#40b3ff 360deg)"></i>
<i style="width:56px;height:56px;left:-28px;top:-28px;background:conic-gradient(#40b3ff 0deg,#40b3ff 20deg,#40acff 47.5deg,#40acff 49.5deg,#00c123 50deg,#00b903 52deg,#4acb00 54.5deg,#89db00 56.5deg,#a9e600 58.5deg,#f1f800 67.5deg,#fafd00 75deg,#e2f400 79.5deg,#a5e400 86.5deg,#74d500 106.5deg,#00b903 128deg,#00cd55 140deg,#00e2a4 149.5deg,#00f2c8 156deg,#00fdf5 162deg,#00fffe 185deg,#00fbef 197deg,#00ebb5 207deg,#00de9a 212deg,#01b800 222deg,#62d000 227.5deg,#a8e500 231.5deg,#edf700 236deg,#fffe00 240.5deg,#fafd00 246.5deg,#daf200 249.5deg,#a9e600 253.5deg,#40c800 266deg,#2dc300 277.5deg,#0cbb00 297.5deg,#00ba08 303.5deg,#00c841 313.5deg,#00e1a2 322deg,#00f6d9 339deg,#00fffd 345deg,#1bf2ff 346deg,#40e0ff 347deg,#40b7ff 355.5deg,#40b3ff 360deg)"></i>
<i style="width:52px;height:52px;left:-26px;top:-26px;background:conic-gradient(#40b3ff 0deg,#40b2ff 19deg,#40acff 47.5deg,#00c124 48deg,#00be17 49.5deg,#00b802 50.5deg,#5ecf00 53.5deg,#8bdc00 55deg,#ade700 57.5deg,#f1f800 66deg,#fafc00 73.5deg,#e6f500 77.5deg,#a5e400 85deg,#73d500 105deg,#00b903 126.5deg,#00cd56 138.5deg,#00e2a4 148deg,#00f2c9 154.5deg,#00fcf3 160deg,#0ff 180.5deg,#00fcf1 195deg,#00ebb5 205.5deg,#00de99 210.5deg,#02b800 220.5deg,#63d100 226deg,#a9e600 230deg,#eef800 234.5deg,#fffd00 239.5deg,#fafd00 245deg,#d9f200 248deg,#a8e500 252deg,#40c800 264.5deg,#2dc300 276.5deg,#0abb00 296.5deg,#00ba08 302deg,#00c840 312deg,#00e2a3 321deg,#00f6d7 337.5deg,#0ff 344deg,#36e5ff 345.5deg,#40dbff 346.5deg,#40b6ff 354.5deg,#40b3ff 360deg)"></i>
<i style="width:48px;height:48px;left:-24px;top:-24px;background:conic-gradient(#40b4ff 0deg,#40b2ff 17.5deg,#40acff 46deg,#00c124 46.5deg,#00bd16 48deg,#00b800 49deg,#8cdc00 53.5deg,#aee700 56deg,#f1f800 64.5deg,#f9fc00 72deg,#e5f500 76deg,#a5e400 83.5deg,#76d500 103deg,#00b903 125deg,#00ce56 137deg,#00e2a5 146.5deg,#00f2c9 153deg,#00fcf3 158.5deg,#00fffe 179.5deg,#00fcf1 193.5deg,#00eab5 204deg,#00de98 209deg,#03b900 219deg,#64d100 224.5deg,#d4f100 231deg,#f5fb00 234deg,#fffb00 240deg,#f9fc00 243.5deg,#d1f000 247deg,#a4e400 251deg,#3fc800 263deg,#2cc300 275.5deg,#09ba00 295.5deg,#00bb0a 301deg,#00c943 311deg,#00e2a4 320deg,#00f5d6 336deg,#00fefd 342.5deg,#07fcff 343deg,#40e0ff 344.5deg,#40b6ff 353deg,#40b4ff 360deg)"></i>
<i style="width:44px;height:44px;left:-22px;top:-22px;background:conic-gradient(#40b5ff 0deg,#40b1ff 17deg,#40acff 44.5deg,#00c124 45deg,#00bd15 46.5deg,#01b800 47.5deg,#8ddc00 52deg,#aee700 54.5deg,#eff800 62.5deg,#fafd00 70deg,#e5f500 74.5deg,#a4e400 82deg,#75d500 101.5deg,#00b904 123.5deg,#00ce57 135.5deg,#00e2a5 145deg,#00f2ca 151.5deg,#00fcf4 157deg,#00fffe 178deg,#00fcf1 192deg,#00eab5 202.5deg,#00de97 207.5deg,#04b900 217.5deg,#65d100 223deg,#dcf300 230deg,#f6fb00 232.5deg,#fffb00 238.5deg,#f9fc00 242deg,#d0f000 245.5deg,#a4e400 249.5deg,#3fc800 261.5deg,#2cc300 274.5deg,#07ba00 294.5deg,#00bb0c 300deg,#00c841 309.5deg,#00e1a2 318.5deg,#00f5d6 335deg,#00fffe 341.5deg,#37e4ff 343deg,#40dbff 344deg,#40b6ff 351.5deg,#40b5ff 360deg)"></i>
<i style="width:40px;height:40px;left:-20px;top:-20px;background:conic-gradient(#40b5ff 0deg,#40b0ff 16.5deg,#40acff 43deg,#00c124 43.5deg,#00bd14 45deg,#03b900 46deg,#83d900 50deg,#abe600 52.5deg,#eff800 61deg,#fafd00 68.5deg,#e4f500 73deg,#a7e500 80deg,#8adb00 92deg,#70d400 101deg,#00b904 122deg,#00ce57 134deg,#00e3a5 143.5deg,#00f2ca 150deg,#00fcf4 155.5deg,#00fffe 177deg,#00fcf0 190.5deg,#00ebb6 200.5deg,#00df9d 205.5deg,#05b900 216deg,#66d200 221.5deg,#ddf300 228.5deg,#f6fb00 231deg,#fffb00 237deg,#f9fc00 240.5deg,#d0f000 244deg,#a3e400 248deg,#3fc800 260deg,#2cc300 273.5deg,#06b900 293.5deg,#00bd13 300deg,#00c944 308.5deg,#00e2a3 317.5deg,#00f5d5 333.5deg,#00fefc 340deg,#06fcff 340.5deg,#40e0ff 342deg,#40b6ff 350deg,#40b5ff 360deg)"></i>
<i style="width:36px;height:36px;left:-18px;top:-18px;background:conic-gradient(#40b6ff 0deg,#40acff 39.5deg,#40acff 41.5deg,#00c123 42deg,#00bd13 43.5deg,#04b900 44.5deg,#84d900 48.5deg,#abe600 51deg,#f0f800 59.5deg,#fafd00 67deg,#e4f500 71.5deg,#a6e500 78.5deg,#8adb00 91deg,#6ed300 100deg,#00b904 120.5deg,#00ce58 132.5deg,#00e2a3 141.5deg,#00f3cb 148.5deg,#00fcf4 154deg,#00fffe 176deg,#00fbf0 189deg,#00ebb6 199deg,#00df9c 204deg,#00b902 214deg,#53cd00 219deg,#9de200 223deg,#f0f800 228.5deg,#fffc00 233.5deg,#f8fc00 239deg,#c8ee00 243deg,#9fe200 247deg,#3ec800 258.5deg,#2bc300 273deg,#02b900 293deg,#00c431 304.5deg,#00d36c 311deg,#00e2a4 316.5deg,#00f5d5 332.5deg,#00fffe 339deg,#3ae3ff 340.5deg,#40ccff 343.5deg,#40b3ff 350deg,#40b6ff 360deg)"></i>
<i style="width:32px;height:32px;left:-16px;top:-16px;background:conic-gradient(#40b7ff 0deg,#40acff 34.5deg,#40acff 40deg,#00c123 40.5deg,#00bc12 42deg,#06b900 43deg,#86da00 47deg,#abe600 49.5deg,#f0f800 58deg,#fafd00 65.5deg,#e3f500 70deg,#a6e500 77deg,#89db00 90deg,#6dd300 98.5deg,#00b905 119deg,#00ce58 131deg,#00e2a3 140deg,#00f3cb 147deg,#00fcf4 152.5deg,#00fffe 174.5deg,#00fbf0 187.5deg,#00ebb6 197.5deg,#00df9c 202.5deg,#00b802 212.5deg,#54cd00 217.5deg,#9ee200 221.5deg,#f1f800 227deg,#fffc00 232deg,#fbfd00 237deg,#dcf300 240deg,#a6e500 244.5deg,#3ec800 257deg,#0fbc00 287deg,#00ba06 294deg,#00c73d 305deg,#00e1a3 315deg,#00f5d6 331.5deg,#00fefc 337.5deg,#08fbff 338deg,#40dfff 339.5deg,#40b6ff 347deg,#40b7ff 360deg)"></i>
<i style="width:28px;height:28px;left:-14px;top:-14px;background:conic-gradient(#40b7ff 0deg,#40acff 30deg,#40acff 38.5deg,#00c123 39deg,#00bc11 40.5deg,#07ba00 41.5deg,#87da00 45.5deg,#ace700 48deg,#f0f800 56.5deg,#fafd00 64deg,#e3f500 68.5deg,#a6e500 75.5deg,#88db00 89deg,#6ad300 97.5deg,#00b905 117.5deg,#00ce59 129.5deg,#00e2a4 138.5deg,#00f3cc 145.5deg,#00fcf4 151deg,#00fffe 173.5deg,#00fbf0 186deg,#00ebb6 196deg,#00df9b 201deg,#00b801 211deg,#55cd00 216deg,#97e000 219.5deg,#f1f800 225.5deg,#fffc00 230.5deg,#fbfd00 235.5deg,#dcf300 238.5deg,#a6e500 243deg,#3ec700 255.5deg,#0fbc00 285.5deg,#00ba06 292.5deg,#00c83f 304deg,#00e2a3 314deg,#00f5d4 330deg,#0ff 336.5deg,#3fe0ff 338deg,#40b7ff 345deg,#40b7ff 360deg)"></i>
<i style="width:24px;height:24px;left:-12px;top:-12px;background:conic-gradient(#40b7ff 0deg,#40acff 26.5deg,#40acff 37deg,#00c123 37.5deg,#00bc11 39deg,#07ba00 40deg,#87da00 44deg,#ace700 46.5deg,#f0f800 55deg,#fafd00 62.5deg,#e3f500 67deg,#a6e500 74deg,#88db00 87.5deg,#6ad300 96deg,#00b905 116deg,#00ce59 128deg,#00e2a4 137deg,#00f3cc 144deg,#00fcf4 149.5deg,#00fffe 172deg,#00fbf0 184.5deg,#00ebb6 194.5deg,#00df9b 199.5deg,#00b801 209.5deg,#55cd00 214.5deg,#97e000 218deg,#f1f800 224deg,#fffc00 229deg,#fbfd00 234deg,#dcf300 237deg,#a6e500 241.5deg,#3ec700 254deg,#0fbc00 284deg,#00ba06 291deg,#00c73d 302.5deg,#00e2a4 313deg,#00f4d2 328.5deg,#00fefc 335deg,#08fbff 335.5deg,#35e5ff 336.5deg,#40deff 337deg,#40b6ff 344deg,#40b7ff 360deg)"></i>
<i style="width:20px;height:20px;left:-10px;top:-10px;background:conic-gradient(#40b8ff 0deg,#40acff 24deg,#40acff 35.5deg,#00c123 36deg,#00bd12 37.5deg,#05b900 38.5deg,#85da00 42.5deg,#abe600 45deg,#f0f800 53.5deg,#fafd00 61deg,#e4f500 65.5deg,#a6e500 72.5deg,#8adb00 85deg,#70d400 93.5deg,#00b904 114.5deg,#00ce58 126.5deg,#00e2a3 135.5deg,#00f3cb 142.5deg,#00fcf4 148deg,#00fffe 170deg,#00fbf0 183deg,#00ebb6 193deg,#00df9c 198deg,#00b802 208deg,#54cd00 213deg,#9ee200 217deg,#f1f800 222.5deg,#fffc00 227.5deg,#fbfd00 232.5deg,#dcf300 235.5deg,#a6e500 240deg,#3ec800 252.5deg,#29c200 268.5deg,#00b904 289deg,#00c73b 301deg,#00de97 310deg,#00e9b3 316deg,#00f4d1 327deg,#00fefb 333.5deg,#0ff 334deg,#40dfff 335.5deg,#40b6ff 342.5deg,#40b8ff 360deg)"></i>
</div></div>
<div class="c" style="left:480.5px;top:111.5px;width:200px;height:400px;clip-path:polygon(4.8px 191.8px,96.6px 32.7px,110.8px 41.8px,124.2px 52.0px,136.6px 63.4px,148.0px 75.8px,158.2px 89.2px,167.3px 103.4px,175.1px 118.4px,181.5px 133.9px,186.6px 150.0px,190.2px 166.5px,192.4px 183.2px,193.2px 200.0px,192.4px 216.8px,190.2px 233.5px,186.6px 250.0px,181.5px 266.1px,175.1px 281.6px,167.3px 296.6px,158.2px 310.8px,148.0px 324.2px,136.6px 336.6px,124.2px 348.0px,110.8px 358.2px,96.6px 367.3px,4.8px 208.2px,8.2px 204.8px,9.5px 200.0px,8.2px 195.2px)"><div class="f" style="left:0;top:200px">
<i style="width:386px;height:386px;left:-193px;top:-193px;background:conic-gradient(#46ca00 28deg,#42c800 30.5deg,#00b902 36deg,#00d269 42deg,#00e4a8 45deg,#00f2ca 47deg,#00fefa 48.5deg,#26edff 49deg,#40dcff 49.5deg,#40bbff 54deg,#408cff 63deg,#405cff 70deg,#4044ff 80deg,#4055ff 87.5deg,#4082ff 95.5deg,#40a5ff 97.5deg,#40dcff 99.5deg,#00fefc 100.5deg,#00edbb 105.5deg,#00de98 109deg,#00b902 118.5deg,#57ce00 123deg,#beec00 127.5deg,#f1f900 129.5deg,#fffc00 131deg,#ffe300 135.5deg,#ffd400 141.5deg,#ffbe00 145deg,#fc0 149.5deg,#ffd000 152deg)"></i>
<i style="width:382px;height:382px;left:-191px;top:-191px;background:conic-gradient(#48ca00 28deg,#44c900 30.5deg,#00b801 36deg,#00d267 42deg,#00e3a7 45deg,#00f2c8 47deg,#00fdf8 48.5deg,#40ddff 49.5deg,#40bcff 54deg,#4091ff 62.5deg,#405dff 70deg,#4045ff 80deg,#4054ff 87deg,#4082ff 95.5deg,#40a5ff 97.5deg,#40daff 99.5deg,#2beaff 100deg,#00fffe 100.5deg,#00ecb8 106deg,#00df9b 109deg,#00b903 118.5deg,#4aca00 122.5deg,#caef00 128deg,#f6fb00 130deg,#fffa00 131.5deg,#ffe300 136.5deg,#ffd600 141.5deg,#ffc100 145deg,#ffcf00 149.5deg,#ffd300 152deg)"></i>
<i style="width:378px;height:378px;left:-189px;top:-189px;background:conic-gradient(#4ccb00 28deg,#47ca00 30.5deg,#00b905 36.5deg,#00d164 42deg,#00e3a6 45deg,#00f1c6 47deg,#00fdf6 48.5deg,#12f6ff 49deg,#40dfff 49.5deg,#40beff 54deg,#4092ff 62.5deg,#405fff 70deg,#4047ff 80deg,#4056ff 87deg,#4083ff 95.5deg,#40a4ff 97.5deg,#40e0ff 100deg,#14f5ff 100.5deg,#00fefb 101deg,#00ebb6 106.5deg,#00de99 109.5deg,#03b900 119deg,#75d500 124.5deg,#d2f100 128.5deg,#f2f900 130deg,#fffa00 132deg,#ffe600 137.5deg,#ffd700 142deg,#ffc800 145.5deg,#ffd900 151.5deg,#ffd900 152deg)"></i>
<i style="width:374px;height:374px;left:-187px;top:-187px;background:conic-gradient(#50cc00 28deg,#4bcb00 30.5deg,#00b802 36.5deg,#00d061 42deg,#00e2a4 45deg,#00f1c3 47deg,#05fdff 49deg,#39e4ff 49.5deg,#40d2ff 51deg,#4090ff 63deg,#4061ff 70deg,#404aff 80deg,#4059ff 87deg,#4084ff 95.5deg,#40b0ff 98deg,#40dcff 100deg,#2aebff 100.5deg,#03fdff 101deg,#00edb9 106.5deg,#00de96 110deg,#01b800 119deg,#9ce100 126.5deg,#edf700 130deg,#fffb00 132.5deg,#ffd900 142.5deg,#ffd000 146.5deg,#ffdf00 151.5deg,#ffdf00 152deg)"></i>
<i style="width:370px;height:370px;left:-185px;top:-185px;background:conic-gradient(#53cd00 28deg,#4fcc00 30.5deg,#02b800 36.5deg,#00d05e 42deg,#00e2a3 45deg,#00f0c0 47deg,#00fffd 49deg,#2beaff 49.5deg,#40ddff 50deg,#40bcff 55.5deg,#4092ff 63deg,#4063ff 70deg,#404cff 80deg,#4059ff 86.5deg,#408aff 96deg,#40aeff 98deg,#40e0ff 100.5deg,#1bf2ff 101deg,#00fffd 101.5deg,#00ecb8 107deg,#00dd94 110.5deg,#00b801 119deg,#79d600 125deg,#e7f600 130deg,#fffc00 133deg,#ffd600 146deg,#ffe400 152deg)"></i>
<i style="width:366px;height:366px;left:-183px;top:-183px;background:conic-gradient(#57ce00 28deg,#52cd00 30.5deg,#00b903 37deg,#00cf5b 42deg,#00e1a2 45deg,#00efbf 47deg,#00fefa 49deg,#40dfff 50deg,#40beff 55.5deg,#4093ff 63deg,#4065ff 70deg,#404eff 80.5deg,#405bff 86.5deg,#408bff 96deg,#40adff 98deg,#40dcff 100.5deg,#32e7ff 101deg,#10f7ff 101.5deg,#00fefc 102deg,#00ebb7 107.5deg,#00df9a 110.5deg,#00b903 119deg,#6ad300 124.5deg,#e1f400 130deg,#fefe00 133deg,#fd0 146deg,#ffea00 152deg)"></i>
<i style="width:362px;height:362px;left:-181px;top:-181px;background:conic-gradient(#5bcf00 28deg,#56ce00 30.5deg,#00b800 37deg,#00ce59 42deg,#00e4a7 45.5deg,#00f3cb 47.5deg,#00fdf8 49deg,#11f7ff 49.5deg,#37e5ff 50deg,#40d8ff 51deg,#409cff 62deg,#4067ff 70deg,#4050ff 80.5deg,#405eff 86.5deg,#407cff 93.5deg,#4091ff 96.5deg,#40deff 101deg,#0afaff 102deg,#00fdf5 103deg,#00edb9 107.5deg,#00de98 111deg,#04b900 119.5deg,#b2e800 128deg,#e1f400 130.5deg,#fdfe00 134deg,#ffe400 146deg,#fff000 152deg)"></i>
<i style="width:358px;height:358px;left:-179px;top:-179px;background:conic-gradient(#5ed000 28deg,#5ace00 30.5deg,#00b905 37.5deg,#00d061 42.5deg,#00e3a6 45.5deg,#00f2c9 47.5deg,#04fdff 49.5deg,#29ebff 50deg,#40dfff 50.5deg,#4098ff 63deg,#406cff 70.5deg,#4057ff 81deg,#4068ff 87.5deg,#408cff 96deg,#40b4ff 98.5deg,#40e0ff 101.5deg,#05fcff 102.5deg,#00ecb8 108deg,#00dd95 111.5deg,#02b800 119.5deg,#b8ea00 128.5deg,#e6f600 131.5deg,#fffe00 136deg,#ffeb00 146.5deg,#fff600 152deg)"></i>
<i style="width:354px;height:354px;left:-177px;top:-177px;background:conic-gradient(#62d000 28deg,#5dcf00 30.5deg,#00b802 37.5deg,#00cf5e 42.5deg,#00e2a5 45.5deg,#00f2c6 47.5deg,#00fffd 49.5deg,#37e4ff 50.5deg,#40daff 51.5deg,#409dff 63deg,#4075ff 71.5deg,#4063ff 81.5deg,#406fff 88deg,#408cff 96deg,#40b2ff 98.5deg,#3be3ff 102deg,#02feff 103deg,#00edbb 108deg,#00df9a 111.5deg,#00b800 119.5deg,#b2e900 128.5deg,#dff400 131.5deg,#f9fc00 135.5deg,#fff400 147.5deg,#fffb00 152deg)"></i>
<i style="width:350px;height:350px;left:-175px;top:-175px;background:conic-gradient(#65d100 28deg,#60d000 30.5deg,#0aba00 37deg,#00bc0f 38.5deg,#00d267 43deg,#00e2a3 45.5deg,#00f1c4 47.5deg,#00fefb 49.5deg,#0ff8ff 50deg,#40e0ff 51deg,#4083ff 70.5deg,#406cff 81.5deg,#407aff 90deg,#408cff 96deg,#40b9ff 99deg,#40ddff 102deg,#37e4ff 102.5deg,#0ff 103.5deg,#00edba 108.5deg,#00dd96 112deg,#00b902 119.5deg,#70d400 125.5deg,#c7ee00 130deg,#f2f900 135deg,#fffc00 140.5deg,#fdfe00 152deg)"></i>
<i style="width:346px;height:346px;left:-173px;top:-173px;background:conic-gradient(#68d200 28deg,#63d100 30.5deg,#0dbb00 37deg,#00bb0c 38.5deg,#00d164 43deg,#00e5a9 46deg,#00f0c1 47.5deg,#00fdf8 49.5deg,#01feff 50deg,#33e6ff 51deg,#40dfff 51.5deg,#4091ff 69.5deg,#4075ff 81.5deg,#4085ff 94.5deg,#409dff 97.5deg,#40cfff 101deg,#40ddff 102.5deg,#35e5ff 103deg,#00fffe 104deg,#00eebc 108.5deg,#00df9b 112deg,#00b904 119.5deg,#6cd300 125.5deg,#baea00 129.5deg,#e7f600 134.5deg,#ff0 141deg,#f6fb00 152deg)"></i>
<i style="width:342px;height:342px;left:-171px;top:-171px;background:conic-gradient(#6bd300 28deg,#67d200 30.5deg,#10bc00 37deg,#00b801 38deg,#00cd56 42.5deg,#00e4a8 46deg,#00f0c0 47.5deg,#00fdf5 49.5deg,#00fefd 50deg,#0df9ff 50.5deg,#39e3ff 51.5deg,#40d5ff 53.5deg,#4081ff 78.5deg,#4081ff 91.5deg,#408cff 96deg,#40d5ff 102deg,#40deff 103deg,#33e6ff 103.5deg,#00fffd 104.5deg,#0eb 109deg,#00de96 112.5deg,#03b900 120deg,#73d500 126deg,#b3e900 129.5deg,#e2f400 135deg,#f8fc00 139.5deg,#eef800 152deg)"></i>
<i style="width:338px;height:338px;left:-169px;top:-169px;background:conic-gradient(#6ed400 28deg,#6ad200 30.5deg,#13bd00 37deg,#00b906 38.5deg,#00d05e 43deg,#00e3a7 46deg,#00f3cd 48deg,#00fcf3 49.5deg,#0ff 50.5deg,#3ee1ff 52deg,#40beff 61.5deg,#4099ff 74.5deg,#4085ff 83deg,#4088ff 95deg,#40a1ff 98deg,#40ccff 101.5deg,#40deff 103.5deg,#31e7ff 104deg,#13f6ff 104.5deg,#00fefc 105deg,#00edba 109.5deg,#00df9c 112.5deg,#01b800 120deg,#6ed400 126deg,#aee700 129.5deg,#f1f900 138.5deg,#ebf700 145deg,#e3f500 152deg)"></i>
<i style="width:334px;height:334px;left:-167px;top:-167px;background:conic-gradient(#72d500 28deg,#6ed300 30.5deg,#20c000 36.5deg,#00b801 38.5deg,#00ce5a 43deg,#00e2a5 46deg,#00f3cb 48deg,#00fcf2 49.5deg,#00fffd 50.5deg,#40dfff 52.5deg,#40c1ff 62.5deg,#40acff 72.5deg,#408fff 80.5deg,#4087ff 94deg,#4096ff 97deg,#40ceff 102deg,#40dfff 104deg,#07fcff 105deg,#00f8e3 107deg,#00eebd 109.5deg,#00de96 113deg,#00b801 120deg,#69d200 126deg,#a2e300 129deg,#ceef00 135deg,#e9f600 140deg,#d5f100 150.5deg,#d5f100 152deg)"></i>
<i style="width:330px;height:330px;left:-165px;top:-165px;background:conic-gradient(#77d600 28deg,#73d500 30.5deg,#26c100 36.5deg,#00b903 39deg,#00cd53 43deg,#00e5ab 46.5deg,#00f2c9 48deg,#00fcf2 49.5deg,#00fefd 50.5deg,#1af2ff 51.5deg,#3be2ff 52.5deg,#40c5ff 62deg,#40b3ff 72.5deg,#4095ff 80deg,#408aff 94deg,#409cff 97.5deg,#40ccff 102deg,#40deff 104deg,#33e7ff 104.5deg,#14f5ff 105deg,#00fefc 105.5deg,#0eb 110deg,#00df9c 113deg,#00bb0a 119.5deg,#07ba00 120.5deg,#63d100 126deg,#95df00 128.5deg,#b0e800 131.5deg,#d5f100 140deg,#c4ed00 151.5deg,#c4ed00 152deg)"></i>
<i style="width:326px;height:326px;left:-163px;top:-163px;background:conic-gradient(#7bd700 28deg,#77d600 30.5deg,#33c500 36deg,#00b905 39.5deg,#00ce58 43.5deg,#00e4a8 46.5deg,#00f2c8 48deg,#00fcf2 49.5deg,#04fdff 51deg,#40e0ff 53deg,#40c7ff 64.5deg,#40b7ff 73deg,#4099ff 80.5deg,#408cff 94.5deg,#40a2ff 98deg,#40d3ff 103deg,#3fe1ff 104.5deg,#02feff 105.5deg,#00edba 110.5deg,#00e0a0 113deg,#00bd14 119deg,#06b900 120.5deg,#5dcf00 126deg,#90dd00 128.5deg,#a8e500 131.5deg,#bfec00 141deg,#b3e900 152deg)"></i>
<i style="width:322px;height:322px;left:-161px;top:-161px;background:conic-gradient(#80d800 28deg,#7cd700 30.5deg,#39c600 36deg,#01b800 39.5deg,#00cc52 43.5deg,#00e8b0 47deg,#00f6d8 48.5deg,#00fdf8 50deg,#01ffff 51deg,#40e0ff 53.5deg,#40ccff 65.5deg,#40bbff 73.5deg,#409dff 81.5deg,#408fff 95deg,#40a9ff 98.5deg,#40deff 104.5deg,#2fe8ff 105deg,#11f7ff 105.5deg,#00fefc 106deg,#00ecb9 111deg,#00de9a 113.5deg,#00c01f 118.5deg,#04b900 120.5deg,#57ce00 126deg,#8adb00 128.5deg,#a1e300 131.5deg,#abe600 142deg,#a4e400 152deg)"></i>
<i style="width:318px;height:318px;left:-159px;top:-159px;background:conic-gradient(#83d900 28deg,#7dd700 31deg,#38c600 36.5deg,#00b801 40deg,#00ce57 44deg,#00e7ae 47deg,#00f1c4 48deg,#00fcf2 49.5deg,#00fffe 51deg,#3ee1ff 54deg,#40d1ff 65.5deg,#40c4ff 73deg,#409fff 83.5deg,#4092ff 95.5deg,#40b4ff 99.5deg,#3ce2ff 105deg,#03feff 106deg,#00e9b1 112deg,#00e09f 113.5deg,#00c020 118.5deg,#03b900 120.5deg,#51cc00 126deg,#8bdc00 129deg,#9ae100 132.5deg,#97e000 152deg)"></i>
<i style="width:314px;height:314px;left:-157px;top:-157px;background:conic-gradient(#87da00 28deg,#81d800 31deg,#45c900 36deg,#00b903 40.5deg,#00d36b 45deg,#00e1a2 46.5deg,#00f1c3 48deg,#00fcf2 49.5deg,#04fdff 51.5deg,#40e0ff 55deg,#40d7ff 67deg,#40c7ff 74deg,#409aff 88deg,#4096ff 96deg,#40deff 105deg,#00fffd 106.5deg,#00dd96 114deg,#00c021 118.5deg,#02b800 120.5deg,#4bcb00 126deg,#86da00 129deg,#92de00 132.5deg,#89db00 152deg)"></i>
<i style="width:310px;height:310px;left:-155px;top:-155px;background:conic-gradient(#8adb00 28deg,#82d900 31.5deg,#44c900 36.5deg,#04b900 40.5deg,#00c73e 43.5deg,#00d575 45.5deg,#00e09f 46.5deg,#00f0c1 48deg,#00fcf3 49.5deg,#0ff 51.5deg,#3ce2ff 56deg,#40dcff 66.5deg,#40d1ff 73.5deg,#409aff 90deg,#4098ff 96deg,#3de1ff 105.5deg,#09faff 106.5deg,#00fdf6 107.5deg,#00df9a 114deg,#00c32c 118deg,#00b800 120.5deg,#45c900 126deg,#80d800 129deg,#8adb00 132deg,#7ad600 145.5deg,#7ad700 152deg)"></i>
<i style="width:306px;height:306px;left:-153px;top:-153px;background:conic-gradient(#8ddc00 28deg,#86da00 31.5deg,#52cc00 36deg,#01b800 41deg,#00d05e 45deg,#00e5a9 47deg,#00f0c0 48deg,#00fcf3 49.5deg,#0ff 52deg,#36e5ff 57.5deg,#40dfff 60.5deg,#3ae3ff 65.5deg,#31e7ff 69.5deg,#40dcff 72.5deg,#4099ff 92deg,#409bff 96.5deg,#40deff 105.5deg,#34e6ff 106deg,#03feff 107deg,#00f2ca 111deg,#00e09f 114deg,#00c32d 118deg,#00b801 120.5deg,#3fc800 126deg,#7fd800 129.5deg,#7ed700 133.5deg,#66d200 141deg,#68d200 152deg)"></i>
<i style="width:302px;height:302px;left:-151px;top:-151px;background:conic-gradient(#91de00 28deg,#89db00 31.5deg,#5fd000 35.5deg,#00b902 41.5deg,#00ce58 45deg,#00e4a7 47deg,#00f0bf 48deg,#00fcf3 49.5deg,#03fdff 53deg,#31e7ff 60.5deg,#21efff 64.5deg,#09faff 69deg,#1af2ff 71.5deg,#3ee1ff 73.5deg,#409aff 93deg,#409fff 97deg,#40dfff 106deg,#0ff 107.5deg,#00f4d1 111deg,#00e1a2 114deg,#00c32e 118deg,#00b902 120.5deg,#31c400 125.5deg,#77d600 129.5deg,#76d600 132.5deg,#51cc00 140deg,#56cd00 152deg)"></i>
<i style="width:298px;height:298px;left:-149px;top:-149px;background:conic-gradient(#94df00 28deg,#8ddc00 31.5deg,#6cd300 35deg,#04b900 41.5deg,#00c636 44deg,#00d162 45.5deg,#00e3a6 47deg,#00efbe 48deg,#00fcf3 49.5deg,#05fdff 55deg,#18f3ff 61.5deg,#00fffe 65.5deg,#00fffd 72deg,#06fcff 73deg,#40dfff 76deg,#409bff 94deg,#40a7ff 98deg,#3fe0ff 106.5deg,#0ff 108deg,#00f6d7 111deg,#00edb9 112.5deg,#00de98 114.5deg,#00c42f 118deg,#00b904 120.5deg,#2cc300 125.5deg,#6fd400 129.5deg,#6bd300 132.5deg,#3cc700 140deg,#44c900 152deg)"></i>
<i style="width:294px;height:294px;left:-147px;top:-147px;background:conic-gradient(#98e000 28deg,#8edd00 32deg,#6cd300 35.5deg,#0bbb00 41.5deg,#01b800 42deg,#00cf5c 45.5deg,#00e2a4 47deg,#00efbe 48deg,#00fcf3 49.5deg,#0ff 61.5deg,#00fcf2 71deg,#0ff 75deg,#40e0ff 78deg,#409dff 94.5deg,#40abff 98.5deg,#3ee1ff 107deg,#0ff 108.5deg,#00f7de 111deg,#00e7ae 113.5deg,#00df9c 114.5deg,#00c430 118deg,#00b905 120.5deg,#26c200 125.5deg,#67d200 129.5deg,#60d000 132.5deg,#28c200 139.5deg,#32c500 152deg)"></i>
<i style="width:290px;height:290px;left:-145px;top:-145px;background:conic-gradient(#9be100 28deg,#92de00 32deg,#72d400 35.5deg,#12bd00 41.5deg,#00b904 42.5deg,#00ce56 45.5deg,#00e1a2 47deg,#00eebd 48deg,#00fcf3 49.5deg,#00fdf8 62.5deg,#00fae9 71deg,#02feff 77.5deg,#40dfff 80.5deg,#409fff 94.5deg,#40b3ff 100deg,#40e0ff 107.5deg,#04fdff 109deg,#00f9e5 111deg,#00ecb8 113deg,#00e0a0 114.5deg,#00c73e 117.5deg,#00bd12 119.5deg,#02b800 121.5deg,#21c000 125.5deg,#5fd000 129.5deg,#55cd00 132.5deg,#14bd00 139.5deg,#21c000 152deg)"></i>
<i style="width:286px;height:286px;left:-143px;top:-143px;background:conic-gradient(#9de200 28deg,#95df00 32deg,#71d400 36deg,#19be00 41.5deg,#03b900 42.5deg,#00c840 45deg,#00d984 46.5deg,#00e0a0 47deg,#00f4cf 48.5deg,#00fcf1 49.5deg,#00fdf6 62.5deg,#00fae8 71.5deg,#00fffe 78deg,#40e0ff 81deg,#40a0ff 95deg,#40c2ff 103deg,#40deff 107.5deg,#3ae3ff 108deg,#00fffd 109.5deg,#00f7db 111.5deg,#00ecb9 113deg,#00e0a0 114.5deg,#00c83e 117.5deg,#00bd13 119.5deg,#03b900 122deg,#23c100 126deg,#57ce00 129.5deg,#4fcc00 132deg,#04b900 139.5deg,#0ebb00 152deg)"></i>
<i style="width:282px;height:282px;left:-141px;top:-141px;background:conic-gradient(#9ee200 28deg,#94df00 32.5deg,#6fd400 36.5deg,#21c000 41.5deg,#00b904 43deg,#00cc4e 45.5deg,#00df9d 47deg,#00fbec 49.5deg,#00fefa 60deg,#00fbec 71.5deg,#05fdff 77.5deg,#40dfff 80.5deg,#40a0ff 95deg,#40b8ff 102deg,#3be3ff 108deg,#0cf9ff 109deg,#00fefc 109.5deg,#00f6d9 111.5deg,#00ecb8 113deg,#00e09f 114.5deg,#00c83f 117.5deg,#00bd15 119.5deg,#03b900 122.5deg,#1fc000 126deg,#4fcc00 129.5deg,#46ca00 132deg,#00b801 138.5deg,#00bb0b 142deg,#00ba08 152deg)"></i>
<i style="width:278px;height:278px;left:-139px;top:-139px;background:conic-gradient(#9fe200 28deg,#96df00 32.5deg,#74d500 36.5deg,#28c200 41.5deg,#02b900 43deg,#00cb4b 45.5deg,#00de99 47deg,#00f9e7 49.5deg,#00fef9 57.5deg,#00fcf2 67deg,#00fdf7 74deg,#05fdff 76.5deg,#40e0ff 79.5deg,#40a0ff 95deg,#40b1ff 101.5deg,#3be2ff 108deg,#08fbff 109deg,#00fcf4 110deg,#00ebb6 113deg,#00df9e 114.5deg,#00c83f 117.5deg,#00be17 119.5deg,#02b900 123deg,#1abf00 126deg,#47ca00 129.5deg,#3ec700 132deg,#00b801 137.5deg,#00be18 140.5deg,#00bf1d 152deg)"></i>
<i style="width:274px;height:274px;left:-137px;top:-137px;background:conic-gradient(#a0e300 28deg,#95df00 33deg,#6dd300 37.5deg,#3bc700 41deg,#08ba00 43deg,#00bd16 44deg,#00cf5d 46deg,#00dd94 47deg,#00f8e3 49.5deg,#00fdf8 56deg,#00fdf8 65deg,#00fef9 73deg,#0ff 75deg,#3fe0ff 78.5deg,#40a0ff 95.5deg,#40aeff 101.5deg,#3ce2ff 108deg,#04fdff 109deg,#00f5d4 111.5deg,#00e7ae 113.5deg,#00df9c 114.5deg,#00c840 117.5deg,#00be19 119.5deg,#02b800 123.5deg,#1cbf00 126.5deg,#40c800 129.5deg,#36c500 132deg,#00b905 137deg,#00c123 140deg,#00c532 152deg)"></i>
<i style="width:270px;height:270px;left:-135px;top:-135px;background:conic-gradient(#a1e300 28deg,#97e000 33deg,#73d500 37.5deg,#42c900 41deg,#00b802 43.5deg,#00c943 45.5deg,#00e3a6 47.5deg,#00f7de 49.5deg,#00fdf6 55.5deg,#00fefb 65deg,#00fffd 73deg,#0df9ff 74.5deg,#3fe0ff 77.5deg,#40a0ff 95.5deg,#40a7ff 101deg,#3de2ff 108deg,#0ff 109deg,#00f4d2 111.5deg,#00df9b 114.5deg,#00c840 117.5deg,#00bd15 120deg,#04b900 124.5deg,#38c600 129.5deg,#2dc300 132deg,#00b903 136deg,#00c42f 140deg,#00ca48 150deg,#00ca48 152deg)"></i>
<i style="width:266px;height:266px;left:-133px;top:-133px;background:conic-gradient(#a2e300 28deg,#96df00 33.5deg,#6ed400 38.5deg,#4bcb00 41deg,#04b900 43.5deg,#00c840 45.5deg,#00e2a4 47.5deg,#00f6d9 49.5deg,#00fdf5 55deg,#0ff 64.5deg,#04fdff 72deg,#40e0ff 76.5deg,#409fff 96deg,#40a7ff 101.5deg,#3de1ff 108deg,#00fffe 109deg,#00f4d0 111.5deg,#00de99 114.5deg,#00c841 117.5deg,#00be17 120deg,#03b900 125deg,#31c400 129.5deg,#25c100 132deg,#00b801 135deg,#00c73c 140deg,#00cf5b 148.5deg,#00cf5d 152deg)"></i>
<i style="width:262px;height:262px;left:-131px;top:-131px;background:conic-gradient(#a3e400 28deg,#96df00 34deg,#6fd400 39deg,#53cd00 41deg,#09ba00 43.5deg,#00be19 44.5deg,#00cd53 46deg,#00e1a2 47.5deg,#00f7dc 50deg,#00fefc 58deg,#0cf9ff 64deg,#08fbff 69.5deg,#31e7ff 74deg,#40dfff 75.5deg,#409eff 97deg,#40a3ff 101.5deg,#3ee1ff 108deg,#00fffd 109deg,#00f3cd 111.5deg,#00e6ab 113.5deg,#00da88 115deg,#00c636 118deg,#00bd16 120.5deg,#03b900 125.5deg,#29c200 129.5deg,#1dbf00 132deg,#00b905 134.5deg,#00ca48 140deg,#00d46f 148deg,#00d573 152deg)"></i>
<i style="width:258px;height:258px;left:-129px;top:-129px;background:conic-gradient(#a4e400 28deg,#96df00 34.5deg,#71d400 39.5deg,#5bcf00 41deg,#00b904 44deg,#00cc4f 46deg,#00e09f 47.5deg,#00f6d7 50deg,#00fefb 57.5deg,#08fbff 60deg,#18f4ff 64deg,#20f0ff 70deg,#40dfff 74deg,#409bff 98.5deg,#40a3ff 102deg,#3fe1ff 108deg,#1af2ff 108.5deg,#00fefd 109deg,#00ecb8 112.5deg,#00de96 114.5deg,#00c842 117.5deg,#00bf1b 120deg,#04b900 126deg,#21c000 129.5deg,#1abf00 131.5deg,#00b801 133.5deg,#00ce59 140.5deg,#00d983 147.5deg,#00da8a 152deg)"></i>
<i style="width:254px;height:254px;left:-127px;top:-127px;background:conic-gradient(#a5e400 28deg,#99e000 34.5deg,#74d500 40deg,#56ce00 41.5deg,#01b800 44deg,#00cb4b 46deg,#00df9b 47.5deg,#00f4d3 50deg,#00fdf8 56.5deg,#02feff 59deg,#21efff 63deg,#35e5ff 70deg,#40deff 72.5deg,#4098ff 99.5deg,#40aaff 103deg,#3fe0ff 108deg,#18f3ff 108.5deg,#00fefc 109deg,#00ecb7 112.5deg,#00dd95 114.5deg,#00c942 117.5deg,#00bf1d 120deg,#03b900 126.5deg,#1bbf00 130deg,#00b902 133deg,#00d266 140.5deg,#00dd94 146.5deg,#00e0a0 152deg)"></i>
<i style="width:250px;height:250px;left:-125px;top:-125px;background:conic-gradient(#a6e500 28deg,#9ae100 35deg,#75d500 40.5deg,#3dc700 42.5deg,#06b900 44deg,#00c431 45.5deg,#00de96 47.5deg,#00eebc 49deg,#00f6d8 51deg,#00fffd 58deg,#2de9ff 63.5deg,#40deff 70deg,#4097ff 100.5deg,#40b2ff 104deg,#40e0ff 108deg,#17f4ff 108.5deg,#00fefb 109deg,#00ebb6 112.5deg,#00e1a1 114deg,#00c943 117.5deg,#00c01f 120deg,#02b900 127deg,#13bd00 130deg,#00b903 132.5deg,#00d67a 141deg,#00e1a1 145.5deg,#00e6ab 152deg)"></i>
<i style="width:246px;height:246px;left:-123px;top:-123px;background:conic-gradient(#a7e500 28deg,#9be100 35.5deg,#7ed700 40.5deg,#56cd00 42deg,#0abb00 44deg,#00ba09 44.5deg,#00cf5d 46.5deg,#00e3a5 48deg,#00f4cf 50.5deg,#00fdf8 56.5deg,#03fdff 58.5deg,#35e5ff 63deg,#40dfff 66.5deg,#40b5ff 87deg,#4094ff 100.5deg,#40a9ff 103.5deg,#40e0ff 108deg,#15f5ff 108.5deg,#00fefa 109deg,#00ebb5 112.5deg,#00e0a0 114deg,#00c943 117.5deg,#00c021 120deg,#04b900 128deg,#0abb00 130.5deg,#00b904 132deg,#00dd95 142deg,#00e4a9 145deg,#00ebb6 152deg)"></i>
<i style="width:242px;height:242px;left:-121px;top:-121px;background:conic-gradient(#a8e500 28deg,#9ce100 36deg,#84d900 40.5deg,#5dcf00 42deg,#00b905 44.5deg,#00ce59 46.5deg,#00e2a3 48deg,#00f4d1 51deg,#00fefb 57deg,#06fcff 58.5deg,#3fe1ff 63deg,#40b0ff 88.5deg,#4092ff 100.5deg,#40adff 104deg,#40e0ff 108deg,#13f6ff 108.5deg,#00fef9 109deg,#00edbb 112deg,#00e09f 114deg,#00c944 117.5deg,#00c123 120deg,#03b900 129.5deg,#00b906 131.5deg,#00df9e 141.5deg,#00efbe 148.5deg,#00f0c2 152deg)"></i>
<i style="width:238px;height:238px;left:-119px;top:-119px;background:conic-gradient(#a8e500 28deg,#9ce100 36.5deg,#88db00 40.5deg,#62d100 42deg,#00b800 44.5deg,#00cd53 46.5deg,#00e09f 48deg,#00efbf 50deg,#00fbf0 56deg,#05fdff 60deg,#3fe0ff 65.5deg,#40b2ff 89.5deg,#4091ff 100.5deg,#40abff 104deg,#40ddff 108deg,#00fefd 109deg,#00ebb6 112.5deg,#00dd94 114.5deg,#00ca48 117.5deg,#00c226 120deg,#02b800 130deg,#00bc10 132deg,#00e0a0 140.5deg,#00f5d7 150deg,#00f5d7 152deg)"></i>
<i style="width:234px;height:234px;left:-117px;top:-117px;background:conic-gradient(#a6e500 28deg,#99e000 37deg,#88db00 40.5deg,#64d100 42deg,#06ba00 44.5deg,#00bf1e 45.5deg,#00dd94 48deg,#00e7ad 49deg,#00fae9 57deg,#02feff 64.5deg,#40dfff 73deg,#40c4ff 87deg,#4092ff 100deg,#40a5ff 103.5deg,#40dfff 108.5deg,#18f3ff 109deg,#00fefb 109.5deg,#00edbb 112.5deg,#00e09f 114.5deg,#00ca46 118deg,#00c226 120.5deg,#00b904 127deg,#04b900 130.5deg,#00bc0e 132deg,#00e1a1 139.5deg,#00f8e0 146.5deg,#00faea 151.5deg,#00faea 152deg)"></i>
<i style="width:230px;height:230px;left:-115px;top:-115px;background:conic-gradient(#a5e400 28deg,#98e000 37deg,#88db00 40.5deg,#66d200 42deg,#00b905 45deg,#00d471 47.5deg,#00df9e 48.5deg,#00ebb6 50.5deg,#00f9e8 59.5deg,#04fdff 72.5deg,#28ecff 80deg,#40deff 82.5deg,#40b9ff 92deg,#4094ff 99deg,#409cff 102.5deg,#40daff 108.5deg,#3ce2ff 109deg,#12f6ff 109.5deg,#00fefa 110deg,#00ecb9 113deg,#00df9b 115deg,#00cc4e 118deg,#00c124 121deg,#00b905 125deg,#07ba00 130.5deg,#00bb0c 132deg,#00e2a4 139deg,#00f1c5 142deg,#00fbef 144.5deg,#04fdff 149deg,#00fefd 152deg)"></i>
<i style="width:226px;height:226px;left:-113px;top:-113px;background:conic-gradient(#a3e400 28deg,#96df00 37.5deg,#82d900 41deg,#47ca00 43deg,#02b800 45deg,#00cc50 47deg,#00e1a2 49deg,#00efbe 53.5deg,#00f8e4 62deg,#00fcf4 76deg,#02feff 83deg,#40dfff 86.5deg,#40c0ff 92deg,#409cff 97deg,#4096ff 101deg,#40baff 106deg,#40dbff 109deg,#39e4ff 109.5deg,#10f7ff 110deg,#00fef9 110.5deg,#00ecb7 113.5deg,#00de97 115.5deg,#00cb4b 118.5deg,#00ba07 123.5deg,#05b900 126.5deg,#0bbb00 130.5deg,#00b801 131.5deg,#00dc90 137.5deg,#00e6ac 139deg,#00f1c4 141deg,#00fffe 143.5deg,#3fe1ff 144.5deg,#40d8ff 149deg,#40ddff 152deg)"></i>
<i style="width:222px;height:222px;left:-111px;top:-111px;background:conic-gradient(#a1e300 28deg,#94df00 38deg,#82d900 41deg,#4acb00 43deg,#08ba00 45deg,#00ba09 45.5deg,#00de98 49deg,#00e5aa 50.5deg,#00f7dd 64deg,#00f9e6 76deg,#00fbee 83deg,#03feff 87deg,#39e3ff 89deg,#40d3ff 91deg,#40a5ff 95.5deg,#4096ff 100.5deg,#40b0ff 105deg,#40dbff 109.5deg,#39e3ff 110deg,#0ff8ff 110.5deg,#00fdf8 111deg,#00eebc 113.5deg,#00e0a1 115.5deg,#00ca48 119deg,#00b802 123.5deg,#10bc00 130deg,#01b800 131.5deg,#00db8c 137deg,#00e6ac 138.5deg,#00f3cc 140.5deg,#00fdf6 142deg,#14f5ff 142.5deg,#40ddff 143deg,#40c7ff 145deg,#40c7ff 149deg,#40ceff 152deg)"></i>
<i style="width:218px;height:218px;left:-109px;top:-109px;background:conic-gradient(#9fe200 28deg,#91de00 38.5deg,#83d900 41deg,#4ecc00 43deg,#00b802 45.5deg,#00db8c 49deg,#00e1a1 50deg,#00f3ce 62.5deg,#00f6da 73deg,#00f6da 82deg,#03fdff 89.5deg,#40ddff 91deg,#40a9ff 95deg,#4096ff 100deg,#40abff 104.5deg,#40daff 110deg,#3ae3ff 110.5deg,#0cf9ff 111deg,#00fdf7 111.5deg,#00edbb 114deg,#00df9d 116deg,#00c945 119.5deg,#03b900 123.5deg,#10bc00 126deg,#11bc00 130.5deg,#00ba07 132deg,#00e2a3 137.5deg,#00f4d2 140deg,#0ff 141.5deg,#40deff 142deg,#40b9ff 144deg,#40b3ff 148deg,#40c0ff 151deg,#40c0ff 152deg)"></i>
<i style="width:214px;height:214px;left:-107px;top:-107px;background:conic-gradient(#9ee200 28deg,#8fdd00 39deg,#84d900 41deg,#52cc00 43deg,#06b900 45.5deg,#00c020 46.5deg,#00d880 49deg,#00df9d 50.5deg,#00edbb 58deg,#00f4cf 71.5deg,#00f2c7 81.5deg,#00fcf1 89.5deg,#00fefc 90.5deg,#17f4ff 91deg,#40dfff 91.5deg,#40afff 94.5deg,#4098ff 99.5deg,#40a6ff 104deg,#40d3ff 110deg,#39e3ff 111deg,#07fcff 111.5deg,#00f7db 113deg,#00ecb9 114.5deg,#00de99 116.5deg,#00ca4a 119.5deg,#00b800 123deg,#15bd00 125deg,#15bd00 130.5deg,#00b906 132deg,#00dc8e 136.5deg,#00e4a9 137.5deg,#00f1c5 139deg,#00fcf4 140.5deg,#1df1ff 141deg,#40d8ff 141.5deg,#40a5ff 144deg,#40a0ff 147.5deg,#40b2ff 150.5deg,#40b2ff 152deg)"></i>
<i style="width:210px;height:210px;left:-105px;top:-105px;background:conic-gradient(#9ce100 28deg,#8fdd00 39deg,#84d900 41deg,#56cd00 43deg,#00b902 46deg,#00d36c 49deg,#00db8d 51deg,#00e2a4 54deg,#00eebd 68.5deg,#00eab5 85deg,#00f1c4 90.5deg,#00fffe 93.5deg,#27ecff 94deg,#40deff 94.5deg,#40b4ff 97.5deg,#409cff 99.5deg,#40a6ff 104deg,#40d3ff 110.5deg,#37e4ff 111.5deg,#01ffff 112deg,#00efbd 114.5deg,#00e0a0 116.5deg,#00c840 120deg,#00b902 122.5deg,#20c000 124.5deg,#1ebf00 130.5deg,#01b800 132deg,#00e1a3 137deg,#00efbf 138.5deg,#00fcf3 140deg,#17f4ff 140.5deg,#40d9ff 141deg,#409fff 143.5deg,#4096ff 146deg,#40a1ff 149.5deg,#40a7ff 152deg)"></i>
<i style="width:206px;height:206px;left:-103px;top:-103px;background:conic-gradient(#9be100 28deg,#8ddc00 39.5deg,#7ed700 41.5deg,#00b905 46.5deg,#00cc51 49deg,#00d678 52deg,#00e0a1 58.5deg,#00e6ad 72deg,#00dd93 80deg,#00d880 87.5deg,#00db8c 91deg,#00e5aa 94deg,#00edba 96deg,#00f2ca 96.5deg,#00f9e5 97deg,#0ff8ff 97.5deg,#40d1ff 98deg,#40a3ff 99.5deg,#40a4ff 103deg,#40cbff 110.5deg,#40d9ff 111.5deg,#32e7ff 112deg,#00fffd 112.5deg,#00edba 115deg,#00dd94 117deg,#00b905 122deg,#32c400 124.5deg,#2cc300 130.5deg,#00b802 132.5deg,#00dc90 136.5deg,#00e7ad 137.5deg,#00f1c4 138.5deg,#00fffd 140deg,#40dfff 140.5deg,#40a0ff 143deg,#4091ff 145.5deg,#409eff 152deg)"></i>
<i style="width:202px;height:202px;left:-101px;top:-101px;background:conic-gradient(#99e000 28deg,#8cdc00 40deg,#76d500 42deg,#00b905 47deg,#00c840 49.5deg,#00d573 56deg,#00df9e 68.5deg,#00dd96 73deg,#00c533 86.5deg,#00c42e 91deg,#00ca4a 95deg,#00cd53 95.5deg,#00d36a 96deg,#00e5aa 97deg,#00efbf 97.5deg,#00faeb 98deg,#40d9ff 98.5deg,#40adff 99.5deg,#40a5ff 101.5deg,#40c1ff 110deg,#40daff 112deg,#29ebff 112.5deg,#00fefa 113deg,#00efbd 115deg,#00de98 117deg,#00bb0c 121.5deg,#05b900 122deg,#3dc700 124deg,#46ca00 126deg,#3bc700 130.5deg,#1abe00 132deg,#00ba08 133deg,#00d678 136deg,#00e2a3 137deg,#00f2ca 138.5deg,#00fdf5 139.5deg,#28ecff 140deg,#40d6ff 140.5deg,#409bff 143deg,#408cff 145.5deg,#4098ff 152deg)"></i>
<i style="width:198px;height:198px;left:-99px;top:-99px;background:conic-gradient(#98e000 28deg,#8adb00 40.5deg,#6ed300 42.5deg,#01b800 47.5deg,#00c32a 50deg,#00ce59 57.5deg,#00d87f 69.5deg,#00d470 73.5deg,#00bb0c 83deg,#06b900 84.5deg,#2cc300 90deg,#26c200 95deg,#1abf00 95.5deg,#00b904 96deg,#00d163 97deg,#00e09f 97.5deg,#00eebc 98deg,#00fcf1 98.5deg,#40cfff 99deg,#40b7ff 99.5deg,#40acff 100.5deg,#40b3ff 108deg,#40c9ff 111.5deg,#40dcff 112.5deg,#18f3ff 113deg,#00fdf5 113.5deg,#00f0c2 115deg,#00df9c 117deg,#00b904 121.5deg,#4fcc00 124deg,#59ce00 125.5deg,#4aca00 130.5deg,#26c200 132deg,#02b900 133deg,#00d575 136deg,#00e2a3 137deg,#00eebc 138deg,#0ff 139.5deg,#40dcff 140deg,#409dff 142.5deg,#4087ff 145deg,#4092ff 152deg)"></i>
<i style="width:194px;height:194px;left:-97px;top:-97px;background:conic-gradient(#96df00 28deg,#8adb00 40.5deg,#71d400 42.5deg,#00b903 49deg,#00c42e 55deg,#00d05f 69deg,#00ce57 72.5deg,#00bd13 78.5deg,#00b800 80deg,#65d100 86.5deg,#88db00 90.5deg,#94df00 95deg,#89db00 95.5deg,#65d100 96deg,#2dc300 96.5deg,#00bd16 97deg,#00e2a5 98deg,#00f3ce 98.5deg,#38e4ff 99deg,#40c0ff 99.5deg,#40b4ff 100deg,#40adff 106.5deg,#40bcff 111deg,#40dfff 113deg,#0ff 113.5deg,#00eebc 115.5deg,#00e0a0 117deg,#04b900 121.5deg,#53cd00 123.5deg,#6ad200 124.5deg,#63d100 129deg,#50cc00 131deg,#0dbb00 133deg,#00ba08 133.5deg,#00d472 136deg,#00e2a4 137deg,#00efbe 138deg,#00fcf1 139deg,#2aebff 139.5deg,#40d4ff 140deg,#4098ff 142.5deg,#4082ff 145deg,#408bff 152deg)"></i>
<i style="width:190px;height:190px;left:-95px;top:-95px;background:conic-gradient(#96df00 28deg,#8cdc00 40.5deg,#6cd300 43deg,#0cbb00 49.5deg,#00b906 52deg,#00c73d 66deg,#00c83f 71.5deg,#00bd15 75.5deg,#01b800 77deg,#5bcf00 82.5deg,#87da00 85deg,#c3ed00 92.5deg,#caee00 95deg,#bbeb00 95.5deg,#9be100 96deg,#69d200 96.5deg,#23c100 97deg,#00c226 97.5deg,#00d471 98deg,#00e6ac 98.5deg,#00f5d5 99deg,#10f7ff 99.5deg,#40d8ff 100deg,#40bbff 104.5deg,#40c7ff 110.5deg,#40d9ff 112deg,#30e8ff 112.5deg,#00fefc 113deg,#00efbd 115deg,#00e1a3 116.5deg,#00b903 121deg,#68d200 123.5deg,#80d800 124.5deg,#7ad600 129deg,#65d100 131deg,#21c000 133deg,#00ba08 134deg,#00cf5e 136deg,#00de96 137deg,#00f2ca 138.5deg,#00fffd 139.5deg,#40dbff 140deg,#409aff 142.5deg,#4083ff 145deg,#408aff 152deg)"></i>
<i style="width:186px;height:186px;left:-93px;top:-93px;background:conic-gradient(#96df00 28deg,#8bdc00 41deg,#5fd000 44deg,#1bbf00 49.5deg,#00b905 55deg,#00c226 69deg,#00bf1e 72deg,#00b800 74.5deg,#92de00 83.5deg,#caee00 90.5deg,#d2f100 95deg,#c6ed00 95.5deg,#83d900 96.5deg,#0aba00 97.5deg,#00d471 98.5deg,#00e2a3 99deg,#00f0c1 100deg,#00fdf8 102.5deg,#07fcff 103deg,#2aebff 103.5deg,#40dfff 104deg,#3ee1ff 107.5deg,#00fffe 110deg,#00f8e3 112deg,#00edb9 114deg,#00dd96 116deg,#00b902 120.5deg,#81d800 123.5deg,#98e000 125deg,#88db00 130.5deg,#66d100 132deg,#05b900 134.5deg,#00c123 135.5deg,#00e4a7 138deg,#00f1c6 139deg,#00fdf6 140deg,#35e6ff 140.5deg,#40d1ff 141deg,#409bff 143deg,#408aff 145deg,#408fff 152deg)"></i>
<i style="width:182px;height:182px;left:-91px;top:-91px;background:conic-gradient(#96df00 28deg,#8fdd00 41deg,#40c800 47deg,#14bd00 53.5deg,#00b802 60deg,#00ba08 71deg,#06b900 72.5deg,#53cd00 77deg,#87da00 80deg,#c8ee00 86deg,#e0f400 91.5deg,#dbf300 95deg,#d0f000 95.5deg,#97e000 96.5deg,#6fd400 97deg,#07ba00 98deg,#00d77a 99.5deg,#00e1a1 100.5deg,#00f3cc 103deg,#00f9e5 104.5deg,#00f7dc 108deg,#00df9d 114.5deg,#03b900 120deg,#3ec800 121.5deg,#86da00 123deg,#a9e600 124.5deg,#a0e300 130deg,#83d900 132deg,#00b801 135.5deg,#00d46f 137.5deg,#00e3a6 138.5deg,#00f0c2 139.5deg,#00fbef 140.5deg,#21efff 141deg,#40d3ff 141.5deg,#409cff 143.5deg,#4091ff 145.5deg,#4093ff 152deg)"></i>
<i style="width:178px;height:178px;left:-89px;top:-89px;background:conic-gradient(#96df00 28deg,#92de00 41deg,#4fcc00 46.5deg,#1abf00 56deg,#12bd00 65.5deg,#16bd00 71deg,#3dc700 74deg,#8edd00 78deg,#e1f400 84.5deg,#f2f900 90deg,#e4f500 95deg,#dbf300 95.5deg,#90dd00 97deg,#1bbf00 98.5deg,#00bb0a 99deg,#00c842 100deg,#00de97 102deg,#00eab4 103.5deg,#00efbe 105.5deg,#00e1a3 112deg,#00d269 115deg,#00b903 119deg,#29c200 120.5deg,#99e000 123deg,#c1ec00 124.5deg,#bdeb00 128.5deg,#abe600 131deg,#81d800 133deg,#22c100 135.5deg,#0aba00 136deg,#00bc12 136.5deg,#00db8e 138.5deg,#00e3a6 139deg,#00efbe 140deg,#00fbed 141deg,#1ff0ff 141.5deg,#40d2ff 142deg,#40a6ff 143.5deg,#4098ff 145deg,#4098ff 152deg)"></i>
<i style="width:174px;height:174px;left:-87px;top:-87px;background:conic-gradient(#94df00 28deg,#94df00 41deg,#55cd00 46.5deg,#1abe00 57.5deg,#1cbf00 70.5deg,#36c500 73deg,#96df00 78deg,#e5f500 84.5deg,#f4fa00 90.5deg,#e6f500 95deg,#ddf300 95.5deg,#93de00 97deg,#00b801 99deg,#00c535 100deg,#00e0a1 103deg,#00e8b0 105deg,#00df9c 111deg,#00d060 114.5deg,#00b903 118.5deg,#33c500 120.5deg,#9ee200 123deg,#c7ee00 124.5deg,#c6ed00 128.5deg,#b5e900 131deg,#83d900 133.5deg,#3dc700 135.5deg,#0dbb00 136.5deg,#00bc0f 137deg,#00df9d 139.5deg,#00f0bf 141deg,#00fbef 142deg,#2ef 142.5deg,#40d4ff 143deg,#40b4ff 144.5deg,#40a3ff 152deg)"></i>
<i style="width:170px;height:170px;left:-85px;top:-85px;background:conic-gradient(#93de00 28deg,#96df00 41deg,#57ce00 47deg,#1dbf00 58deg,#25c100 70.5deg,#40c800 73deg,#9de200 78deg,#eaf700 84.5deg,#f6fb00 91deg,#e8f600 95deg,#def400 95.5deg,#96df00 97deg,#50cc00 98deg,#09ba00 99deg,#00c228 100deg,#00da88 103deg,#00e0a1 104.5deg,#00de96 108.5deg,#00d470 112.5deg,#00be19 117deg,#00b802 118deg,#3ec800 120.5deg,#92de00 122.5deg,#cdef00 124.5deg,#cdef00 129deg,#c0ec00 131deg,#7ad600 134.5deg,#43c900 136deg,#12bd00 137deg,#00ba09 137.5deg,#00da88 140deg,#00e5aa 141deg,#00f0c1 142deg,#00fbee 143deg,#0afaff 143.5deg,#40dcff 144deg,#40c6ff 146deg,#40b2ff 151deg,#40b2ff 152deg)"></i>
<i style="width:166px;height:166px;left:-83px;top:-83px;background:conic-gradient(#92de00 28deg,#98e000 41deg,#5dcf00 47deg,#1fc000 58.5deg,#2bc300 70deg,#42c800 72.5deg,#a4e400 78deg,#ecf700 84deg,#f8fc00 91deg,#eaf600 95deg,#cdef00 96deg,#7dd700 97.5deg,#13bd00 99deg,#00ba08 99.5deg,#00d36d 103deg,#00d984 104.5deg,#00d678 109deg,#00ce59 112.5deg,#01b800 117.5deg,#49ca00 120.5deg,#a8e500 123deg,#d2f100 124.5deg,#d6f100 129deg,#c4ed00 131.5deg,#75d500 135.5deg,#01b800 138deg,#00e09f 141.5deg,#00f0c0 143deg,#00fcf4 144.5deg,#00fffd 145deg,#36e5ff 146deg,#40ddff 146.5deg,#40c0ff 150.5deg,#40c0ff 152deg)"></i>
<i style="width:162px;height:162px;left:-81px;top:-81px;background:conic-gradient(#91de00 28deg,#9ce100 40.5deg,#5dcf00 48deg,#23c100 58.5deg,#2ec400 68deg,#3fc800 71.5deg,#c2ed00 79.5deg,#f2f900 84.5deg,#f9fc00 92deg,#ebf700 95deg,#cff000 96deg,#81d800 97.5deg,#1cbf00 99deg,#04b900 99.5deg,#00cd54 103deg,#00d268 105deg,#00cc4e 111.5deg,#00be16 115.5deg,#06ba00 117deg,#54cd00 120.5deg,#cdef00 124deg,#ddf300 125.5deg,#daf200 130.5deg,#afe800 133.5deg,#80d800 136deg,#0ebb00 138.5deg,#00ba0a 139deg,#00e0a1 142.5deg,#00fbf0 146.5deg,#02feff 147.5deg,#40dfff 148.5deg,#40d0ff 150.5deg,#40d0ff 152deg)"></i>
<i style="width:158px;height:158px;left:-79px;top:-79px;background:conic-gradient(#90dd00 28deg,#9fe200 40deg,#81d800 44deg,#29c200 58deg,#2cc300 65deg,#43c900 71deg,#7cd700 74.5deg,#d6f100 80.5deg,#f5fa00 84.5deg,#fbfd00 92deg,#edf700 95deg,#d1f000 96deg,#85da00 97.5deg,#26c100 99deg,#00b800 100deg,#00c842 103.5deg,#00cb4b 106deg,#00c533 112deg,#04b900 116deg,#5fd000 120.5deg,#d3f100 124deg,#e3f500 125.5deg,#e4f500 130.5deg,#c2ec00 133.5deg,#97e000 136deg,#62d100 137.5deg,#09ba00 139.5deg,#00bf1d 140.5deg,#00e0a1 143.5deg,#00f6d9 147deg,#00fefd 149deg,#3ce2ff 150deg,#3ce2ff 152deg)"></i>
<i style="width:154px;height:154px;left:-77px;top:-77px;background:conic-gradient(#8edd00 28deg,#a0e300 39.5deg,#92de00 42.5deg,#62d000 49.5deg,#2bc300 58.5deg,#33c500 65.5deg,#4ccb00 71deg,#d9f200 80deg,#f7fb00 84deg,#fdfe00 92deg,#eff800 95deg,#d4f100 96deg,#6bd300 98deg,#30c400 99deg,#0dbb00 100deg,#00bb0d 101.5deg,#00c42e 104.5deg,#00c021 111.5deg,#05b900 115deg,#5ed000 120deg,#d9f200 124deg,#eaf600 125.5deg,#eef700 130.5deg,#c8ee00 134.5deg,#a2e300 136.5deg,#72d400 138deg,#0dbb00 140.5deg,#00ba08 141deg,#00df9d 144.5deg,#00f4d1 148deg,#00fdf7 150deg,#00fdf7 152deg)"></i>
<i style="width:150px;height:150px;left:-75px;top:-75px;background:conic-gradient(#8ddc00 28deg,#95df00 31.5deg,#a2e300 40deg,#2ec400 59deg,#3ac700 66deg,#56cd00 71deg,#e2f400 80deg,#fbfd00 84.5deg,#fbfd00 93deg,#f1f800 95deg,#d6f100 96deg,#71d400 98deg,#39c600 99deg,#1abf00 100deg,#00b800 102deg,#00bd13 105deg,#00ba07 112deg,#0bbb00 114deg,#61d000 119.5deg,#a0e300 122deg,#def400 124deg,#f0f800 125.5deg,#f1f900 132deg,#d4f100 135.5deg,#84d900 138.5deg,#0dbb00 141.5deg,#00ba0a 142deg,#00d575 144.5deg,#00e1a2 146deg,#00f3cd 149deg,#00f8e2 150deg,#00f8e2 152deg)"></i>
<i style="width:146px;height:146px;left:-73px;top:-73px;background:conic-gradient(#8cdc00 28deg,#93de00 31deg,#a4e400 38deg,#9be100 42deg,#72d400 49deg,#33c500 58.5deg,#3ac600 64.5deg,#5fd000 71deg,#e5f500 79.5deg,#feff00 84.5deg,#fbfd00 93.5deg,#e9f600 95.5deg,#91de00 97.5deg,#43c900 99deg,#28c200 100deg,#0bbb00 104deg,#0fbc00 112deg,#3ec700 116.5deg,#8bdc00 121deg,#eef700 124.5deg,#fbfd00 131deg,#eef800 135.5deg,#c0ec00 137.5deg,#64d100 140.5deg,#09ba00 142.5deg,#00c125 143.5deg,#00dd92 146.5deg,#00e4a8 147.5deg,#00f3cd 150deg,#00f3cd 152deg)"></i>
<i style="width:142px;height:142px;left:-71px;top:-71px;background:conic-gradient(#88db00 28deg,#8fdd00 31deg,#a2e300 37.5deg,#9de200 41.5deg,#6ed400 49deg,#33c500 59deg,#3fc800 65.5deg,#61d000 71deg,#e5f500 79.5deg,#fefe00 84.5deg,#fbfd00 93.5deg,#e9f600 95.5deg,#91de00 97.5deg,#44c900 99deg,#29c200 100deg,#0bbb00 104deg,#10bc00 112deg,#3fc800 116.5deg,#8cdc00 121deg,#f0f800 124.5deg,#fffd00 130deg,#f9fc00 135.5deg,#e2f400 137deg,#6fd400 141deg,#03b900 143.5deg,#00d77b 147.5deg,#00e0a1 149deg,#00e5ab 150.5deg,#00e5ab 152deg)"></i>
<i style="width:138px;height:138px;left:-69px;top:-69px;background:conic-gradient(#84d900 28deg,#88db00 30.5deg,#a0e300 36.5deg,#9ce100 41.5deg,#68d200 49.5deg,#34c500 59deg,#41c800 65.5deg,#69d200 71.5deg,#e5f500 79.5deg,#feff00 85deg,#fafd00 93.5deg,#eaf600 95.5deg,#92de00 97.5deg,#46c900 99deg,#2ac300 100deg,#0cbb00 104deg,#12bc00 112deg,#40c800 116.5deg,#8ddc00 121deg,#f1f800 124.5deg,#fffc00 128deg,#fffc00 135.5deg,#f3f900 137deg,#7cd700 141.5deg,#09ba00 144.5deg,#00bd14 145.5deg,#00d77d 150deg,#00d77d 152deg)"></i>
<i style="width:134px;height:134px;left:-67px;top:-67px;background:conic-gradient(#80d800 28deg,#84d900 30.5deg,#9ee200 36deg,#9be100 41.5deg,#62d000 50deg,#35c500 59deg,#42c900 65.5deg,#6bd300 71.5deg,#e5f500 79.5deg,#feff00 85deg,#fafd00 93.5deg,#eaf600 95.5deg,#93de00 97.5deg,#47ca00 99deg,#2bc300 100deg,#0dbb00 104deg,#13bd00 112deg,#41c800 116.5deg,#8ddc00 121deg,#f2f900 124.5deg,#fffa00 127.5deg,#fff200 134.5deg,#ff0 137deg,#e5f500 138.5deg,#7ad700 142.5deg,#28c200 145deg,#03b900 146.5deg,#00c946 150deg,#00c946 152deg)"></i>
<i style="width:130px;height:130px;left:-65px;top:-65px;background:conic-gradient(#7bd700 28deg,#81d800 30.5deg,#9ce100 36deg,#99e000 41.5deg,#60d000 49.5deg,#36c600 59.5deg,#46ca00 66deg,#6dd300 71.5deg,#e5f500 79.5deg,#fefe00 85deg,#fafd00 93.5deg,#eaf600 95.5deg,#94df00 97.5deg,#48ca00 99deg,#2dc300 100deg,#0ebb00 104deg,#15bd00 112deg,#42c900 116.5deg,#8edd00 121deg,#f3f900 124.5deg,#fffc00 126.5deg,#ffea00 133deg,#fff200 136.5deg,#feff00 138deg,#daf200 140deg,#34c500 146.5deg,#01b800 149deg,#00bc10 150deg,#00bc10 152deg)"></i>
<i style="width:126px;height:126px;left:-63px;top:-63px;background:conic-gradient(#75d500 28deg,#75d500 30deg,#94df00 34deg,#9de200 40.5deg,#5acf00 50deg,#37c600 59.5deg,#48ca00 66deg,#6fd400 71.5deg,#e5f500 79.5deg,#fdfe00 85deg,#fafd00 93.5deg,#eaf600 95.5deg,#94df00 97.5deg,#4aca00 99deg,#2ec300 100deg,#0fbc00 104deg,#16be00 112deg,#43c900 116.5deg,#8edd00 121deg,#f4fa00 124.5deg,#fff900 126.5deg,#ffe400 132.5deg,#ffe900 136.5deg,#fffe00 139deg,#dff400 141deg,#96df00 144deg,#26c200 150deg,#26c200 152deg)"></i>
<i style="width:122px;height:122px;left:-61px;top:-61px;background:conic-gradient(#70d400 28deg,#70d400 30deg,#90dd00 33.5deg,#9de200 40deg,#80d800 44deg,#56ce00 50deg,#38c600 60deg,#4ccb00 66.5deg,#71d400 71.5deg,#e6f500 79.5deg,#fdfe00 85deg,#f9fc00 93.5deg,#eaf700 95.5deg,#95df00 97.5deg,#4bcb00 99deg,#2fc400 100deg,#0fbc00 104deg,#18be00 112deg,#44c900 116.5deg,#8fdd00 121deg,#f5fa00 124.5deg,#fffa00 126deg,#ffdf00 132deg,#ffe000 136.5deg,#ff0 140.5deg,#dcf300 142.5deg,#a9e600 145deg,#5ed000 150deg,#5ed000 152deg)"></i>
<i style="width:118px;height:118px;left:-59px;top:-59px;background:conic-gradient(#6bd300 28deg,#6bd300 30deg,#8bdc00 33deg,#9be100 39deg,#91de00 42deg,#56ce00 49deg,#3ac600 60deg,#4ecb00 66.5deg,#72d500 71.5deg,#e6f500 79.5deg,#fdfe00 85deg,#f9fc00 93.5deg,#eaf700 95.5deg,#96df00 97.5deg,#3bc700 99.5deg,#15bd00 103deg,#10bc00 108.5deg,#20c000 113deg,#54cd00 117.5deg,#9ce100 121.5deg,#edf700 124deg,#fffd00 125.5deg,#ffdb00 131deg,#ffd700 136.5deg,#fafd00 142.5deg,#97e000 149.5deg,#92de00 152deg)"></i>
<i style="width:114px;height:114px;left:-57px;top:-57px;background:conic-gradient(#65d100 28deg,#65d100 30deg,#88db00 33deg,#9ae100 39deg,#90dd00 42deg,#52cd00 49deg,#3bc700 60.5deg,#55cd00 67.5deg,#74d500 71.5deg,#e6f500 79.5deg,#fdfe00 85deg,#fbfd00 93deg,#eaf700 95.5deg,#96df00 97.5deg,#3cc700 99.5deg,#16bd00 103deg,#11bc00 108.5deg,#21c000 113deg,#55cd00 117.5deg,#9ce100 121.5deg,#eef800 124deg,#fffb00 125.5deg,#ffd600 131deg,#ffcf00 136.5deg,#fff800 143.5deg,#fbfd00 145deg,#dbf300 148deg,#c0ec00 150deg,#c0ec00 152deg)"></i>
<i style="width:110px;height:110px;left:-55px;top:-55px;background:conic-gradient(#60d000 28deg,#60d000 30deg,#86da00 33deg,#99e000 38.5deg,#93de00 41.5deg,#4ecc00 49deg,#3dc700 61deg,#5acf00 68deg,#7dd700 72deg,#e6f500 79.5deg,#fcfe00 85deg,#fbfd00 93deg,#ebf700 95.5deg,#97e000 97.5deg,#3dc700 99.5deg,#17be00 103deg,#12bc00 108deg,#23c100 113deg,#56cd00 117.5deg,#9de200 121.5deg,#eff800 124deg,#fffe00 125deg,#ffd200 130.5deg,#ffc600 136.5deg,#fff300 146.5deg,#fcfd00 149deg,#f4fa00 152deg)"></i>
<i style="width:106px;height:106px;left:-53px;top:-53px;background:conic-gradient(#5bcf00 28deg,#5bcf00 30deg,#83d900 33deg,#97e000 38.5deg,#92de00 41.5deg,#4acb00 49deg,#40c800 62deg,#69d200 70deg,#b4e900 76deg,#e6f500 79.5deg,#fcfe00 85deg,#fafd00 93deg,#ebf700 95.5deg,#98e000 97.5deg,#3ec800 99.5deg,#17be00 103deg,#13bd00 108deg,#24c100 113deg,#57ce00 117.5deg,#9de200 121.5deg,#f0f800 124deg,#fffd00 125deg,#ffcd00 130.5deg,#ffbd00 137deg,#ffe400 148.5deg,#ffed00 152deg)"></i>
<i style="width:102px;height:102px;left:-51px;top:-51px;background:conic-gradient(#55cd00 28deg,#55cd00 30deg,#81d800 33deg,#96df00 38.5deg,#90dd00 41.5deg,#47ca00 49deg,#42c900 62.5deg,#6fd400 70.5deg,#c6ed00 77deg,#edf700 80.5deg,#ff0 88.5deg,#f4fa00 94.5deg,#ebf700 95.5deg,#98e000 97.5deg,#40c800 99.5deg,#18be00 103deg,#13bd00 107.5deg,#25c100 113deg,#58ce00 117.5deg,#9ee200 121.5deg,#f1f900 124deg,#fffc00 125deg,#ffcb00 130deg,#ffb400 137deg,#ffc800 148deg,#ffd100 152deg)"></i>
<i style="width:98px;height:98px;left:-49px;top:-49px;background:conic-gradient(#50cc00 28deg,#50cc00 30deg,#82d900 33.5deg,#95df00 39deg,#8adb00 42deg,#45c900 48.5deg,#41c800 61.5deg,#66d200 69deg,#93de00 73.5deg,#e6f500 79.5deg,#fcfe00 85.5deg,#fafd00 93deg,#ebf700 95.5deg,#aee700 97deg,#41c800 99.5deg,#19be00 103deg,#14bd00 107.5deg,#27c200 113deg,#59ce00 117.5deg,#9ee200 121.5deg,#f2f900 124deg,#fffa00 125deg,#ffc600 130deg,#ffab00 137deg,#ffac00 147.5deg,#ffb600 152deg)"></i>
<i style="width:94px;height:94px;left:-47px;top:-47px;background:conic-gradient(#52cd00 28deg,#52cd00 30deg,#83d900 33.5deg,#95df00 39deg,#8adb00 42deg,#45c900 49deg,#4ccb00 63deg,#81d800 71.5deg,#e6f500 80deg,#f7fb00 86deg,#f3fa00 93deg,#e0f400 95.5deg,#80d800 98deg,#41c800 99.5deg,#1abe00 103deg,#15bd00 107.5deg,#29c200 113deg,#5ecf00 117.5deg,#a3e400 121.5deg,#f5fa00 124deg,#feff00 124.5deg,#ffc400 130deg,#ffa900 137.5deg,#fa0 148deg,#ffb100 152deg)"></i>
<i style="width:90px;height:90px;left:-45px;top:-45px;background:conic-gradient(#55cd00 28deg,#55cd00 30deg,#83d900 33.5deg,#95df00 39.5deg,#86da00 42.5deg,#47ca00 49deg,#52cc00 63deg,#8edd00 72.5deg,#e1f400 80deg,#f3f900 86deg,#eef700 92.5deg,#d5f100 95.5deg,#7cd700 98deg,#40c800 99.5deg,#1abf00 103deg,#16bd00 107.5deg,#28c200 112.5deg,#5bcf00 117deg,#a7e500 121.5deg,#f7fb00 124deg,#fff700 125deg,#ffc200 130deg,#ffa800 137.5deg,#ffa600 148deg,#ffad00 152deg)"></i>
<i style="width:86px;height:86px;left:-43px;top:-43px;background:conic-gradient(#57ce00 28deg,#57ce00 30deg,#84d900 33.5deg,#94df00 39.5deg,#86da00 42.5deg,#4aca00 49deg,#56ce00 62.5deg,#95df00 73deg,#ddf300 80deg,#edf700 87.5deg,#e3f500 92.5deg,#c9ee00 95.5deg,#77d600 98deg,#40c800 99.5deg,#18be00 103.5deg,#1bbf00 109.5deg,#33c500 113.5deg,#79d600 118.5deg,#ace700 121.5deg,#eff800 123.5deg,#fffc00 124.5deg,#ffc000 130deg,#ffa600 138deg,#ffa400 148.5deg,#ffa800 152deg)"></i>
<i style="width:82px;height:82px;left:-41px;top:-41px;background:conic-gradient(#5ace00 28deg,#5ace00 30deg,#84d900 33.5deg,#94df00 39.5deg,#86da00 42.5deg,#4ccb00 49deg,#59ce00 61.5deg,#98e000 73deg,#d9f200 80deg,#e4f500 88deg,#d5f100 93deg,#beec00 95.5deg,#73d500 98deg,#3fc800 99.5deg,#18be00 103.5deg,#1bbf00 109deg,#31c400 113deg,#76d500 118deg,#b1e800 121.5deg,#f2f900 123.5deg,#fffa00 124.5deg,#ffbe00 130deg,#ffa500 138deg,#ffa100 149deg,#ffa200 152deg)"></i>
<i style="width:78px;height:78px;left:-39px;top:-39px;background:conic-gradient(#5ccf00 28deg,#5ccf00 30deg,#84d900 33.5deg,#94df00 40deg,#7cd700 43.5deg,#4dcb00 49.5deg,#62d100 62.5deg,#a3e400 74deg,#d4f100 80deg,#dbf300 89deg,#c7ee00 93.5deg,#a9e600 96deg,#6ed400 98deg,#3fc800 99.5deg,#19be00 103.5deg,#1cbf00 109deg,#33c500 113deg,#7bd700 118deg,#aae600 121deg,#ff0 124deg,#ffbf00 129.5deg,#ffa500 137deg,#ff9d00 149.5deg,#ff9e00 152deg)"></i>
<i style="width:74px;height:74px;left:-37px;top:-37px;background:conic-gradient(#5ed000 28deg,#5ed000 30deg,#85da00 33.5deg,#93de00 40deg,#7dd700 43.5deg,#4fcc00 49.5deg,#66d200 62deg,#a8e500 74.5deg,#d2f000 80.5deg,#cff000 90.5deg,#a9e600 95.5deg,#7bd700 97.5deg,#3ec800 99.5deg,#17be00 104deg,#22c100 110.5deg,#48ca00 114.5deg,#afe800 121deg,#f8fc00 123.5deg,#fff600 124.5deg,#ffba00 130deg,#ffa200 138.5deg,#ff9a00 152deg)"></i>
<i style="width:70px;height:70px;left:-35px;top:-35px;background:conic-gradient(#61d000 28deg,#61d000 30deg,#85da00 33.5deg,#93de00 40deg,#79d600 44deg,#51cc00 49.5deg,#68d200 61deg,#b0e800 75.5deg,#ceef00 81deg,#c3ed00 91deg,#99e000 96deg,#65d100 98deg,#3ec700 99.5deg,#18be00 104deg,#21c000 110deg,#44c900 114deg,#b5e900 121deg,#fbfd00 123.5deg,#ffb800 130deg,#ffa000 139deg,#ff9500 152deg)"></i>
<i style="width:66px;height:66px;left:-33px;top:-33px;background:conic-gradient(#63d100 28deg,#63d100 30deg,#85da00 33.5deg,#92de00 40.5deg,#54cd00 49.5deg,#6bd300 60deg,#baeb00 77deg,#c9ee00 82deg,#b6e900 91.5deg,#90dd00 96deg,#3dc700 99.5deg,#18be00 104deg,#23c100 110deg,#40c800 113.5deg,#bbeb00 121deg,#fdfe00 123.5deg,#ffba00 129.5deg,#ffa000 138deg,#ff9100 152deg)"></i>
<i style="width:62px;height:62px;left:-31px;top:-31px;background:conic-gradient(#66d100 28deg,#66d100 30deg,#86da00 33.5deg,#91de00 40.5deg,#56ce00 49.5deg,#6bd300 58.5deg,#c4ed00 80.5deg,#ade700 91.5deg,#88db00 96deg,#3dc700 99.5deg,#19be00 104deg,#24c100 110deg,#43c900 113.5deg,#c1ec00 121deg,#f7fb00 123deg,#fffe00 123.5deg,#ffb800 129.5deg,#ff9f00 138deg,#ff8d00 152deg)"></i>
<i style="width:58px;height:58px;left:-29px;top:-29px;background:conic-gradient(#68d200 28deg,#6ed400 30.5deg,#8adb00 34.5deg,#90dd00 41deg,#58ce00 49.5deg,#6cd300 57.5deg,#b9ea00 77.5deg,#bbeb00 83deg,#a2e300 92deg,#80d800 96deg,#3cc700 99.5deg,#18be00 104.5deg,#28c200 110.5deg,#4dcb00 114deg,#bbeb00 120.5deg,#fafd00 123deg,#ffb300 130deg,#ff9b00 140.5deg,#ff8900 152deg)"></i>
<i style="width:54px;height:54px;left:-27px;top:-27px;background:conic-gradient(#6ad300 28deg,#70d400 30.5deg,#8adb00 34.5deg,#8fdd00 41deg,#5bcf00 49.5deg,#6ed300 57deg,#a8e500 71.5deg,#b9ea00 81.5deg,#9ae100 92deg,#75d500 96deg,#37c600 100deg,#18be00 104.5deg,#29c200 110.5deg,#51cc00 114deg,#c1ec00 120.5deg,#fdfe00 123deg,#ffb400 129.5deg,#ff9d00 138.5deg,#ff8400 152deg)"></i>
<i style="width:50px;height:50px;left:-25px;top:-25px;background:conic-gradient(#6dd300 28deg,#72d500 30.5deg,#8cdc00 35deg,#8ddc00 41.5deg,#5dcf00 49.5deg,#70d400 56.5deg,#abe600 71deg,#b4e900 81.5deg,#91de00 92deg,#63d100 96.5deg,#33c500 100.5deg,#18be00 105deg,#2ec400 111deg,#5ccf00 114.5deg,#c7ee00 120.5deg,#f7fb00 122.5deg,#fff700 123.5deg,#ffb200 129.5deg,#ff9c00 138.5deg,#ff8000 152deg)"></i>
<i style="width:46px;height:46px;left:-23px;top:-23px;background:conic-gradient(#6dd300 28deg,#72d500 30.5deg,#8cdc00 35deg,#8ddc00 41.5deg,#5dcf00 49.5deg,#70d400 56.5deg,#abe600 71deg,#b4e900 81.5deg,#91de00 92deg,#63d100 96.5deg,#33c500 100.5deg,#18be00 105deg,#2ec400 111deg,#5ccf00 114.5deg,#c7ee00 120.5deg,#f7fb00 122.5deg,#fff700 123.5deg,#ffb200 129.5deg,#ff9c00 138.5deg,#ff8000 152deg)"></i>
<i style="width:42px;height:42px;left:-21px;top:-21px;background:conic-gradient(#6dd300 28deg,#72d500 30.5deg,#8cdc00 35deg,#8ddc00 41.5deg,#5dcf00 49.5deg,#70d400 56.5deg,#abe600 71deg,#b4e900 81.5deg,#91de00 92deg,#63d100 96.5deg,#33c500 100.5deg,#18be00 105deg,#2ec400 111deg,#5ccf00 114.5deg,#c7ee00 120.5deg,#f7fb00 122.5deg,#fff700 123.5deg,#ffb200 129.5deg,#ff9c00 138.5deg,#ff8000 152deg)"></i>
<i style="width:38px;height:38px;left:-19px;top:-19px;background:conic-gradient(#6dd300 28deg,#72d500 30.5deg,#8cdc00 35deg,#8ddc00 41.5deg,#5dcf00 49.5deg,#70d400 56.5deg,#abe600 71deg,#b4e900 81.5deg,#91de00 92deg,#63d100 96.5deg,#33c500 100.5deg,#18be00 105deg,#2ec400 111deg,#5ccf00 114.5deg,#c7ee00 120.5deg,#f7fb00 122.5deg,#fff700 123.5deg,#ffb200 129.5deg,#ff9c00 138.5deg,#ff8000 152deg)"></i>
<i style="width:34px;height:34px;left:-17px;top:-17px;background:conic-gradient(#6dd300 28deg,#72d500 30.5deg,#8cdc00 35deg,#8ddc00 41.5deg,#5dcf00 49.5deg,#70d400 56.5deg,#abe600 71deg,#b4e900 81.5deg,#91de00 92deg,#63d100 96.5deg,#33c500 100.5deg,#18be00 105deg,#2ec400 111deg,#5ccf00 114.5deg,#c7ee00 120.5deg,#f7fb00 122.5deg,#fff700 123.5deg,#ffb200 129.5deg,#ff9c00 138.5deg,#ff8000 152deg)"></i>
<i style="width:30px;height:30px;left:-15px;top:-15px;background:conic-gradient(#6dd300 28deg,#72d500 30.5deg,#8cdc00 35deg,#8ddc00 41.5deg,#5dcf00 49.5deg,#70d400 56.5deg,#abe600 71deg,#b4e900 81.5deg,#91de00 92deg,#63d100 96.5deg,#33c500 100.5deg,#18be00 105deg,#2ec400 111deg,#5ccf00 114.5deg,#c7ee00 120.5deg,#f7fb00 122.5deg,#fff700 123.5deg,#ffb200 129.5deg,#ff9c00 138.5deg,#ff8000 152deg)"></i>
<i style="width:26px;height:26px;left:-13px;top:-13px;background:conic-gradient(#6dd300 28deg,#72d500 30.5deg,#8cdc00 35deg,#8ddc00 41.5deg,#5dcf00 49.5deg,#70d400 56.5deg,#abe600 71deg,#b4e900 81.5deg,#91de00 92deg,#63d100 96.5deg,#33c500 100.5deg,#18be00 105deg,#2ec400 111deg,#5ccf00 114.5deg,#c7ee00 120.5deg,#f7fb00 122.5deg,#fff700 123.5deg,#ffb200 129.5deg,#ff9c00 138.5deg,#ff8000 152deg)"></i>
<i style="width:22px;height:22px;left:-11px;top:-11px;background:conic-gradient(#6dd300 28deg,#72d500 30.5deg,#8cdc00 35deg,#8ddc00 41.5deg,#5dcf00 49.5deg,#70d400 56.5deg,#abe600 71deg,#b4e900 81.5deg,#91de00 92deg,#63d100 96.5deg,#33c500 100.5deg,#18be00 105deg,#2ec400 111deg,#5ccf00 114.5deg,#c7ee00 120.5deg,#f7fb00 122.5deg,#fff700 123.5deg,#ffb200 129.5deg,#ff9c00 138.5deg,#ff8000 152deg)"></i>
</div></div>
<div id="r" class="c" style="left:785.0px;top:121.0px;width:131.0px;height:382.5px">
<i style="height:2px;background:linear-gradient(90deg,#ffc600 1.5px,#ffd300 9.5px,#ffed00 13.5px,#fdfe00 15px,#e4f500 16px,#7dd700 18.5px,#02b900 21px,#00df9b 24.5px,#00f5d7 27px,#00fefa 28.5px,#17f4ff 29px,#40e0ff 29.5px,#40b2ff 34px,#4097ff 41px,#4081ff 49.5px,#409bff 51.5px,#40d7ff 53.5px,#18f4ff 54px,#00fcf1 54.5px,#0eb 56px,#00df9b 57.5px,#00bb0c 61px,#09ba00 61.5px,#76d600 64.5px,#f4fa00 70.5px,#fff900 72px,#f90 83.5px,#ef4e00 98px,#eb4a00 106.5px,#f66200 122.5px,#f66400 129.5px)"></i>
<i style="height:2px;background:linear-gradient(90deg,#ffc600 1.5px,#ffd300 9.5px,#ffec00 13.5px,#ff0 15px,#e8f600 16px,#80d800 18.5px,#02b800 21px,#00df9c 24.5px,#00f6d8 27px,#00fefb 28.5px,#40dfff 29.5px,#40b2ff 34px,#4093ff 41.5px,#4081ff 49.5px,#40a3ff 52px,#40ddff 54px,#00fffe 54.5px,#00edbb 56.5px,#00e09f 58px,#00ba0a 61.5px,#23c100 62.5px,#7ed700 65px,#f2f900 70.5px,#fffb00 72px,#ff9700 84px,#ee4d00 98.5px,#ec4a00 107px,#f66200 122.5px,#f66400 129.5px)"></i>
<i style="height:2px;background:linear-gradient(90deg,#ffc600 1.5px,#ffd200 9px,#ffec00 13.5px,#fffe00 15px,#ecf700 16px,#82d900 18.5px,#02b800 21px,#00e09e 24.5px,#00f2ca 26.5px,#00fefc 28.5px,#40deff 29.5px,#40afff 34.5px,#408bff 43.5px,#4081ff 49.5px,#40a0ff 52px,#3de2ff 54.5px,#00fefb 55px,#00eebc 57px,#00e1a3 58.5px,#00d268 60px,#00b903 62px,#65d100 64.5px,#9be100 66.5px,#f5fa00 71px,#fff800 72.5px,#ff9400 84.5px,#ee4d00 98.5px,#ec4a00 107px,#f66200 122.5px,#f66400 129.5px)"></i>
<i style="height:2px;background:linear-gradient(90deg,#ffc600 1.5px,#ffd200 9px,#fff100 14px,#f9fc00 15.5px,#ddf300 16.5px,#69d200 19px,#02b800 21px,#00e0a0 24.5px,#00f3cc 26.5px,#00fffd 28.5px,#40deff 29.5px,#40afff 34.5px,#4088ff 43.5px,#407fff 49px,#4096ff 51.5px,#40d6ff 54.5px,#36e5ff 55px,#00fefc 55.5px,#00efbf 57.5px,#00df9b 59.5px,#00bd12 62px,#09ba00 62.5px,#6ed400 65px,#abe600 67.5px,#f3f900 71px,#fffa00 72.5px,#ff9200 85px,#ee4d00 98.5px,#ec4a00 107px,#f66200 122.5px,#f66400 129.5px)"></i>
<i style="height:2px;background:linear-gradient(90deg,#ffc600 1.5px,#ffd200 9px,#fff000 14px,#fbfd00 15.5px,#e1f400 16.5px,#6bd300 19px,#02b800 21px,#00e1a1 24.5px,#00f3ce 26.5px,#0ff 28.5px,#29ebff 29px,#40ddff 29.5px,#40acff 35px,#4081ff 45px,#4081ff 49.5px,#40a4ff 52.5px,#3fe1ff 55.5px,#0ff 56px,#00eebc 58.5px,#00e09e 60px,#00b904 62.5px,#78d600 65.5px,#f0f800 71px,#fffc00 72.5px,#ff8c00 86px,#ee4d00 98.5px,#ec4a00 107px,#f66200 122.5px,#f66400 129.5px)"></i>
<i style="height:2px;background:linear-gradient(90deg,#ffc600 1.5px,#ffd200 9px,#fff500 14.5px,#fdfe00 15.5px,#e5f500 16.5px,#6dd300 19px,#02b800 21px,#00e1a2 24.5px,#00f0bf 26px,#00fdf6 28px,#03fdff 28.5px,#2ee9ff 29px,#40dcff 29.5px,#40a5ff 36px,#407dff 45.5px,#4082ff 49.5px,#40a8ff 53px,#40dcff 56px,#00fefa 57px,#00df9a 60.5px,#00bc11 62.5px,#0bbb00 63px,#81d800 66px,#f4fa00 71.5px,#fffa00 73px,#ff8900 86.5px,#ee4d00 98.5px,#ec4a00 107px,#f66200 122.5px,#f66400 129.5px)"></i>
<i style="height:2px;background:linear-gradient(90deg,#ffc600 1.5px,#ffd300 9px,#fff400 14.5px,#ff0 15.5px,#e9f600 16.5px,#70d400 19px,#19be00 20.5px,#01b800 21px,#00e1a3 24.5px,#00f0c1 26px,#00fbed 27.5px,#08fbff 28.5px,#32e7ff 29px,#40dcff 29.5px,#40a0ff 36.5px,#407bff 45.5px,#4082ff 49.5px,#40aaff 53.5px,#40ddff 57px,#00fefa 58px,#00e5a9 60.5px,#00dc8e 61px,#00c01e 62.5px,#00b800 63px,#7bd700 66px,#f1f900 71.5px,#fffc00 73px,#ff8a00 86.5px,#ee4d00 98.5px,#ec4a00 107px,#f66200 122.5px,#f66400 129.5px)"></i>
<i style="height:2px;background:linear-gradient(90deg,#ffc600 1.5px,#ffd300 9px,#fff300 14.5px,#f8fc00 16px,#d6f200 17px,#72d400 19px,#1abe00 20.5px,#02b800 21px,#00e2a3 24.5px,#00f0c2 26px,#00fbee 27.5px,#00fdf8 28px,#0cf9ff 28.5px,#35e5ff 29px,#40dcff 29.5px,#409aff 37.5px,#4078ff 45.5px,#4081ff 49.5px,#40b1ff 54.5px,#40dfff 58px,#0ff8ff 58.5px,#00fcf4 59px,#00e0a1 61px,#00c32c 62.5px,#00bb0c 63px,#0dbb00 63.5px,#73d500 66px,#c6ed00 69.5px,#fbfd00 72.5px,#ff8400 87.5px,#ed4c00 99px,#ed4c00 107.5px,#f66200 122px,#f66400 129.5px)"></i>
<i style="height:2px;background:linear-gradient(90deg,#ffc700 1.5px,#ffd300 9px,#fff200 14.5px,#fffe00 15.5px,#ecf700 16.5px,#73d500 19px,#1cbf00 20.5px,#04b900 21px,#00e1a2 24.5px,#00f0c0 26px,#00fbed 27.5px,#08fbff 28.5px,#32e7ff 29px,#40dcff 29.5px,#409aff 37.5px,#4077ff 45.5px,#407fff 49.5px,#40adff 54.5px,#40dcff 58px,#00fdf7 59px,#00e3a5 61px,#00bf1c 63px,#00b903 63.5px,#79d600 66.5px,#e0f400 71px,#feff00 73px,#f80 87px,#ef4e00 99px,#ef4e00 108px,#f56100 121.5px,#f66300 129.5px)"></i>
<i style="height:2px;background:linear-gradient(90deg,#ffc800 1.5px,#ffd500 9.5px,#fff200 14.5px,#fffe00 15.5px,#ecf700 16.5px,#74d500 19px,#06b900 21px,#00ce59 23px,#00e1a1 24.5px,#00f0bf 26px,#00fdf7 28px,#05fdff 28.5px,#2fe8ff 29px,#40dcff 29.5px,#409aff 37.5px,#4075ff 45.5px,#407cff 49.5px,#40b1ff 55px,#40daff 58px,#2beaff 58.5px,#00fefa 59px,#00dc90 61.5px,#00c32c 63px,#05b900 64px,#80d800 67px,#f0f800 72px,#fffd00 73.5px,#ff8900 87px,#f04f00 99.5px,#f15200 109px,#f56100 122px,#f56200 129.5px)"></i>
<i style="height:2px;background:linear-gradient(90deg,#ffc900 1.5px,#ffd500 9.5px,#fff100 14.5px,#fffd00 15.5px,#ebf700 16.5px,#75d500 19px,#08ba00 21px,#00c227 22px,#00e0a0 24.5px,#00f4cf 26.5px,#01feff 28.5px,#2beaff 29px,#40ddff 29.5px,#4099ff 37.5px,#4073ff 45.5px,#407aff 49.5px,#40aeff 55px,#40d8ff 58px,#39e3ff 58.5px,#00fffd 59px,#00e7ae 61px,#00df9c 61.5px,#00c73c 63px,#00bb0b 64px,#0cbb00 64.5px,#87da00 67.5px,#ecf700 72px,#ff0 73.5px,#ff8a00 87px,#f15200 99.5px,#f15400 108.5px,#f56100 121.5px,#f56000 129.5px)"></i>
<i style="height:2px;background:linear-gradient(90deg,#ffca00 1.5px,#ffd700 10px,#fff000 14.5px,#fffd00 15.5px,#ebf700 16.5px,#77d600 19px,#0aba00 21px,#00bb0d 21.5px,#00e09e 24.5px,#00f3cd 26.5px,#0ff 28.5px,#28ebff 29px,#40ddff 29.5px,#4099ff 37.5px,#4071ff 45.5px,#4077ff 49.5px,#40b1ff 55.5px,#40dfff 58.5px,#07fcff 59px,#00f7db 60px,#00f0c1 60.5px,#00e2a4 61.5px,#00c432 63.5px,#00b902 64.5px,#80d800 67.5px,#def400 71.5px,#fdfe00 73.5px,#f80 87.5px,#f15400 100px,#f25700 109px,#f56000 122px,#f55f00 129.5px)"></i>
<i style="height:2px;background:linear-gradient(90deg,#ffca00 1.5px,#ffd700 10px,#fff000 14.5px,#fffd00 15.5px,#ebf700 16.5px,#78d600 19px,#0bbb00 21px,#00bb0b 21.5px,#00df9c 24.5px,#00f3cc 26.5px,#00fffe 28.5px,#25edff 29px,#40deff 29.5px,#4099ff 37.5px,#4070ff 45.5px,#4075ff 49.5px,#40afff 55.5px,#40dcff 58.5px,#15f5ff 59px,#00fcf4 59.5px,#00ecb7 61px,#00de96 62px,#00c229 64px,#07ba00 65px,#89db00 68px,#eef700 72.5px,#fffe00 74px,#ff8900 87.5px,#f25700 100px,#f35a00 109.5px,#f55f00 123.5px,#f55e00 129.5px)"></i>
<i style="height:2px;background:linear-gradient(90deg,#ffcb00 1.5px,#ffd900 10.5px,#ffef00 14.5px,#fffd00 15.5px,#ebf700 16.5px,#79d600 19px,#0dbb00 21px,#00ba09 21.5px,#00de9a 24.5px,#00fffd 28.5px,#40deff 29.5px,#4098ff 37.5px,#406eff 45.5px,#4072ff 49.5px,#40acff 55.5px,#40daff 58.5px,#00fdf8 59.5px,#00eebc 61px,#00e1a2 62px,#00ba07 65px,#3dc700 66.5px,#83d900 68px,#d7f200 71.5px,#fefe00 74px,#ff8a00 87.5px,#f35a00 100px,#f45e00 110.5px,#f45d00 129.5px)"></i>
<i style="height:2px;background:linear-gradient(90deg,#fc0 1.5px,#ffdb00 11px,#ffef00 14.5px,#fffd00 15.5px,#ebf700 16.5px,#7ad700 19px,#0fbc00 21px,#00ba07 21.5px,#00de98 24.5px,#00fefc 28.5px,#40dfff 29.5px,#4098ff 37.5px,#406cff 45.5px,#4070ff 49.5px,#40a9ff 55.5px,#40d8ff 58.5px,#33e6ff 59px,#00fefb 59.5px,#00f0c1 61px,#00de98 62.5px,#03b900 65.5px,#7cd700 68px,#b2e800 70px,#f5fa00 73.5px,#fff900 75px,#ff8b00 87.5px,#f45c00 100px,#f55f00 121.5px,#f45c00 129.5px)"></i>
<i style="height:2px;background:linear-gradient(90deg,#ffce00 1.5px,#ffdc00 11px,#fff100 14.5px,#ff0 15.5px,#e6f600 16.5px,#79d600 19px,#10bc00 21px,#00ba06 21.5px,#00de96 24.5px,#00fefc 28.5px,#40dfff 29.5px,#4098ff 37.5px,#406bff 45.5px,#406dff 49.5px,#40a4ff 55.5px,#40ddff 59px,#10f7ff 59.5px,#00fcf3 60px,#0eb 61.5px,#00e2a3 62.5px,#00ba0a 65.5px,#0ebb00 66px,#87da00 68.5px,#e8f600 73px,#fffc00 75px,#ff8e00 87.5px,#f56000 100px,#f55e00 121.5px,#f35b00 129.5px)"></i>
<i style="height:2px;background:linear-gradient(90deg,#ffd300 1.5px,#ffe000 11px,#fdfe00 15px,#d6f100 16.5px,#71d400 19px,#0fbc00 21px,#00ba07 21.5px,#00de97 24.5px,#00fffd 28.5px,#40deff 29.5px,#4097ff 37.5px,#4069ff 46px,#406eff 50px,#40afff 57px,#40dbff 59.5px,#19f3ff 60px,#00fcf3 60.5px,#00ebb7 62px,#00de99 63px,#01b800 66px,#79d600 68.5px,#b1e800 71px,#f9fc00 75px,#fff600 76.5px,#ff9100 88px,#f66300 100px,#f35b00 123px,#f35900 129.5px)"></i>
<i style="height:2px;background:linear-gradient(90deg,#ffd800 1.5px,#ffe500 11px,#fbfd00 14.5px,#c5ed00 16.5px,#80d800 18.5px,#0dbb00 21px,#00ba08 21.5px,#00de97 24.5px,#00fffe 28.5px,#27ecff 29px,#40ddff 29.5px,#4097ff 37.5px,#4068ff 46px,#406eff 50.5px,#40abff 57.5px,#40d9ff 60px,#1ef0ff 60.5px,#00fcf3 61px,#00efbe 62px,#00e2a3 63px,#00bb0b 66px,#0dbb00 66.5px,#7bd700 69px,#f6fb00 75.5px,#fff900 77px,#ff9500 88.5px,#f76700 100px,#f25700 129.5px)"></i>
<i style="height:2px;background:linear-gradient(90deg,#ffdc00 1.5px,#ffea00 11px,#f9fc00 14px,#98e000 17.5px,#60d000 19px,#0bbb00 21px,#00ba09 21.5px,#00de98 24.5px,#0ff 28.5px,#2beaff 29px,#40ddff 29.5px,#4096ff 37.5px,#4067ff 46px,#406bff 50.5px,#40a0ff 57.5px,#40d7ff 60.5px,#1df1ff 61px,#00faeb 61.5px,#00f3cb 62px,#00de98 63.5px,#00be17 66px,#00b800 66.5px,#6ad300 69px,#98e000 71px,#f8fc00 76.5px,#fff300 78.5px,#ff9800 89px,#f86b00 99.5px,#f25500 129.5px)"></i>
<i style="height:2px;background:linear-gradient(90deg,#ffe100 1.5px,#fe0 11px,#fffd00 13px,#dff400 14.5px,#6cd300 18.5px,#0aba00 21px,#00bb0a 21.5px,#00de98 24.5px,#00fdf6 28px,#03fdff 28.5px,#30e8ff 29px,#40dcff 29.5px,#4095ff 37.5px,#4065ff 46.5px,#406aff 51px,#409dff 58px,#40c9ff 60.5px,#40d7ff 61px,#00fefc 61.5px,#00efbd 62.5px,#00e1a2 63.5px,#00bb0c 66.5px,#0abb00 67px,#59ce00 69px,#8bdc00 71px,#fafd00 77.5px,#fff600 79px,#ff9b00 89.5px,#fa6f00 99.5px,#f15300 129.5px)"></i>
<i style="height:2px;background:linear-gradient(90deg,#ffe600 1.5px,#fff300 11px,#f9fc00 13px,#a5e400 16px,#73d500 18px,#08ba00 21px,#00c020 22px,#00de99 24.5px,#00f3cd 26.5px,#00fdf7 28px,#08fbff 28.5px,#34e6ff 29px,#40dbff 29.5px,#4095ff 37.5px,#4065ff 46.5px,#4068ff 51.5px,#409bff 58.5px,#40c8ff 61px,#40dfff 61.5px,#00faea 62px,#00f2c8 62.5px,#00de96 64px,#00be19 66.5px,#00b903 67px,#58ce00 69.5px,#87da00 71.5px,#f6fb00 78px,#fff900 79.5px,#ff9b00 90.5px,#fb7200 99.5px,#f05100 129.5px)"></i>
<i style="height:2px;background:linear-gradient(90deg,#ffeb00 1.5px,#fff800 11px,#fbfd00 12.5px,#e0f400 13.5px,#ade700 15px,#67d200 18px,#07ba00 21px,#00c021 22px,#00de99 24.5px,#00f3ce 26.5px,#00fdf8 28px,#0cf9ff 28.5px,#38e4ff 29px,#40d4ff 30px,#4091ff 38px,#4063ff 47px,#4068ff 52.5px,#4093ff 58.5px,#40bbff 61px,#40d1ff 61.5px,#00fef9 62px,#00eebd 63px,#00e1a1 64px,#00c125 66.5px,#05b900 67.5px,#54cd00 70px,#8bdc00 72.5px,#f7fb00 79px,#fff800 80.5px,#ff9600 92px,#fb7400 100px,#ef4f00 128px,#ef4f00 129.5px)"></i>
<i style="height:2px;background:linear-gradient(90deg,#ffef00 1.5px,#fffc00 11px,#f5fa00 12.5px,#abe600 14.5px,#4dcb00 18.5px,#05b900 21px,#00c021 22px,#00de9a 24.5px,#00f4d0 26.5px,#00fdf9 28px,#11f7ff 28.5px,#3de2ff 29px,#40aeff 34px,#4069ff 45px,#4060ff 51px,#407eff 57px,#40a3ff 60.5px,#40aeff 61px,#40c3ff 61.5px,#2ee9ff 62px,#00f9e4 62.5px,#00f1c6 63px,#00dd94 64.5px,#00c432 66.5px,#00ba09 67.5px,#19be00 68.5px,#7ed700 72.5px,#f9fc00 80px,#fff600 81.5px,#ff8e00 94px,#f96d00 105.5px,#ee4e00 127px,#ee4e00 129.5px)"></i>
<i style="height:2px;background:linear-gradient(90deg,#fff500 1.5px,#fafd00 11px,#f4fa00 12px,#d6f200 13px,#9de200 14.5px,#00b903 21px,#00cd54 23px,#00e09e 24.5px,#00f0c0 26px,#00fcf0 27.5px,#00fefb 28px,#40dfff 29px,#409fff 35.5px,#4062ff 46.5px,#405eff 52px,#4081ff 58px,#40a4ff 61px,#40d8ff 62px,#00fcf1 62.5px,#00edbb 63.5px,#00e0a0 64.5px,#00c83f 66.5px,#00ba07 68px,#25c100 69.5px,#88db00 74px,#fafc00 81px,#fff500 82.5px,#ff9000 94.5px,#f76700 110.5px,#ee4d00 126px,#ee4d00 129.5px)"></i>
<i style="height:2px;background:linear-gradient(90deg,#fffb00 1.5px,#f7fb00 8.5px,#def400 12px,#8edd00 14.5px,#03b900 20px,#00c32b 21.5px,#00e3a7 24.5px,#00f2ca 26px,#00fdf7 27.5px,#0cf9ff 28px,#39e3ff 28.5px,#40c8ff 30.5px,#4089ff 38.5px,#405cff 47.5px,#405eff 52.5px,#4084ff 58.5px,#40a2ff 61px,#40d2ff 62px,#00fdf8 62.5px,#00efbe 63.5px,#00dc91 65px,#00c73b 67px,#03b900 69px,#7dd700 74.5px,#e2f400 80.5px,#ff0 82.5px,#ff9700 94.5px,#f15300 119.5px,#ee4d00 129.5px)"></i>
<i style="height:2px;background:linear-gradient(90deg,#fbfd00 1.5px,#f0f800 7.5px,#c6ed00 12px,#08ba00 19px,#00bd13 20px,#00d268 22.5px,#00e2a4 24px,#00f0c2 25.5px,#00fffe 27.5px,#2beaff 28px,#40dcff 28.5px,#409cff 35px,#405cff 46.5px,#405aff 52px,#407fff 58px,#40a0ff 61px,#40ccff 62px,#04fdff 62.5px,#00f0c2 63.5px,#00df9b 65px,#00c73b 67.5px,#00b904 69.5px,#92de00 77px,#d7f200 81px,#ff0 83.5px,#ff9d00 95px,#f05100 121px,#ef4e00 129.5px)"></i>
<i style="height:2px;background:linear-gradient(90deg,#f3f900 1.5px,#ebf700 5.5px,#b5e900 11.5px,#8bdc00 13.5px,#00b801 18.5px,#00d36b 22px,#00e2a3 23.5px,#00efbe 25px,#00fefa 27px,#40deff 28px,#409dff 34.5px,#4059ff 46.5px,#4058ff 52px,#4082ff 58.5px,#409eff 61px,#40c5ff 62px,#29ebff 62.5px,#00f9e5 63px,#00f2c8 63.5px,#00dc92 65.5px,#00c73e 68px,#00b802 70.5px,#97e000 78.5px,#f9fc00 84px,#fff400 85.5px,#ff9f00 96px,#f45e00 115.5px,#ef4f00 126.5px,#ef4f00 129.5px)"></i>
<i style="height:2px;background:linear-gradient(90deg,#e8f600 1.5px,#dff400 5px,#9be100 12px,#78d600 13.5px,#06b900 17.5px,#00c532 19.5px,#00e2a4 23px,#00f2ca 25px,#00fdf6 26.5px,#0ff8ff 27px,#40e0ff 27.5px,#40a1ff 33.5px,#4057ff 46px,#4054ff 51.5px,#407cff 58px,#409dff 61px,#40c0ff 62px,#40deff 62.5px,#00faeb 63px,#00eebc 64px,#00e09e 65.5px,#00cc50 68px,#00b903 71.5px,#e2f500 83.5px,#fffd00 85.5px,#ffab00 95.5px,#f76500 113.5px,#f05100 123px,#f05000 129.5px)"></i>
<i style="height:2px;background:linear-gradient(90deg,#daf300 1.5px,#d4f100 4.5px,#87da00 12px,#00b800 17px,#00e3a5 22.5px,#00f2c9 24.5px,#01ffff 26.5px,#34e6ff 27px,#40daff 27.5px,#4097ff 34.5px,#4052ff 46.5px,#4054ff 52px,#4085ff 59px,#40a7ff 61.5px,#40d8ff 62.5px,#00fcf1 63px,#00f0c0 64px,#00db8b 66.5px,#00c32c 70.5px,#03b900 73px,#f6fb00 85.5px,#fff700 87px,#ffac00 97px,#f76600 113.5px,#f15200 122px,#f05100 129.5px)"></i>
<i style="height:2px;background:linear-gradient(90deg,#cdef00 1.5px,#c6ed00 4.5px,#79d600 11.5px,#00b905 16.5px,#00e0a1 21.5px,#00f3cc 24px,#00fffe 26px,#2ceaff 26.5px,#40dcff 27px,#4098ff 34px,#4050ff 46px,#4050ff 51.5px,#407fff 58.5px,#40a3ff 61.5px,#40b5ff 62px,#40d1ff 62.5px,#00fdf7 63px,#00f2c7 64px,#00dc8e 67px,#00c125 72px,#00b802 74px,#64d100 79px,#f8fc00 86.5px,#fff600 88px,#ffa900 99px,#f76500 114px,#f15200 122px,#f05200 129.5px)"></i>
<i style="height:2px;background:linear-gradient(90deg,#c0ec00 1.5px,#bceb00 4px,#7bd700 10px,#1ec000 14.5px,#05b900 15.5px,#00c535 17.5px,#00e2a4 21px,#00f4d2 23.5px,#00fffe 25.5px,#2beaff 26px,#40dcff 26.5px,#4098ff 33.5px,#404dff 46px,#404eff 51.5px,#4082ff 59px,#40a0ff 61.5px,#40afff 62px,#40cbff 62.5px,#00fffd 63px,#00f4cf 64px,#00ecb8 65px,#00dd95 67.5px,#00c229 73px,#03b900 75.5px,#99e000 82.5px,#f9fc00 87.5px,#fff600 89px,#ff9700 103.5px,#f25500 119px,#f15300 129.5px)"></i>
<i style="height:2px;background:linear-gradient(90deg,#b1e800 1.5px,#aae600 4.5px,#79d600 9px,#02b900 15px,#00ce56 18px,#00df9b 20px,#00f2c7 22.5px,#0ff 25px,#2aebff 25.5px,#40ddff 26px,#4092ff 34px,#404aff 46px,#404cff 51.5px,#4081ff 59px,#409eff 61.5px,#40abff 62px,#40c6ff 62.5px,#18f3ff 63px,#00faeb 63.5px,#00efbd 65px,#00dd93 68.5px,#00b904 76px,#49ca00 79.5px,#97e000 83px,#f7fb00 88px,#fff500 90px,#ff9100 105.5px,#f15500 119.5px,#f15400 129.5px)"></i>
<i style="height:2px;background:linear-gradient(90deg,#a3e400 1.5px,#9de200 4.5px,#75d500 8.5px,#10bc00 14px,#00ba07 15px,#00d881 19px,#00e1a1 20px,#00f3cc 22.5px,#00fef9 24.5px,#0ff8ff 25px,#38e4ff 25.5px,#40d4ff 26.5px,#4090ff 34px,#404bff 45px,#4049ff 50.5px,#4077ff 58px,#409eff 61.5px,#40abff 62px,#3be2ff 63px,#00fcf4 63.5px,#00efbe 65.5px,#00de98 69px,#00b905 76px,#55cd00 80px,#95df00 83px,#f5fa00 88px,#fffa00 89.5px,#ff9500 105px,#f25600 119.5px,#f15500 129.5px)"></i>
<i style="height:2px;background:linear-gradient(90deg,#96df00 1.5px,#90dd00 4.5px,#68d200 8.5px,#1dbf00 13px,#00b904 14.5px,#00d679 18.5px,#00e3a5 20px,#00f4d1 22.5px,#00fefd 24.5px,#40dfff 25.5px,#4091ff 33.5px,#404cff 44px,#4048ff 50px,#4072ff 57.5px,#4096ff 61px,#40abff 62px,#40dbff 63px,#00fffe 63.5px,#00f0bf 66px,#00df9c 69.5px,#00b905 76px,#49ca00 79.5px,#94df00 83px,#f8fc00 88.5px,#fff400 90.5px,#ff9500 105.5px,#f25600 120px,#f25600 129.5px)"></i>
<i style="height:2px;background:linear-gradient(90deg,#88db00 1.5px,#80d800 5px,#41c800 10.5px,#00b802 14px,#00d061 17.5px,#00e1a1 19.5px,#00f2ca 22px,#04fdff 24.5px,#2ee9ff 25px,#40ddff 25.5px,#408eff 33.5px,#404bff 43.5px,#4048ff 50px,#4076ff 58px,#4096ff 61px,#40abff 62px,#40d5ff 63px,#27ecff 63.5px,#00fef9 64px,#00efbe 67px,#00e09f 70px,#00ba06 76px,#32c500 78.5px,#92de00 83px,#f6fb00 88.5px,#fffa00 90px,#ff9c00 104.5px,#f66300 116.5px,#f25700 122.5px,#f25700 129.5px)"></i>
<i style="height:2px;background:linear-gradient(90deg,#79d600 1.5px,#70d400 5px,#30c400 11px,#00b800 13.5px,#00cf5b 17px,#00e3a5 19.5px,#00f4cf 22px,#00fefb 24px,#15f5ff 24.5px,#3de2ff 25px,#4094ff 32.5px,#4049ff 43px,#4047ff 49.5px,#4071ff 57.5px,#408cff 60.5px,#40abff 62px,#40dcff 63.5px,#19f3ff 64px,#00fef9 64.5px,#00eebd 68px,#00e09f 70.5px,#00ba07 76px,#27c200 78px,#91de00 83px,#f4fa00 88.5px,#fffc00 90px,#ffa300 103.5px,#f76800 116px,#f25800 121.5px,#f25800 129.5px)"></i>
<i style="height:2px;background:linear-gradient(90deg,#67d200 1.5px,#60d000 5px,#27c200 11px,#03b900 13px,#00ca47 16px,#00e1a2 19px,#00f2c9 21.5px,#00fffe 24px,#40deff 25px,#408aff 33.5px,#4047ff 42.5px,#4046ff 49.5px,#4078ff 58.5px,#4094ff 61px,#40deff 64px,#00fefc 65px,#00eab4 69.5px,#00df9e 71px,#00ba07 76px,#1cbf00 77.5px,#8fdd00 83px,#f7fb00 89px,#fff900 90.5px,#ffa800 103px,#f96d00 115.5px,#f35900 121px,#f35900 129.5px)"></i>
<i style="height:2px;background:linear-gradient(90deg,#55cd00 1.5px,#4dcb00 5.5px,#1ebf00 11px,#00ba06 13px,#00d46e 17px,#00df9d 18.5px,#00f4cf 21.5px,#00fef9 23.5px,#0df9ff 24px,#35e5ff 24.5px,#40dcff 25px,#4083ff 34px,#4045ff 42px,#4045ff 49px,#4077ff 58.5px,#4089ff 60.5px,#40d5ff 64px,#40dcff 64.5px,#31e7ff 65px,#0cf9ff 65.5px,#00fefa 66px,#00de9a 71.5px,#00ba08 76px,#11bc00 77px,#8edd00 83px,#f5fa00 89px,#fffb00 90.5px,#ffac00 102.5px,#fa6f00 115.5px,#f35a00 121px,#f35a00 129.5px)"></i>
<i style="height:2px;background:linear-gradient(90deg,#43c900 1.5px,#38c600 6.5px,#15bd00 11px,#00b904 12.5px,#00d269 16.5px,#00e1a3 18.5px,#00f2c9 21px,#00fffd 23.5px,#40dfff 24.5px,#4077ff 35px,#4041ff 42px,#4046ff 49.5px,#4081ff 60px,#40c6ff 63.5px,#40ddff 65.5px,#31e7ff 66px,#10f7ff 66.5px,#00fefb 67px,#00e1a2 71.5px,#00ba08 76px,#11bc00 77px,#85da00 82.5px,#f8fc00 89.5px,#fff500 91.5px,#ffae00 102.5px,#fb7200 115.5px,#f35b00 120.5px,#f35b00 129.5px)"></i>
<i style="height:2px;background:linear-gradient(90deg,#36c600 1.5px,#2bc300 7px,#0ebb00 11px,#00b802 12px,#00cd54 15.5px,#00e09f 18px,#00f4cf 21px,#00fdf8 23px,#09fbff 23.5px,#30e8ff 24px,#40ddff 24.5px,#4068ff 36.5px,#4040ff 41.5px,#4046ff 49.5px,#407fff 60px,#40b9ff 63px,#40deff 66.5px,#2aeaff 67px,#03fdff 67.5px,#00f4d1 69.5px,#00ecb8 70.5px,#00df9b 72px,#00be1a 75.5px,#03b900 76.5px,#83d900 82.5px,#d6f100 87.5px,#fbfd00 90px,#ffab00 103.5px,#fb7400 115.5px,#f45c00 120.5px,#f45c00 129.5px)"></i>
<i style="height:2px;background:linear-gradient(90deg,#34c500 1.5px,#2ac300 7px,#0dbb00 11px,#00b904 12px,#00ce58 15.5px,#00e1a2 18px,#00f2c7 20.5px,#00fefc 23px,#19f3ff 23.5px,#40e0ff 24px,#407dff 34px,#4041ff 41.5px,#4045ff 49.5px,#407dff 60px,#40bdff 64px,#40dfff 67px,#1af2ff 67.5px,#00fefb 68px,#00edba 70.5px,#00e0a0 72px,#00c020 75.5px,#00b903 76.5px,#87da00 83px,#f8fc00 90px,#fff000 92.5px,#ffac00 103.5px,#fb7400 115.5px,#f45d00 120.5px,#f45d00 129.5px)"></i>
<i style="height:2px;background:linear-gradient(90deg,#32c500 1.5px,#29c200 7px,#0bbb00 11px,#00b905 12px,#00cf5c 15.5px,#00e2a5 18px,#00f3cc 20.5px,#02feff 23px,#29ebff 23.5px,#40ddff 24px,#407dff 34px,#4041ff 41.5px,#4047ff 50px,#4081ff 60.5px,#40bcff 64.5px,#40dbff 67px,#31e7ff 67.5px,#0ff 68px,#00eab4 71px,#00e1a2 72px,#00be17 76px,#05b900 77px,#84d900 83px,#e0f400 88.5px,#fffe00 91px,#ffb400 102px,#fb7200 116px,#f45e00 121px,#f45e00 129.5px)"></i>
<i style="height:2px;background:linear-gradient(90deg,#31c400 1.5px,#25c100 7.5px,#0aba00 11px,#00ba07 12px,#00d060 15.5px,#00e0a0 17.5px,#00f4d1 20.5px,#00fefa 22.5px,#13f6ff 23px,#3ae3ff 23.5px,#40c4ff 26px,#4044ff 41px,#4044ff 49.5px,#407fff 60.5px,#40dfff 67.5px,#14f5ff 68px,#00fdf7 68.5px,#00ebb6 71px,#00de97 72.5px,#00bf1d 76px,#00b801 77px,#81d800 83px,#dcf300 88.5px,#feff00 91px,#ffb300 102.5px,#fb7200 116px,#f55f00 121px,#f55f00 129.5px)"></i>
<i style="height:2px;background:linear-gradient(90deg,#2fc400 1.5px,#24c100 7.5px,#09ba00 11px,#00ba09 12px,#00d165 15.5px,#00e1a2 17.5px,#00f2ca 20px,#00fffe 22.5px,#40deff 23.5px,#408cff 32px,#4040ff 42px,#4045ff 50px,#407cff 60.5px,#40dbff 67.5px,#28ecff 68px,#00fefb 68.5px,#00f0c0 70.5px,#00df9c 72.5px,#00c122 76px,#00ba06 77px,#2ac300 79px,#8ddc00 84px,#f7fb00 90.5px,#fff500 92.5px,#ffac00 104px,#fa7000 116.5px,#f56000 121.5px,#f56000 129.5px)"></i>
<i style="height:2px;background:linear-gradient(90deg,#2dc300 1.5px,#20c000 8px,#07ba00 11px,#00bb0b 12px,#00d269 15.5px,#00e2a5 17.5px,#00f4cf 20px,#00fef9 22px,#0df9ff 22.5px,#34e6ff 23px,#40dcff 23.5px,#408bff 32px,#4041ff 42px,#4047ff 50.5px,#407aff 60.5px,#40c5ff 66.5px,#3ce2ff 68px,#0ff 68.5px,#00edba 71px,#00e0a1 72.5px,#00be1a 76.5px,#01b800 77.5px,#82d900 83.5px,#def300 89px,#ff0 91.5px,#ffb200 103px,#f86b00 117.5px,#f56100 123px,#f56100 129.5px)"></i>
<i style="height:2px;background:linear-gradient(90deg,#2bc300 1.5px,#1fc000 8px,#0dbb00 10.5px,#00b903 11.5px,#00cf5d 15px,#00e09f 17px,#00f2c7 19.5px,#00fefd 22px,#40dfff 23px,#4091ff 31px,#4041ff 42px,#4046ff 50.5px,#407cff 61px,#40b9ff 66px,#40ddff 68px,#11f7ff 68.5px,#00fdf5 69px,#00eebc 71px,#00dd95 73px,#00bc11 77px,#09ba00 78px,#87da00 84px,#f8fc00 91px,#fff500 93px,#ffa900 105px,#f86900 118px,#f66200 126.5px,#f66200 129.5px)"></i>
<i style="height:2px;background:linear-gradient(90deg,#29c200 1.5px,#1cbf00 8.5px,#00b905 11.5px,#00cd52 14.5px,#00e1a2 17px,#00f3cc 19.5px,#00fdf8 21.5px,#07fbff 22px,#30e8ff 22.5px,#40dcff 23px,#4090ff 31px,#4040ff 42.5px,#4045ff 50.5px,#407eff 61.5px,#40b4ff 66px,#40daff 68px,#00fdf8 69px,#00efbe 71px,#00df9b 73px,#00be17 77px,#04b900 78px,#84d900 84px,#dff400 89.5px,#fffe00 92px,#ffae00 104px,#f86a00 118px,#f66300 126.5px,#f66300 129.5px)"></i>
<i style="height:2px;background:linear-gradient(90deg,#27c200 1.5px,#1bbf00 8.5px,#00b905 11.5px,#00cd55 14.5px,#00e2a4 17px,#00f4d1 19.5px,#00fefb 21.5px,#18f3ff 22px,#40e0ff 22.5px,#4092ff 30.5px,#4040ff 42.5px,#4047ff 51px,#407fff 62px,#40b0ff 66px,#3ae3ff 68.5px,#00fffd 69px,#00f0c2 71px,#00e1a1 73px,#00bc0e 77.5px,#00b801 78px,#81d800 84px,#dcf300 89.5px,#feff00 92px,#ffad00 104.5px,#f86900 118.5px,#f66400 129.5px)"></i>
<i style="height:2px;background:linear-gradient(90deg,#26c200 1.5px,#19be00 9px,#00b905 11.5px,#00cd55 14.5px,#00e2a5 17px,#00f5d3 19.5px,#00fffe 21.5px,#25edff 22px,#40deff 22.5px,#4094ff 30px,#4040ff 42.5px,#4047ff 51px,#407eff 62px,#40acff 66px,#40dcff 68.5px,#19f3ff 69px,#00fdf7 69.5px,#00efbe 71.5px,#00e09f 73.5px,#00b905 78px,#87da00 84.5px,#f8fc00 91.5px,#fff400 93.5px,#ffa800 105.5px,#f86800 119px,#f76500 129.5px)"></i>
<i style="height:2px;background:linear-gradient(90deg,#25c100 1.5px,#17be00 9.5px,#00b904 11.5px,#00cd55 14.5px,#00e3a5 17px,#00f2c7 19px,#00fdf7 21px,#07fcff 21.5px,#32e7ff 22px,#40dbff 22.5px,#4096ff 29.5px,#4040ff 42.5px,#4047ff 51px,#407eff 62px,#40b1ff 66.5px,#3be2ff 69px,#00fffe 69.5px,#00eebc 72px,#00df9b 74px,#00ba09 78px,#13bd00 79px,#86da00 84.5px,#e1f400 90px,#fffd00 92.5px,#ffae00 104.5px,#f86900 119px,#f76600 129.5px)"></i>
<i style="height:2px;background:linear-gradient(90deg,#24c100 1.5px,#17be00 9.5px,#00b903 11.5px,#00cd55 14.5px,#00df9b 16.5px,#00f2ca 19px,#00fef9 21px,#13f6ff 21.5px,#3fe0ff 22px,#409eff 28px,#4042ff 42px,#4045ff 50.5px,#4081ff 62.5px,#40aeff 66.5px,#40dbff 69px,#00fef9 70px,#0eb 72.5px,#00de96 74.5px,#00bb0e 78px,#02b900 78.5px,#69d200 83px,#f6fb00 91.5px,#fffa00 93px,#ffac00 105px,#f76700 120.5px,#f76700 129.5px)"></i>
<i style="height:2px;background:linear-gradient(90deg,#23c100 1.5px,#18be00 9.5px,#00b902 11.5px,#00cd55 14.5px,#00df9c 16.5px,#00f3cc 19px,#00fefc 21px,#40deff 22px,#409cff 28px,#4041ff 42px,#4045ff 50.5px,#4080ff 62.5px,#40aaff 66.5px,#40dfff 69.5px,#0df9ff 70px,#00fdf6 70.5px,#00edba 73px,#00e1a2 74.5px,#00bc12 78px,#00b801 78.5px,#67d200 83px,#f5fa00 91.5px,#fffb00 93px,#ffac00 105px,#f86800 120.5px,#f86800 129.5px)"></i>
<i style="height:2px;background:linear-gradient(90deg,#22c000 1.5px,#15bd00 10px,#00b801 11.5px,#00cd55 14.5px,#00df9e 16.5px,#00f0bf 18.5px,#00fffe 21px,#2beaff 21.5px,#40dcff 22px,#409eff 27.5px,#4041ff 42px,#4045ff 50.5px,#4083ff 63px,#40aeff 67px,#40d9ff 69.5px,#35e5ff 70px,#0ff 70.5px,#00edba 73.5px,#00df9c 75px,#00be16 78px,#00b904 78.5px,#79d600 84px,#dcf300 90px,#feff00 92.5px,#ffad00 105px,#f86900 120.5px,#f86900 129.5px)"></i>
<i style="height:2px;background:linear-gradient(90deg,#20c000 1.5px,#15bd00 10px,#00b800 11.5px,#00c945 14px,#00e09f 16.5px,#00f0c1 18.5px,#00fdf6 20.5px,#06fcff 21px,#37e4ff 21.5px,#40d2ff 22.5px,#4099ff 28px,#4041ff 42px,#4045ff 50.5px,#4086ff 63.5px,#40b2ff 67.5px,#40dbff 70px,#2beaff 70.5px,#00fffe 71px,#00e2a4 75px,#00ba08 78.5px,#16be00 79.5px,#80d800 84.5px,#d1f000 89.5px,#fdfe00 92.5px,#ffa800 106px,#f86b00 120.5px,#f86a00 129.5px)"></i>
<i style="height:2px;background:linear-gradient(90deg,#1fc000 1.5px,#16bd00 10px,#00b800 11.5px,#00c944 14px,#00e0a0 16.5px,#00f1c3 18.5px,#00fdf8 20.5px,#12f6ff 21px,#40dfff 21.5px,#40a2ff 26.5px,#4042ff 41.5px,#4045ff 50.5px,#4088ff 64px,#40aeff 67.5px,#40dcff 70.5px,#29ebff 71px,#00fffe 71.5px,#00df9c 75.5px,#00c01f 78px,#06b900 79px,#62d100 83px,#f7fb00 92px,#fff900 93.5px,#ffab00 105.5px,#f96c00 120.5px,#f96b00 129.5px)"></i>
<i style="height:2px;background:linear-gradient(90deg,#1fc000 1.5px,#16be00 10px,#01b800 11.5px,#00c944 14px,#00e0a0 16.5px,#00f1c5 18.5px,#00fefa 20.5px,#19f3ff 21px,#40deff 21.5px,#40a1ff 26.5px,#4045ff 41.5px,#4043ff 49px,#4087ff 64px,#40b1ff 68px,#40ddff 71px,#2aebff 71.5px,#00fffe 72px,#00f3cb 74px,#00e2a4 75.5px,#00bd16 78.5px,#00b904 79px,#80d800 85px,#e2f500 91px,#fffd00 93.5px,#ffad00 105.5px,#f96e00 120.5px,#f96d00 129.5px)"></i>
<i style="height:2px;background:linear-gradient(90deg,#20c000 1.5px,#16bd00 10px,#00b800 11.5px,#00c945 14px,#00e0a1 16.5px,#00f1c5 18.5px,#00fefa 20.5px,#1af3ff 21px,#40deff 21.5px,#40a4ff 26.5px,#4051ff 41px,#4049ff 48px,#407aff 62px,#40a6ff 67.5px,#40deff 71.5px,#00fefc 72.5px,#00f5d5 74px,#00ebb7 75px,#00e0a0 76px,#00c430 78.5px,#00b904 80px,#8edd00 87px,#f5fa00 93.5px,#fffb00 95px,#fa0 107px,#fa7100 121px,#fa7000 129.5px)"></i>
<i style="height:2px;background:linear-gradient(90deg,#21c000 1.5px,#16bd00 10px,#00b800 11.5px,#00c945 14px,#00e0a1 16.5px,#00f1c5 18.5px,#00fefa 20.5px,#1af2ff 21px,#40deff 21.5px,#40a3ff 27px,#405bff 41px,#4051ff 48.5px,#407cff 62.5px,#40a2ff 67.5px,#40e0ff 72px,#16f4ff 72.5px,#00fef9 73px,#00eab4 75.5px,#00df9d 76.5px,#00ca4a 78.5px,#00b905 81px,#8edd00 88px,#f7fb00 95px,#fff900 96.5px,#fa0 108px,#fb7400 122px,#fb7300 129.5px)"></i>
<i style="height:2px;background:linear-gradient(90deg,#22c100 1.5px,#16bd00 10px,#00b800 11.5px,#00c946 14px,#00e0a1 16.5px,#00f1c5 18.5px,#00fefa 20.5px,#1af2ff 21px,#40dfff 21.5px,#40a7ff 27px,#4065ff 40.5px,#4059ff 49.5px,#407eff 63px,#40a5ff 68px,#3be3ff 72.5px,#0df9ff 73px,#00fdf7 73.5px,#00e9b2 76px,#00df9e 77px,#00cd54 79px,#00b906 82px,#56cd00 86px,#8ddc00 89px,#fafd00 96.5px,#fff200 98.5px,#ffad00 108.5px,#fc7700 122.5px,#fc7600 129.5px)"></i>
<i style="height:2px;background:linear-gradient(90deg,#23c100 1.5px,#16bd00 10px,#00b801 11.5px,#00ca46 14px,#00e0a1 16.5px,#00f1c5 18.5px,#00fefa 20.5px,#1af2ff 21px,#40dfff 21.5px,#40aaff 27px,#406bff 41px,#4061ff 51.5px,#407fff 63.5px,#40a0ff 68px,#40dbff 72.5px,#34e6ff 73px,#05fdff 73.5px,#00edbb 76px,#00e1a1 77.5px,#00c638 81px,#00b905 83px,#85da00 89.5px,#dbf300 95.5px,#ff0 98px,#ffb600 107.5px,#fd7a00 122.5px,#fd7a00 129.5px)"></i>
<i style="height:2px;background:linear-gradient(90deg,#25c100 1.5px,#18be00 9.5px,#00b801 11.5px,#00ca46 14px,#00e0a1 16.5px,#00f1c5 18.5px,#00fefa 20.5px,#1af2ff 21px,#40dfff 21.5px,#40aeff 27px,#4073ff 41px,#4066ff 52px,#4081ff 64px,#40a3ff 68.5px,#40dbff 73px,#30e8ff 73.5px,#0ff 74px,#00eebc 76.5px,#00df9b 78.5px,#00b802 84px,#72d500 89.5px,#d0f000 96px,#ff0 99px,#fb0 107.5px,#fe7d00 122.5px,#fe7d00 129.5px)"></i>
<i style="height:2px;background:linear-gradient(90deg,#26c100 1.5px,#18be00 9.5px,#00b802 11.5px,#00ca47 14px,#00e0a1 16.5px,#00f1c5 18.5px,#00fefa 20.5px,#1bf2ff 21px,#40dfff 21.5px,#40afff 27.5px,#4075ff 43px,#406bff 54.5px,#4086ff 65.5px,#40b9ff 70.5px,#40dbff 73.5px,#2fe8ff 74px,#0ff 74.5px,#00edb9 77.5px,#00de9a 79.5px,#00ba0a 84.5px,#0fbc00 85.5px,#80d800 91.5px,#c5ed00 96.5px,#fbfd00 99.5px,#fb0 108.5px,#ff8000 122.5px,#ff8000 129.5px)"></i>
<i style="height:2px;background:linear-gradient(90deg,#27c200 1.5px,#1abf00 9px,#08ba00 11px,#00bb0d 12px,#00d26a 15px,#00e1a1 16.5px,#00f1c5 18.5px,#00fefa 20.5px,#1bf2ff 21px,#40dfff 21.5px,#40b3ff 27.5px,#407bff 43.5px,#406fff 55.5px,#4086ff 66px,#40daff 74px,#39e3ff 74.5px,#0df8ff 75px,#00fdf8 75.5px,#00ecb8 78.5px,#00de97 80.5px,#00b905 85.5px,#82d900 93px,#bceb00 97px,#f7fb00 100px,#fff700 101.5px,#ffc200 108px,#ff8200 123px,#ff8200 129.5px)"></i>
<i style="height:2px;background:linear-gradient(90deg,#28c200 1.5px,#1fc000 8.5px,#11bc00 10.5px,#00b800 11.5px,#00c944 14px,#00e0a0 16.5px,#00f1c5 18.5px,#00fefa 20.5px,#40dfff 21.5px,#40b5ff 27.5px,#4080ff 45px,#4074ff 57px,#4089ff 66.5px,#40ddff 75px,#2beaff 75.5px,#04fdff 76px,#00ecb7 79.5px,#00e1a1 81px,#00bf1c 85.5px,#06b900 87px,#81d800 94px,#c2ec00 98px,#f5fa00 100.5px,#fff800 102px,#ffc800 108px,#ff8600 123px,#ff8600 129.5px)"></i>
<i style="height:2px;background:linear-gradient(90deg,#2ac300 1.5px,#27c200 8px,#17be00 10.5px,#00b904 12px,#00cb4b 14.5px,#00df9c 16.5px,#00f5d6 19px,#00fefb 20.5px,#40dfff 21.5px,#40b6ff 27px,#4095ff 40px,#407cff 57px,#408cff 66.5px,#40deff 76px,#27ecff 76.5px,#0ff 77px,#0eb 80px,#00e09e 82px,#00c430 86px,#00b800 88px,#5fd000 92.5px,#c3ed00 98.5px,#fafd00 101.5px,#fff500 103px,#ffc600 109.5px,#ff8c00 123px,#ff8c00 129.5px)"></i>
<i style="height:2px;background:linear-gradient(90deg,#2cc300 1.5px,#2dc300 8px,#16bd00 11px,#03b900 12px,#00c430 14px,#00e3a7 17px,#00f6d8 19px,#00fefc 20.5px,#40deff 21.5px,#40b5ff 27px,#409fff 38.5px,#4084ff 59.5px,#4092ff 67px,#40d7ff 76.5px,#40ddff 77px,#27ecff 77.5px,#00fffd 78px,#00edba 81px,#00df9e 83px,#02b900 89px,#4ccb00 92px,#cdef00 99.5px,#feff00 102.5px,#ffc900 110px,#ff9200 122.5px,#ff9200 129.5px)"></i>
<i style="height:2px;background:linear-gradient(90deg,#2ec300 1.5px,#36c500 7.5px,#23c100 10.5px,#00b800 12.5px,#00c638 14.5px,#00e3a5 17px,#00fefc 20.5px,#40deff 21.5px,#40b7ff 26.5px,#40a8ff 34px,#40a2ff 45.5px,#408aff 60px,#4096ff 67.5px,#40cfff 77px,#40dcff 78px,#28ecff 78.5px,#00fffd 79px,#00edba 82px,#00dd95 84.5px,#00c534 88px,#00b902 89.5px,#41c800 92px,#98e000 97px,#f7fb00 102.5px,#fff800 104px,#ffbe00 113.5px,#ff9800 122.5px,#ff9800 129.5px)"></i>
<i style="height:2px;background:linear-gradient(90deg,#30c400 1.5px,#38c600 5px,#3cc700 7.5px,#29c200 10.5px,#00b903 13px,#00c42f 14.5px,#00e2a4 17px,#00fcf3 20px,#00fffd 20.5px,#40deff 21.5px,#40b6ff 26.5px,#40abff 32.5px,#40b5ff 44.5px,#4091ff 59px,#4098ff 67.5px,#40c2ff 77px,#40dbff 79px,#30e8ff 79.5px,#0ff 80px,#00eebc 83px,#00dc91 86px,#00c228 89px,#00b902 90px,#41c800 92.5px,#91de00 97px,#fafd00 103.5px,#ffa900 119px,#ff9e00 125.5px,#ff9e00 129.5px)"></i>
<i style="height:2px;background:linear-gradient(90deg,#32c400 1.5px,#37c600 4.5px,#44c900 7px,#2fc400 10.5px,#00b904 13.5px,#00c73b 15px,#00e1a2 17px,#00f3cb 18.5px,#00fcf4 20px,#00fffe 20.5px,#26ecff 21px,#40deff 21.5px,#40b5ff 26.5px,#40adff 32px,#40c7ff 43.5px,#40a3ff 54px,#4096ff 64.5px,#40b3ff 76.5px,#40d7ff 80px,#40dfff 80.5px,#12f6ff 81px,#00fdf8 81.5px,#00edba 84.5px,#00e1a2 86.5px,#00cd53 88.5px,#01b800 90.5px,#38c600 92.5px,#8adb00 97px,#d9f200 102px,#fdfe00 104.5px,#ffb800 117px,#ffa400 124px,#ffa400 129.5px)"></i>
<i style="height:2px;background:linear-gradient(90deg,#34c500 1.5px,#3ac700 4.5px,#4bcb00 7px,#35c500 10.5px,#05b900 13.5px,#00bf1b 14.5px,#00d984 16.5px,#00e0a1 17px,#00f3cc 18.5px,#00fdf5 20px,#0ff 20.5px,#29ebff 21px,#40ddff 21.5px,#40b6ff 26px,#40adff 31px,#40d9ff 43.5px,#40c0ff 51px,#409eff 59.5px,#40a0ff 72.5px,#40b1ff 78px,#40daff 81.5px,#35e5ff 82px,#03fdff 82.5px,#00ecb9 86px,#00df9d 87.5px,#00bb0c 90.5px,#07ba00 91px,#4dcb00 94px,#90dd00 98px,#fafc00 105px,#ffe400 109.5px,#ffb000 120.5px,#ffab00 129.5px)"></i>
<i style="height:2px;background:linear-gradient(90deg,#36c500 1.5px,#38c600 4px,#52cc00 6.5px,#40c800 10px,#0fbc00 13.5px,#01b800 14px,#00c944 15.5px,#00e09f 17px,#00fbed 19.5px,#02feff 20.5px,#2beaff 21px,#40ddff 21.5px,#40b5ff 26px,#40adff 30.5px,#40d6ff 38.5px,#40dfff 40px,#05fcff 42.5px,#0ff 45px,#1ef0ff 47px,#40dfff 48.5px,#40a7ff 59.5px,#409cff 74.5px,#40a6ff 78.5px,#40daff 83px,#36e5ff 83.5px,#04fdff 84px,#00e6ad 87.5px,#00e0a0 88px,#00bf1a 90.5px,#00b905 91px,#61d000 95.5px,#f6fb00 105.5px,#fffb00 107px,#ffc600 116px,#ffb200 124px,#ffb200 129.5px)"></i>
<i style="height:2px;background:linear-gradient(90deg,#39c600 1.5px,#3dc700 4px,#59ce00 6.5px,#4ccb00 9.5px,#17be00 13.5px,#00ba09 14.5px,#00ce59 16px,#00de99 17px,#00fbed 19.5px,#0ff 20.5px,#27ecff 21px,#40deff 21.5px,#40b7ff 26px,#40b0ff 30.5px,#40d5ff 37px,#3ae3ff 38.5px,#00fffe 40px,#00fbec 44.5px,#0ff 49px,#40dfff 51px,#40adff 60px,#4098ff 74px,#40a0ff 79px,#40d1ff 83.5px,#3ae3ff 84.5px,#08fbff 85px,#00faea 86px,#00ebb6 87.5px,#00de96 88.5px,#00c227 90.5px,#00b800 91.5px,#4dcb00 95px,#97e000 100px,#f4fa00 106.5px,#fff900 108.5px,#ffcb00 116.5px,#ffbc00 124.5px,#ffbd00 129.5px)"></i>
<i style="height:2px;background:linear-gradient(90deg,#41c800 1.5px,#44c900 4px,#60d000 6.5px,#54cd00 9.5px,#1cbf00 13.5px,#00b903 14.5px,#00cc4f 16px,#00dc8f 17px,#00ebb5 18px,#00fcf3 20px,#00fefd 20.5px,#37e4ff 21.5px,#40d8ff 22.5px,#40baff 27.5px,#40c0ff 32.5px,#40deff 37px,#38e4ff 37.5px,#0df9ff 38.5px,#00fffe 39px,#00f9e5 43.5px,#00fcf4 48.5px,#00fffd 50px,#1df1ff 51px,#40dfff 52px,#40a7ff 62.5px,#4097ff 76.5px,#40abff 80.5px,#40d9ff 84px,#3ae3ff 84.5px,#07fcff 85px,#00f6db 86.5px,#00df9b 88.5px,#00c430 90.5px,#00bb0b 91.5px,#02b900 92px,#4ecb00 96px,#f6fb00 108.5px,#fffc00 110px,#ffd500 117px,#fc0 125px,#ffd000 129.5px)"></i>
<i style="height:2px;background:linear-gradient(90deg,#49ca00 1.5px,#4ccb00 4px,#69d200 7px,#57ce00 10px,#21c000 13.5px,#03b900 14.5px,#00c22a 15.5px,#00e1a2 17.5px,#00f4d3 19px,#00fefa 20.5px,#08fbff 21px,#3de2ff 22px,#40c3ff 27px,#40c7ff 32px,#40dfff 36px,#08fbff 37.5px,#00fdf8 38.5px,#00f7de 43.5px,#00fbef 49px,#05fdff 51.5px,#3de1ff 53px,#40a5ff 63.5px,#4096ff 76.5px,#40abff 80.5px,#40d9ff 84px,#3ae3ff 84.5px,#07fcff 85px,#00f6db 86.5px,#00e0a0 88.5px,#00c73a 90.5px,#00ba09 92px,#0cbb00 93px,#84d900 101px,#fbfd00 111px,#ffdc00 118.5px,#fd0 125.5px,#ffe300 129.5px)"></i>
<i style="height:2px;background:linear-gradient(90deg,#51cc00 1.5px,#54cd00 4px,#71d400 7px,#5fd000 10px,#26c200 13.5px,#09ba00 14.5px,#00bb0a 15px,#00ce59 16.5px,#00df9b 17.5px,#00fbed 20px,#00fffd 21px,#38e4ff 22.5px,#40dbff 23.5px,#40caff 29.5px,#40deff 34.5px,#3ae3ff 35px,#0ff 36.5px,#00f6d9 42.5px,#00f7df 47.5px,#00fffe 52.5px,#35e5ff 54px,#40dfff 54.5px,#40a5ff 63.5px,#4095ff 76.5px,#40aaff 80.5px,#40d9ff 84px,#39e3ff 84.5px,#06fcff 85px,#00f7dc 86.5px,#00e7af 88px,#00e1a3 88.5px,#00c431 91px,#00b801 93px,#89db00 103px,#d2f000 109.5px,#feff00 113px,#ffe900 118.5px,#fe0 125.5px,#fff600 129.5px)"></i>
<i style="height:2px;background:linear-gradient(90deg,#59ce00 1.5px,#61d000 4.5px,#78d600 7px,#6cd300 9.5px,#2bc300 13.5px,#00b903 15px,#00cc50 16.5px,#00dc91 17.5px,#00ebb7 18.5px,#00faea 20px,#00fffe 21.5px,#40dfff 24px,#40d5ff 30px,#40dfff 33px,#15f5ff 34.5px,#04fdff 35px,#00f4d2 42.5px,#00f6da 48px,#00fefd 53.5px,#07fcff 54px,#3ee1ff 55.5px,#40baff 60.5px,#40a4ff 64px,#4094ff 76.5px,#40a9ff 80.5px,#40d9ff 84px,#39e3ff 84.5px,#06fcff 85px,#00f7dc 86.5px,#00e8b0 88px,#00dd92 89px,#00c73c 91px,#00bb0d 93px,#0abb00 94.5px,#93de00 106px,#c4ed00 110.5px,#f8fc00 114px,#fff500 118px,#fffb00 125px,#f3f900 129.5px)"></i>
<i style="height:2px;background:linear-gradient(90deg,#61d000 1.5px,#68d200 4.5px,#80d800 7px,#75d500 9.5px,#3ac700 13px,#04b900 15px,#00c229 16px,#00e2a4 18px,#00f0c0 19px,#00f9e8 20px,#00fefa 21.5px,#00fffe 22.5px,#3be2ff 26px,#40e0ff 30.5px,#0bfaff 33px,#00fffe 33.5px,#00f3cb 42px,#00f4d0 47.5px,#00fffe 55px,#40dfff 57px,#40beff 60.5px,#40a6ff 63.5px,#4093ff 75.5px,#40a3ff 80px,#40d9ff 84px,#39e3ff 84.5px,#06fcff 85px,#00f7dd 86.5px,#00e9b2 88px,#00de99 89px,#00ca47 91px,#00be1a 93px,#02b900 95px,#96df00 108.5px,#c3ed00 112px,#f3f900 115px,#fcfe00 120px,#f0f800 125px,#d0f000 127.5px,#cff000 129.5px)"></i>
<i style="height:2px;background:linear-gradient(90deg,#69d200 1.5px,#70d400 4.5px,#86da00 7px,#7dd700 9.5px,#40c800 13px,#0cbb00 15px,#00ba07 15.5px,#00cf5b 17px,#00e0a0 18px,#00f4d2 19.5px,#00fbf0 20.5px,#02feff 25.5px,#12f6ff 29px,#00fefc 31.5px,#00f1c3 42.5px,#00f4cf 49px,#04fdff 56.5px,#3ee1ff 58px,#40abff 62.5px,#4093ff 73px,#4099ff 78.5px,#40baff 82px,#40d9ff 84px,#39e4ff 84.5px,#05fcff 85px,#00f3cd 87px,#00e09f 89px,#00cc51 91px,#00c226 93px,#03b900 96.5px,#a3e400 111.5px,#e3f500 115.5px,#ebf700 119.5px,#d6f200 124.5px,#abe600 127.5px,#aae600 129.5px)"></i>
<i style="height:2px;background:linear-gradient(90deg,#71d400 1.5px,#78d600 4.5px,#8ddc00 7.5px,#7fd800 10px,#3ac600 13.5px,#02b900 15.5px,#00c432 16.5px,#00de97 18px,#00f8e2 20px,#00fcf0 21px,#00fcf2 31px,#00efbf 41.5px,#00f2c7 49px,#00fffe 57.5px,#25edff 58.5px,#40dfff 59px,#40afff 62px,#4096ff 69.5px,#4094ff 77.5px,#40adff 81px,#40d9ff 84px,#38e4ff 84.5px,#05fdff 85px,#00f3ce 87px,#00dd92 89.5px,#00cc4f 91.5px,#00c020 94.5px,#04b900 98.5px,#72d500 109.5px,#d1f000 116px,#ccef00 121px,#b0e800 125px,#8ddc00 127.5px,#8cdc00 129.5px)"></i>
<i style="height:2px;background:linear-gradient(90deg,#78d600 1.5px,#7ed700 4.5px,#92de00 7.5px,#7dd700 10.5px,#18be00 15px,#08ba00 15.5px,#00bc0f 16px,#00d36a 17.5px,#00e4a7 18.5px,#00fae8 20.5px,#00fbee 30.5px,#00efbd 41.5px,#00f1c5 49.5px,#00fefd 58px,#0bfaff 58.5px,#2fe8ff 59px,#40dbff 59.5px,#40b1ff 62px,#4097ff 68.5px,#4092ff 77.5px,#40abff 81px,#40deff 84.5px,#18f3ff 85px,#00fef9 85.5px,#00ecb9 88px,#00df9b 89.5px,#00ce59 91.5px,#00c32b 94.5px,#04b900 100px,#62d100 110px,#b3e900 115.5px,#b5e900 118px,#8ddc00 125px,#62d100 127.5px,#61d000 129.5px)"></i>
<i style="height:2px;background:linear-gradient(90deg,#7bd700 1.5px,#81d800 4.5px,#95df00 7.5px,#80d800 10.5px,#18be00 15px,#08ba00 15.5px,#00bb0d 16px,#00e1a2 18.5px,#00f7de 20.5px,#00fbee 23px,#00fdf6 31px,#00f0bf 42.5px,#00f2ca 49.5px,#00fef9 57.5px,#00fffe 58px,#14f5ff 58.5px,#38e4ff 59px,#40d1ff 60px,#40b0ff 62.5px,#4094ff 69px,#4090ff 77.5px,#40acff 81.5px,#40deff 85px,#00fefb 86px,#00ebb5 88.5px,#00dd93 90px,#00cd55 92px,#00be19 96.5px,#05b900 100px,#69d200 111.5px,#94df00 115px,#96df00 117.5px,#4ccb00 125px,#27c200 127.5px,#26c200 129.5px)"></i>
<i style="height:2px;background:linear-gradient(90deg,#7fd800 1.5px,#88db00 5px,#97e000 8px,#82d900 10.5px,#18be00 15px,#09ba00 15.5px,#00bb0c 16px,#00d77a 18px,#00de99 18.5px,#00f7de 21px,#00fcf3 24.5px,#00fffe 31.5px,#00f5d7 38.5px,#00f1c3 43.5px,#00f6d8 52px,#02feff 58px,#40e0ff 59px,#40b2ff 62.5px,#4094ff 68px,#408eff 77.5px,#40a7ff 81.5px,#40ddff 85.5px,#00fefa 86.5px,#00edbb 88.5px,#00df9d 90px,#00cf5c 92px,#00bf1b 96.5px,#03b900 99.5px,#66d200 113px,#7dd700 116px,#6cd300 118px,#28c200 122.5px,#00b906 126px,#00bd13 128.5px,#00bd13 129.5px)"></i>
<i style="height:2px;background:linear-gradient(90deg,#82d900 1.5px,#8bdc00 5px,#9ae100 8px,#83d900 10.5px,#18be00 15px,#00ba0a 16px,#00d471 18px,#00e2a4 19px,#00f8e1 21.5px,#00fffe 26.5px,#24eeff 29.5px,#25edff 32px,#01feff 34px,#00f2c9 42.5px,#00f6d7 51px,#00fefb 57.5px,#08fbff 58px,#40dfff 59px,#40adff 63.5px,#4091ff 68.5px,#408eff 78px,#40acff 82.5px,#40dbff 86px,#00fdf8 87px,#00f0c0 88.5px,#00dd94 90.5px,#00ce5a 92.5px,#00bc10 97.5px,#04b900 99.5px,#3cc700 108.5px,#56cd00 116.5px,#2ac200 119px,#00b801 121px,#00ca47 126.5px,#00cb4b 129.5px)"></i>
<i style="height:2px;background:linear-gradient(90deg,#85da00 1.5px,#8edd00 5px,#9ce100 8px,#85da00 10.5px,#18be00 15px,#00ba08 16px,#00d982 18.5px,#00df9d 19px,#00f8e4 22px,#06fcff 26px,#3ae3ff 28.5px,#40e0ff 33.5px,#07fcff 35.5px,#00fcf4 37px,#00f4cf 42.5px,#00f7dd 51.5px,#00fefc 57.5px,#0cf9ff 58px,#40deff 59px,#4097ff 66.5px,#4088ff 76.5px,#40a1ff 82px,#40dbff 86.5px,#17f4ff 87px,#00fcf3 87.5px,#00eebc 89px,#00e09e 90.5px,#00d061 92.5px,#00bc11 97.5px,#05b900 99.5px,#32c500 107.5px,#30c400 116.5px,#06b900 118.5px,#00c946 121.5px,#00d881 125.5px,#00da86 129.5px)"></i>
<i style="height:2px;background:linear-gradient(90deg,#88db00 1.5px,#91de00 5px,#a0e300 8px,#87da00 10.5px,#18be00 15px,#00ba07 16px,#00e2a5 19.5px,#00f8e1 22.5px,#00fefd 25.5px,#19f3ff 26.5px,#38e4ff 27.5px,#40ddff 28.5px,#40d6ff 34px,#3ce2ff 36.5px,#0ff 38px,#00f6da 43px,#00f8e0 52px,#00fdf7 57.5px,#06fcff 58.5px,#3ce2ff 59.5px,#4096ff 67px,#4086ff 76.5px,#40a0ff 82.5px,#40d0ff 86.5px,#40dbff 87px,#09fbff 87.5px,#00f6da 88.5px,#00ecb8 89.5px,#00de96 91px,#00d05f 93px,#00bb0a 98px,#05b900 99.5px,#2cc300 108px,#27c200 113px,#11bc00 116px,#00ba07 117px,#00d880 121px,#00e2a3 123px,#00e9b2 127.5px,#00e9b2 129.5px)"></i>
<i style="height:2px;background:linear-gradient(90deg,#8cdc00 1.5px,#94df00 5px,#a3e400 8px,#89db00 10.5px,#32c500 14px,#00ba06 16px,#00e09e 19.5px,#00f9e7 23.5px,#00fefc 25.5px,#0afaff 26px,#35e6ff 27px,#40dfff 27.5px,#40c9ff 33.5px,#40dcff 38px,#40dfff 38.5px,#00fffe 40px,#00f8e1 44.5px,#00f9e8 55px,#00fefd 59px,#09fbff 59.5px,#33e6ff 60.5px,#40dfff 61px,#40b7ff 64.5px,#4097ff 67px,#4084ff 75.5px,#4095ff 81.5px,#40bdff 86px,#40deff 87.5px,#00fefc 88px,#00efbe 89.5px,#00e0a0 91px,#00d266 93px,#00bc10 97.5px,#06b900 99.5px,#25c100 108.5px,#1fc000 112px,#00b905 115.5px,#00c536 117px,#00db8b 119px,#00e6ac 120.5px,#00f7dd 124.5px,#00f9e5 129.5px)"></i>
<i style="height:2px;background:linear-gradient(90deg,#8fdd00 1.5px,#97e000 5px,#a6e500 8px,#8bdc00 10.5px,#4ecc00 13px,#00b905 16px,#00e2a3 20px,#00fae9 24px,#00fefc 25.5px,#0cf9ff 26px,#40e0ff 27px,#40c1ff 32.5px,#40c6ff 37px,#40ddff 40px,#35e5ff 40.5px,#02feff 41.5px,#00fae8 45.5px,#00fae8 56px,#0ff 61px,#20f0ff 62px,#3de2ff 62.5px,#4099ff 67px,#4082ff 74.5px,#408fff 81px,#40aeff 85.5px,#40c5ff 87px,#40d3ff 87.5px,#34e6ff 88px,#00fdf5 88.5px,#00f2c8 89.5px,#00c840 95px,#00b903 98.5px,#1cbf00 107.5px,#18be00 111.5px,#00b905 114px,#00c021 115.5px,#00d165 117px,#00e09f 118px,#00f3cc 120px,#00fef9 121.5px,#40ddff 122.5px,#40cdff 124.5px,#40caff 129.5px)"></i>
<i style="height:2px;background:linear-gradient(90deg,#91de00 1.5px,#99e000 5px,#a7e500 8px,#8ddc00 10.5px,#51cc00 13px,#00b802 16px,#00d573 19px,#00df9d 20px,#00f9e5 24px,#00fffe 26px,#30e8ff 27px,#40deff 27.5px,#40c0ff 33px,#40c2ff 37px,#3be3ff 41px,#0afaff 42px,#00fdf8 43px,#00f9e8 49.5px,#00fbed 58.5px,#00fefb 62px,#07fcff 62.5px,#30e8ff 63px,#40daff 63.5px,#409aff 67px,#4081ff 74px,#408aff 80.5px,#40afff 86px,#40ccff 87.5px,#40dcff 88px,#00fefc 88.5px,#00eebd 90px,#00e09f 91.5px,#00c637 95.5px,#00b902 98.5px,#17be00 106.5px,#12bd00 110.5px,#00b905 112.5px,#00c942 115.5px,#00d573 116.5px,#00e4a9 117.5px,#00fcf3 119.5px,#15f5ff 120px,#40daff 120.5px,#40adff 123px,#40a7ff 129.5px)"></i>
<i style="height:2px;background:linear-gradient(90deg,#91de00 1.5px,#98e000 5px,#a4e400 8px,#8edd00 10.5px,#64d100 12.5px,#06ba00 16px,#00bf1b 17px,#00de98 20px,#00f6da 23.5px,#00fefc 27px,#07fcff 27.5px,#3de1ff 29px,#40ceff 35px,#40dfff 39.5px,#00fffe 41.5px,#00faec 46px,#00fbee 58px,#05fdff 62.5px,#2de9ff 63px,#40dbff 63.5px,#409aff 67px,#4082ff 73.5px,#4089ff 80px,#40acff 85.5px,#40cfff 87.5px,#40dfff 88px,#00fef9 88.5px,#00eebc 90px,#00e09f 91.5px,#00c637 95.5px,#00b902 98.5px,#17be00 106.5px,#12bc00 109.5px,#00b905 111px,#00d05e 115px,#00e6ab 117px,#00f3cd 118px,#00fefc 119px,#40dfff 119.5px,#40a9ff 122px,#409bff 124px,#409bff 129.5px)"></i>
<i style="height:2px;background:linear-gradient(90deg,#91de00 1.5px,#99e000 5.5px,#a1e300 8.5px,#80d800 11.5px,#00b801 16.5px,#00d164 19px,#00e2a4 20.5px,#00f5d6 23.5px,#02feff 30px,#32e7ff 33px,#3fe1ff 35.5px,#23eeff 38px,#00fffd 40px,#00faec 46px,#00fcf4 60px,#03feff 62.5px,#2aeaff 63px,#40dbff 63.5px,#409aff 67px,#4082ff 73.5px,#4087ff 79.5px,#40a9ff 85px,#40c6ff 87px,#37e4ff 88px,#00fdf6 88.5px,#0eb 90px,#00db8e 92px,#00be19 97px,#03b900 99px,#18be00 107.5px,#14bd00 109px,#03b900 110px,#00db8c 115px,#00efbd 117px,#00fbec 118px,#14f5ff 118.5px,#40d7ff 119px,#40a0ff 121.5px,#4092ff 124.5px,#4092ff 129.5px)"></i>
<i style="height:2px;background:linear-gradient(90deg,#91de00 1.5px,#9de200 9px,#82d900 11.5px,#08ba00 16.5px,#00ba09 17px,#00e1a2 20.5px,#00f4d2 23.5px,#00fcf3 33px,#00fbee 53px,#00fefa 62px,#01ffff 62.5px,#28ecff 63px,#40dcff 63.5px,#409aff 67px,#4082ff 73.5px,#4088ff 79.5px,#40acff 85px,#40c8ff 87px,#40d6ff 87.5px,#27ecff 88px,#00fcf3 88.5px,#00edba 90px,#00db8e 92px,#00be19 97px,#03b900 99px,#18be00 107.5px,#13bd00 109px,#00ba06 110px,#00e2a4 114.5px,#00efbd 116px,#00fdf6 117.5px,#3ce2ff 118px,#40abff 120px,#408cff 122.5px,#4088ff 129.5px)"></i>
<i style="height:2px;background:linear-gradient(90deg,#90dd00 1.5px,#99e000 9.5px,#7cd700 12px,#00b800 17px,#00d36d 19.5px,#00df9e 20.5px,#00f2c8 23px,#00f7dd 35.5px,#00fbef 62px,#00fefb 63px,#40ddff 64px,#409eff 67.5px,#4085ff 78px,#40a3ff 84px,#40cbff 87px,#40d7ff 87.5px,#1df1ff 88px,#00fcf2 88.5px,#00edba 90px,#00e09f 91.5px,#00c32e 96px,#00b902 98.5px,#1abf00 105.5px,#1bbf00 108.5px,#07ba00 109.5px,#00bb0b 110px,#00dc90 113px,#00e6ac 114px,#00f0bf 115px,#00fcf4 116.5px,#1cf1ff 117px,#40d8ff 117.5px,#409cff 120px,#4081ff 123px,#4080ff 129.5px)"></i>
<i style="height:2px;background:linear-gradient(90deg,#8ddc00 1.5px,#9ae100 9.5px,#81d800 12px,#01b800 17px,#00df9d 21px,#00ebb5 23px,#00e9b3 51px,#00e4a8 63.5px,#00f0c0 69px,#00f1c6 73.5px,#00f6d9 74.5px,#02feff 75.5px,#40d8ff 76px,#409dff 78px,#4092ff 80px,#40a1ff 84.5px,#40c4ff 87px,#40deff 88px,#00fefd 88.5px,#00f1c4 90px,#00dd93 92.5px,#00bf1a 97px,#02b900 98.5px,#36c600 103.5px,#3fc800 107px,#31c400 109px,#00b800 110.5px,#00d470 113px,#00e2a5 114px,#00f0bf 115px,#00fef9 116.5px,#31e7ff 117px,#40d5ff 117.5px,#409dff 120px,#4085ff 123px,#4085ff 129.5px)"></i>
<i style="height:2px;background:linear-gradient(90deg,#8adb00 1.5px,#96df00 7px,#97e000 10.5px,#7ad600 12.5px,#02b900 17px,#00dd96 21.5px,#00e2a5 22.5px,#00e1a2 39px,#00d983 51.5px,#00c73e 64px,#00c533 70px,#00c32c 73.5px,#00c637 74px,#00d36a 75px,#00e6ac 76px,#00f0c2 76.5px,#00fbed 77px,#40d8ff 77.5px,#40abff 78.5px,#409cff 79.5px,#4096ff 83.5px,#40acff 86px,#40d6ff 88px,#2ceaff 88.5px,#00fdf7 89px,#00f1c3 90.5px,#00dd94 93px,#00bf1b 97px,#00b904 98px,#5dcf00 104px,#66d200 106.5px,#4fcc00 109px,#00b903 111.5px,#00c432 112.5px,#00df9b 114px,#00efbf 115px,#00fbed 116px,#00fffd 116.5px,#40dfff 117px,#409fff 120px,#4089ff 123px,#4089ff 129.5px)"></i>
<i style="height:2px;background:linear-gradient(90deg,#87da00 1.5px,#91de00 6.5px,#9ae100 10.5px,#7ed700 12.5px,#04b900 17px,#00d77d 21.5px,#00dc92 23px,#00d984 33.5px,#00cc51 48.5px,#00bf1b 56.5px,#02b800 59.5px,#7bd700 70px,#8adb00 73.5px,#7dd700 74px,#5ccf00 74.5px,#00b906 75.5px,#00d77d 76.5px,#00f5d4 77.5px,#2de9ff 78px,#40c3ff 78.5px,#40b1ff 79px,#4096ff 81.5px,#4097ff 84.5px,#40aeff 86.5px,#40daff 88.5px,#15f5ff 89px,#00fcf4 89.5px,#00edba 91.5px,#00e1a1 93px,#00bf1c 97px,#00b801 98px,#7ad600 103.5px,#8adb00 106px,#77d600 108.5px,#34c500 111px,#10bc00 112px,#00bb0d 112.5px,#00db8b 114px,#00e6ac 114.5px,#00efbf 115px,#00f7dd 115.5px,#00fcf1 116px,#0ef8ff 116.5px,#40dcff 117px,#40a0ff 120px,#408dff 123.5px,#408dff 129.5px)"></i>
<i style="height:2px;background:linear-gradient(90deg,#85da00 1.5px,#8fdd00 6.5px,#9ae100 10.5px,#81d800 12.5px,#16be00 16.5px,#00b802 17.5px,#00cf5e 21.5px,#00d46e 23.5px,#00cd55 36.5px,#00c022 49px,#06b900 54px,#74d500 62.5px,#d3f100 69px,#f2f900 72.5px,#f2f900 73.5px,#e3f500 74px,#98e000 75px,#65d100 75.5px,#23c100 76px,#00c01f 76.5px,#00e0a1 77.5px,#00eebc 78px,#00f9e6 78.5px,#1af3ff 79px,#40d9ff 79.5px,#40a8ff 81.5px,#409bff 84px,#40abff 86px,#40dcff 88.5px,#10f7ff 89px,#00fcf3 89.5px,#00edba 91.5px,#00e0a0 93px,#00c124 96.5px,#00ba07 97.5px,#2cc300 99.5px,#84d900 103px,#9de200 105.5px,#95df00 108px,#78d600 110px,#40c800 112px,#00b905 113px,#00dc91 114.5px,#00e7ad 115px,#00fcf3 117px,#15f5ff 117.5px,#40daff 118px,#40a2ff 121px,#4097ff 124.5px,#4097ff 129.5px)"></i>
<i style="height:2px;background:linear-gradient(90deg,#85da00 1.5px,#90dd00 7px,#97e000 10.5px,#81d800 12.5px,#1bbf00 17px,#00b903 18.5px,#00c73a 22px,#00c943 27px,#00c227 42.5px,#03b900 51.5px,#31c400 55px,#92de00 62px,#e1f400 69px,#f5fa00 73px,#ecf700 74px,#b4e900 75px,#69d200 76px,#03b900 77px,#00d77c 78.5px,#00de97 79px,#00eab4 80px,#00f3cb 80.5px,#00fbee 81px,#2ceaff 81.5px,#40d8ff 82px,#40c0ff 84px,#40c9ff 86.5px,#40d9ff 87.5px,#2beaff 88px,#00fefa 88.5px,#00eebd 90.5px,#00e1a3 92px,#00c32a 95.5px,#00b801 97px,#84d900 103px,#a4e400 106.5px,#9fe200 109.5px,#7fd800 112px,#43c900 113px,#1cbf00 113.5px,#00bb0d 114px,#00d77d 115.5px,#00e2a5 116.5px,#00f0c1 118px,#00fefd 119.5px,#40deff 120px,#40b6ff 122px,#40adff 124.5px,#40adff 129.5px)"></i>
<i style="height:2px;background:linear-gradient(90deg,#85da00 1.5px,#94df00 10.5px,#79d600 13px,#23c100 17.5px,#00b903 20.5px,#00be17 24px,#00be16 37.5px,#05b900 47.5px,#22c100 52.5px,#7fd800 57.5px,#daf300 65.5px,#f6fb00 71.5px,#f3fa00 74px,#d5f100 75px,#8adb00 76.5px,#09ba00 78.5px,#00c226 79.5px,#00cc50 80px,#00d985 80.5px,#00e6ab 81px,#00fdf5 83.5px,#0ff 84px,#35e6ff 85px,#3ee1ff 85.5px,#3ce2ff 86px,#2fe8ff 86.5px,#00fefb 87.5px,#00ecb9 90px,#00df9a 91.5px,#00c32b 94.5px,#00b904 96px,#85da00 103px,#bdeb00 109px,#b7ea00 111.5px,#a0e300 112.5px,#6dd300 113.5px,#00b802 115px,#00cc52 116.5px,#00e3a7 118.5px,#00efbe 119.5px,#00fefc 121px,#40e0ff 121.5px,#40c8ff 123px,#40c7ff 129.5px)"></i>
<i style="height:2px;background:linear-gradient(90deg,#85da00 1.5px,#8fdd00 11px,#73d500 13.5px,#35c500 17.5px,#14bd00 24.5px,#08ba00 38px,#23c100 49px,#38c600 52.5px,#89db00 56px,#eff800 63.5px,#f9fc00 74px,#eff800 75.5px,#c3ed00 77px,#7cd700 79px,#5dcf00 79.5px,#24c100 80px,#00c01f 80.5px,#00d060 81px,#00dc91 81.5px,#00e7ad 82.5px,#00f8e4 85.5px,#00f9e7 87px,#00e2a3 90.5px,#00bf1c 94px,#00b801 95px,#71d400 101.5px,#c3ed00 107.5px,#ecf700 110.5px,#ebf700 112px,#caef00 113px,#7ed800 114.5px,#1cbf00 116px,#02b900 116.5px,#00d164 118.5px,#00e09e 119.5px,#00f2ca 121px,#00fffd 122.5px,#19f3ff 123px,#20f0ff 124.5px,#20f0ff 129.5px)"></i>
<i style="height:2px;background:linear-gradient(90deg,#83d900 1.5px,#8bdc00 11px,#6fd400 14px,#41c800 18px,#17be00 32.5px,#1abf00 43px,#3cc700 51.5px,#5ccf00 53.5px,#94df00 56px,#f2f900 62.5px,#fbfd00 67.5px,#f6fb00 76px,#e5f500 77px,#8cdc00 79.5px,#59ce00 80px,#17be00 80.5px,#00c227 81px,#00cd54 81.5px,#00e0a0 83.5px,#00edbb 86.5px,#00e6ac 89px,#00df9b 90px,#00bd16 94px,#00b800 95px,#92de00 104px,#c2ed00 107px,#f2f900 109.5px,#ff0 112px,#f2f900 113px,#29c200 117.5px,#10bc00 118px,#00bb0a 118.5px,#00e0a0 121.5px,#00eebd 124px,#00f2c7 127px,#00f2c7 129.5px)"></i>
<i style="height:2px;background:linear-gradient(90deg,#80d800 1.5px,#84d900 11.5px,#4ecb00 18.5px,#1abf00 32.5px,#18be00 41px,#38c600 50px,#52cc00 52.5px,#97e000 56px,#f3f900 62.5px,#fbfd00 67.5px,#f6fb00 76px,#e2f500 77px,#8fdd00 79.5px,#68d200 80px,#03b900 81px,#00c021 81.5px,#00d471 84px,#00dd95 86px,#00df9b 87.5px,#00d983 89.5px,#00bd15 94.5px,#00b800 96px,#59ce00 101px,#94df00 104px,#d3f100 107.5px,#f5fb00 109.5px,#fffa00 111.5px,#fafc00 113.5px,#e0f400 114.5px,#9fe200 116.5px,#73d500 118px,#01b800 120.5px,#00db8c 124.5px,#00e09f 125.5px,#00e0a0 129.5px)"></i>
<i style="height:2px;background:linear-gradient(90deg,#7cd700 1.5px,#7ed700 12px,#23c100 31px,#17be00 38.5px,#32c500 48.5px,#54cd00 52px,#9ae100 56px,#f3f900 62.5px,#fbfd00 68px,#fafd00 75.5px,#eef700 76.5px,#92de00 79.5px,#77d600 80px,#2dc300 81px,#12bc00 81.5px,#01b800 82px,#00c840 84.5px,#00d060 87px,#00cf5b 89.5px,#00b903 97px,#40c800 100.5px,#8ddc00 103.5px,#f4fa00 109px,#fffc00 110.5px,#fff200 113px,#f9fc00 115.5px,#d5f100 117.5px,#64d100 121px,#28c200 122.5px,#0ebc00 123px,#00bb0b 123.5px,#00cb4a 125px,#00ce57 126px,#00ce57 129.5px)"></i>
<i style="height:2px;background:linear-gradient(90deg,#79d600 1.5px,#75d500 14px,#5ccf00 21.5px,#25c100 31.5px,#18be00 38px,#33c500 48px,#4fcc00 51px,#9de200 56px,#f3f900 62.5px,#fbfd00 68px,#fafc00 75.5px,#ecf700 76.5px,#a1e300 79px,#85da00 80px,#37c600 82px,#05b900 84px,#00c430 88px,#00c534 91.5px,#00c123 96px,#00b903 98px,#33c500 100.5px,#8edd00 103.5px,#f2f900 108.5px,#fffc00 110px,#ffe300 114px,#ffeb00 117.5px,#fafc00 119.5px,#cff000 121px,#98e000 122.5px,#7ed700 123px,#18be00 124.5px,#00b801 125px,#00bc0f 125.5px,#00bd12 129.5px)"></i>
<i style="height:2px;background:linear-gradient(90deg,#79d600 1.5px,#74d500 19px,#2cc300 31.5px,#1dbf00 37.5px,#37c600 47.5px,#50cc00 50.5px,#9be100 55.5px,#f3f900 62.5px,#fbfd00 69px,#f9fc00 75.5px,#ddf300 77px,#a2e300 79px,#5ecf00 82px,#1cbf00 85px,#00b802 87px,#00c122 90.5px,#00c42f 95.5px,#00bb0d 98px,#07ba00 99px,#3bc700 101px,#8edd00 103.5px,#f3fa00 108.5px,#fffb00 110px,#ffce00 115.5px,#ffcf00 118px,#fcfe00 122px,#e8f600 122.5px,#47ca00 125px,#36c500 125.5px,#32c500 129.5px)"></i>
<i style="height:2px;background:linear-gradient(90deg,#81d800 1.5px,#7cd700 19px,#36c600 31.5px,#29c200 38px,#45c900 48px,#68d200 51.5px,#f0f800 62px,#fafc00 67.5px,#f7fb00 75.5px,#ddf300 77px,#a6e500 79px,#68d200 82px,#1ec000 85.5px,#00b801 87.5px,#00bf1e 91px,#00c227 95.5px,#00b800 98.5px,#2cc300 100.5px,#8cdc00 103.5px,#f2f900 108.5px,#fffc00 110px,#ffc700 116px,#ffc800 118.5px,#ffef00 122px,#fffb00 122.5px,#f2f900 123px,#b2e900 124px,#88db00 125px,#79d600 126px,#79d600 129.5px)"></i>
<i style="height:2px;background:linear-gradient(90deg,#87da00 1.5px,#83d900 19px,#3dc700 32.5px,#35c500 39px,#53cd00 48.5px,#b2e800 57px,#f1f800 62px,#f8fc00 69px,#f2f900 76px,#a2e300 79.5px,#5ccf00 83px,#06ba00 87.5px,#00bc12 90px,#00c020 95.5px,#03b900 98.5px,#2dc300 100.5px,#8adb00 103.5px,#f6fb00 109px,#fff800 110.5px,#ffbf00 116.5px,#ffc000 119px,#ffe600 122.5px,#fdfe00 123.5px,#beeb00 125px,#b0e800 126px,#b0e800 129.5px)"></i>
<i style="height:2px;background:linear-gradient(90deg,#8ddc00 1.5px,#89db00 19px,#46c900 33px,#42c800 40px,#65d100 49.5px,#c5ed00 58px,#f1f800 62px,#f7fb00 74px,#f0f800 76px,#9fe200 80px,#5dcf00 83.5px,#06b900 88px,#00bc10 91px,#00be19 95.5px,#06b900 98.5px,#2dc300 100.5px,#88db00 103.5px,#f4fa00 109px,#fff800 110.5px,#ffb600 117px,#ffb700 119.5px,#ffd200 122.5px,#fffc00 124.5px,#f2f900 126px,#f2f900 129.5px)"></i>
<i style="height:2px;background:linear-gradient(90deg,#93de00 1.5px,#8edd00 19px,#4ecc00 34px,#52cd00 42px,#74d500 50px,#baeb00 57px,#eff800 61.5px,#f6fb00 72px,#eff800 76px,#9de200 80.5px,#69d200 83.5px,#0dbb00 88px,#00b904 90px,#00bc11 95.5px,#03b900 98px,#2ec300 100.5px,#91de00 104px,#f9fc00 109.5px,#fff900 110.5px,#ffac00 117.5px,#ffaf00 120.5px,#ffc500 123px,#ffe700 125.5px,#ffe800 129.5px)"></i>
<i style="height:2px;background:linear-gradient(90deg,#99e000 1.5px,#94df00 19px,#59ce00 34.5px,#61d000 43px,#88db00 51.5px,#b8ea00 56.5px,#edf700 61px,#f5fa00 71px,#edf700 76px,#87da00 82.5px,#13bd00 88px,#00b802 91px,#00ba08 96px,#0cbb00 98.5px,#2fc400 100.5px,#8fdd00 104px,#f7fb00 109.5px,#fffa00 110.5px,#ffa000 118px,#fa0 122.5px,#ffc600 125.5px,#ffc700 129.5px)"></i>
<i style="height:2px;background:linear-gradient(90deg,#9fe200 1.5px,#9ae100 19px,#64d100 35px,#70d400 44px,#9be100 53.5px,#eff800 61px,#eff800 75.5px,#75d500 84px,#22c100 87.5px,#0cbb00 89.5px,#00b903 95px,#0bbb00 98px,#24c100 100px,#8ddc00 104px,#fdfe00 110px,#ff9800 118px,#f90 123px,#ffa500 127px,#ffa500 129.5px)"></i>
<i style="height:2px;background:linear-gradient(90deg,#a5e400 1.5px,#a0e300 19px,#73d500 33px,#75d500 41.5px,#a0e300 53.5px,#eef800 60.5px,#f0f800 75px,#c4ed00 79px,#81d800 84px,#2ac200 87.5px,#13bd00 89.5px,#05b900 95.5px,#16be00 99px,#48ca00 101.5px,#8bdc00 104px,#fcfe00 110px,#ff9100 118px,#ff8600 123.5px,#f80 129.5px)"></i>
<i style="height:2px;background:linear-gradient(90deg,#a9e600 1.5px,#a5e400 19px,#82d900 32.5px,#85da00 43px,#a6e500 54px,#ecf700 60.5px,#e8f600 75px,#bbeb00 79.5px,#83d900 84px,#24c100 88px,#0dbb00 91.5px,#07ba00 97px,#17be00 99.5px,#4bcb00 102px,#8bdc00 104.5px,#d8f200 108.5px,#fffe00 110.5px,#ff8c00 118px,#fb7500 126px,#fb7400 129.5px)"></i>
<i style="height:2px;background:linear-gradient(90deg,#a9e600 1.5px,#a8e500 20.5px,#8fdd00 39px,#a3e400 53.5px,#e1f400 60.5px,#d9f200 74.5px,#a4e400 80.5px,#7bd700 84px,#23c100 88px,#00b802 93.5px,#00b904 98px,#06b900 99.5px,#3ec700 102.5px,#88db00 105.5px,#c3ed00 108.5px,#fafd00 110.5px,#ffd800 113px,#ff8c00 118px,#fb7500 126px,#fb7400 129.5px)"></i>
<i style="height:2px;background:linear-gradient(90deg,#a9e600 1.5px,#ace700 23.5px,#9fe200 43.5px,#a6e500 54px,#d9f200 61px,#c8ee00 74.5px,#82d900 83px,#22c100 88px,#00b904 92.5px,#00bd15 96.5px,#00bb0c 99.5px,#00b800 100.5px,#3bc700 103.5px,#99e000 107.5px,#bfec00 109px,#fffe00 111px,#ff9100 117.5px,#fe7d00 121.5px,#fb7400 129.5px)"></i>
<i style="height:2px;background:linear-gradient(90deg,#a9e600 1.5px,#b4e900 18px,#b9ea00 27px,#a5e400 53.5px,#cef000 61.5px,#b9ea00 74px,#82d900 82px,#55cd00 85px,#1bbf00 88.5px,#00b906 92px,#00c022 96.5px,#00be19 100px,#01b800 102px,#5fd000 106px,#aee700 109px,#fbfd00 111px,#ff9100 117.5px,#fe7d00 121.5px,#fb7400 129.5px)"></i>
<i style="height:2px;background:linear-gradient(90deg,#a9e600 1.5px,#b3e900 17px,#c7ee00 22.5px,#c5ed00 34px,#ace700 48.5px,#a7e500 54px,#c4ed00 61.5px,#abe600 73.5px,#80d800 81px,#4ecb00 85px,#15bd00 89px,#00b906 91.5px,#00c32e 96px,#00c32b 100px,#04b900 103.5px,#6fd400 107.5px,#b1e800 109.5px,#f6fb00 111px,#fffb00 111.5px,#ff9d00 116.5px,#ff8300 119.5px,#fb7400 128.5px,#fb7400 129.5px)"></i>
<i style="height:2px;background:linear-gradient(90deg,#a9e600 1.5px,#b6e900 17px,#d3f100 22px,#ddf300 32px,#beec00 46.5px,#a6e500 53px,#b8ea00 62.5px,#96df00 75.5px,#6ed300 81.5px,#00b904 91px,#00c638 95.5px,#00c73d 100px,#00c229 102.5px,#01b800 104.5px,#68d200 108px,#bceb00 110px,#f1f800 111px,#fffe00 111.5px,#ffa500 116px,#ff8400 119px,#fb7400 128px,#fb7400 129.5px)"></i>
<i style="height:2px;background:linear-gradient(90deg,#a9e600 1.5px,#b6e900 16.5px,#e0f400 22px,#f1f800 31px,#d3f100 45px,#a8e500 52.5px,#aae600 65.5px,#7bd700 78px,#39c600 85.5px,#00b800 90.5px,#00c944 95.5px,#00cc50 100px,#00c942 102.5px,#00bb0e 105px,#00b800 105.5px,#51cc00 108px,#ccef00 110.5px,#fcfe00 111.5px,#ff9d00 116.5px,#ff8300 119.5px,#fb7400 128.5px,#fb7400 129.5px)"></i>
<i style="height:2px;background:linear-gradient(90deg,#a9e600 1.5px,#b5e900 16px,#edf700 22px,#fdfe00 32px,#e7f600 44px,#aae600 52.5px,#9ce100 67.5px,#67d200 78.5px,#1cbf00 88px,#00b903 90.5px,#00cc50 95.5px,#00d162 100.5px,#00cf5c 102.5px,#00c636 104.5px,#05b900 106.5px,#3ac600 108px,#f8fc00 111.5px,#ffeb00 112.5px,#ff9d00 116.5px,#ff8300 119.5px,#fb7400 128.5px,#fb7400 129.5px)"></i>
<i style="height:2px;background:linear-gradient(90deg,#a9e600 1.5px,#b7ea00 16px,#f2f900 21.5px,#fffb00 28.5px,#f8fc00 40.5px,#e5f500 45.5px,#ade700 52px,#91de00 68px,#3bc700 83.5px,#00b801 90px,#00cf5b 95.5px,#00d471 100.5px,#00d36c 102.5px,#00ca46 104.5px,#00ba0a 106.5px,#07ba00 107px,#46c900 108.5px,#f4fa00 111.5px,#fffa00 112px,#ffb600 115px,#ff8b00 118px,#fb7500 126px,#fb7400 129.5px)"></i>
<i style="height:2px;background:linear-gradient(90deg,#a9e600 1.5px,#b7ea00 16px,#f2f900 21px,#fffb00 26.5px,#fafd00 40px,#e7f600 45px,#ace700 52px,#91de00 66px,#52cd00 78.5px,#06ba00 88.5px,#00bb0d 90px,#00d165 95.5px,#00d575 99.5px,#00d36d 102.5px,#00c638 105px,#00ba0a 106.5px,#18be00 107.5px,#62d100 109px,#f0f800 111.5px,#fffd00 112px,#ffb600 115px,#ff8b00 118px,#fb7500 126px,#fb7400 129.5px)"></i>
<i style="height:2px;background:linear-gradient(90deg,#a9e600 1.5px,#b7ea00 16px,#f5fa00 21px,#fffa00 25.5px,#fffa00 35px,#f6fb00 41.5px,#dcf300 46px,#abe600 52px,#92de00 64.5px,#36c600 81.5px,#00b905 88.5px,#00d574 96px,#00d679 100.5px,#00d36e 102.5px,#00c638 105px,#00ba0a 106.5px,#18be00 107.5px,#60d000 109px,#eaf700 111.5px,#fdfe00 112px,#ffb500 115px,#ff8b00 118px,#fb7500 126px,#fb7400 129.5px)"></i>
<i style="height:2px;background:linear-gradient(90deg,#a9e600 1.5px,#b7ea00 16px,#e2f400 19px,#f7fb00 21px,#fff700 25.5px,#fff700 34.5px,#f7fb00 41px,#dff400 45.5px,#abe600 52px,#92de00 63.5px,#2ac200 82px,#00b802 87px,#00c639 91.5px,#00d67a 95.5px,#00d983 98.5px,#00d46e 102.5px,#00c638 105px,#00ba09 106.5px,#18be00 107.5px,#5ecf00 109px,#fafd00 112px,#ffe600 113px,#ffb500 115px,#ff8b00 118px,#fb7500 126px,#fb7400 129.5px)"></i>
<i style="height:2px;background:linear-gradient(90deg,#a9e600 1.5px,#b7ea00 16px,#dcf300 18.5px,#f6fb00 20.5px,#fff900 24px,#fff200 32px,#fafd00 40px,#e1f400 45px,#aae600 52px,#8fdd00 63.5px,#3fc800 77.5px,#00b903 86px,#00c944 91.5px,#00d984 95.5px,#00db8b 98.5px,#00d46f 102.5px,#00c638 105px,#00ba09 106.5px,#18be00 107.5px,#5ccf00 109px,#f6fb00 112px,#fff800 112.5px,#ffbf00 114.5px,#ff8f00 117.5px,#fc7800 123.5px,#fb7400 129.5px)"></i>
<i style="height:2px;background:linear-gradient(90deg,#a9e600 1.5px,#b7ea00 16px,#d5f100 18px,#f5fa00 20px,#fffa00 23px,#fe0 30.5px,#fbfd00 40px,#dff400 45px,#abe600 51.5px,#8fdd00 63px,#5ed000 69.5px,#20c000 81px,#00b903 85px,#00cc4e 91.5px,#00dc8f 95.5px,#00dd95 98px,#00d470 102.5px,#00c637 105px,#00ba09 106.5px,#18be00 107.5px,#5ace00 109px,#f2f900 112px,#fffb00 112.5px,#ffbf00 114.5px,#ff8f00 117.5px,#fc7800 123.5px,#fb7400 129.5px)"></i>
<i style="height:2px;background:linear-gradient(90deg,#a9e600 1.5px,#b5e900 15.5px,#c3ed00 17px,#f3fa00 19.5px,#fff900 22.5px,#ffeb00 29.5px,#fbfd00 40px,#ddf300 45px,#abe600 51.5px,#90dd00 62.5px,#5dcf00 68px,#1cbf00 80.5px,#00b904 84px,#00d060 92px,#00de99 95.5px,#00df9e 98px,#00d471 102.5px,#00c228 105.5px,#07ba00 107px,#57ce00 109px,#d2f000 111.5px,#eef700 112px,#fffe00 112.5px,#ffbf00 114.5px,#ff8f00 117.5px,#fc7800 123.5px,#fb7400 129.5px)"></i>
<i style="height:2px;background:linear-gradient(90deg,#a9e600 1.5px,#b5e900 15.5px,#c3ed00 17px,#f6fb00 19.5px,#fff900 22px,#ffe800 29px,#fbfd00 40px,#e0f400 44.5px,#aae600 51.5px,#8ddc00 62.5px,#56ce00 67.5px,#17be00 80px,#00b903 83px,#00d36b 92px,#00e1a2 95.5px,#00e09e 99px,#00d268 103px,#00be19 106px,#07ba00 107px,#55cd00 109px,#cbef00 111.5px,#fdfe00 112.5px,#ffbe00 114.5px,#ff8f00 117.5px,#fc7700 124px,#fb7400 129.5px)"></i>
<i style="height:2px;background:linear-gradient(90deg,#a8e500 1.5px,#b4e900 15.5px,#c3ed00 17px,#f7fb00 19.5px,#fff700 22.5px,#ffe800 29.5px,#fafd00 40px,#dbf300 44.5px,#a8e500 51px,#87da00 62.5px,#51cc00 67px,#12bc00 79.5px,#00b905 82px,#00d677 92px,#00e2a4 95px,#00e3a6 98.5px,#00dc8f 101px,#00d062 103.5px,#00bb0b 106.5px,#06ba00 107px,#53cd00 109px,#c5ed00 111.5px,#fafd00 112.5px,#ffbe00 114.5px,#ff9400 117px,#ff8000 120.5px,#fb7400 129.5px)"></i>
<i style="height:2px;background:linear-gradient(90deg,#a5e400 1.5px,#b2e900 15.5px,#c2ec00 17px,#f6fb00 19.5px,#fffb00 22px,#ffeb00 29.5px,#fafd00 39.5px,#ddf300 43.5px,#a6e500 50px,#7dd700 62.5px,#4acb00 67px,#13bd00 78px,#00b903 80.5px,#00d985 92px,#00e3a6 94.5px,#00e7ad 98px,#00df9b 101px,#00d36e 103.5px,#04b900 107px,#66d200 109.5px,#beeb00 111.5px,#f7fb00 112.5px,#fff100 113px,#ffca00 114px,#ff9400 117px,#ff8000 120.5px,#fb7400 129.5px)"></i>
<i style="height:2px;background:linear-gradient(90deg,#a2e300 1.5px,#b0e800 15.5px,#c0ec00 17px,#f5fa00 19.5px,#fff800 23px,#ffef00 30.5px,#fafd00 39px,#e1f400 42.5px,#a5e400 49px,#83d900 58px,#6bd300 63px,#41c800 67.5px,#12bc00 77px,#00b905 79.5px,#00e4a8 94px,#00eab3 97.5px,#00e0a0 101.5px,#00d36c 104px,#01b800 107px,#b6ea00 111.5px,#f5fa00 112.5px,#fff200 113px,#ffca00 114px,#ff9400 117px,#fe7e00 121px,#fb7400 129.5px)"></i>
<i style="height:2px;background:linear-gradient(90deg,#9fe200 1.5px,#ade700 15px,#b6e900 16.5px,#f4fa00 19.5px,#fffa00 23px,#fff300 31px,#fafd00 38.5px,#e6f500 41.5px,#a8e500 47.5px,#7ed700 56px,#5fd000 63px,#38c600 68px,#12bc00 76px,#00b906 78.5px,#00e4a7 93px,#00ecb8 97.5px,#00e1a2 102px,#00d677 104px,#00b802 107px,#b0e800 111.5px,#f2f900 112.5px,#fff400 113px,#ffca00 114px,#ff9400 117px,#fe7e00 121px,#fb7400 129.5px)"></i>
<i style="height:2px;background:linear-gradient(90deg,#9ce100 1.5px,#aae600 14.5px,#b4e900 16.5px,#f3f900 19.5px,#fffb00 23.5px,#fff700 32px,#f8fc00 38.5px,#e1f400 41.5px,#a9e600 46.5px,#6ad300 57.5px,#4bcb00 64px,#2ac300 70px,#0abb00 76px,#00b905 77.5px,#00e1a2 91px,#00efbe 97px,#00e8b0 101px,#00df9d 103px,#00d470 104.5px,#00b904 107px,#aae600 111.5px,#c7ee00 112px,#eef800 112.5px,#fff500 113px,#ffca00 114px,#ff9400 117px,#fe7e00 121px,#fb7400 129.5px)"></i>
<i style="height:2px;background:linear-gradient(90deg,#99e000 1.5px,#a7e500 14px,#b2e900 16.5px,#f2f900 19.5px,#fffb00 24.5px,#fffd00 34.5px,#eef800 40px,#aae600 45.5px,#5dcf00 57.5px,#0cbb00 75px,#00ba08 77px,#00e1a2 89.5px,#00f1c6 98px,#00e2a4 103px,#00db8e 104px,#00ba07 107px,#33c500 108.5px,#a4e400 111.5px,#c0ec00 112px,#eaf600 112.5px,#fff600 113px,#ffca00 114px,#ff9400 117px,#fe7e00 121px,#fb7400 129.5px)"></i>
<i style="height:2px;background:linear-gradient(90deg,#96df00 1.5px,#a4e400 13.5px,#b1e800 16.5px,#f1f800 19.5px,#fffc00 25.5px,#f8fc00 37px,#eaf700 40px,#a7e500 45px,#50cc00 57.5px,#0abb00 74.5px,#00b904 76px,#00e1a1 88px,#00f4d2 98px,#00e7af 102.5px,#00de99 104px,#00ba09 107px,#1fc000 108px,#9fe200 111.5px,#b9ea00 112px,#e5f500 112.5px,#fff700 113px,#ffca00 114px,#ff9a00 116.5px,#ff8300 119.5px,#fb7400 128.5px,#fb7400 129.5px)"></i>
<i style="height:2px;background:linear-gradient(90deg,#93de00 1.5px,#a0e300 13px,#afe800 16.5px,#eff800 19.5px,#fffd00 27.5px,#f4fa00 38px,#e0f400 40.5px,#a5e400 44.5px,#45c900 57px,#08ba00 74px,#00b906 75.5px,#00e0a0 86.5px,#00f3cd 94.5px,#00f7dd 98.5px,#00e5aa 103.5px,#00e1a2 104px,#00cf5a 105.5px,#00bb0c 107px,#0abb00 107.5px,#99e000 111.5px,#b2e900 112px,#e1f400 112.5px,#fff800 113px,#ffca00 114px,#ff9a00 116.5px,#ff8300 119.5px,#fb7400 128.5px,#fb7400 129.5px)"></i>
<i style="height:2px;background:linear-gradient(90deg,#8ddc00 1.5px,#9be100 13px,#aae600 16.5px,#e8f600 19.5px,#fbfd00 26px,#eff800 38px,#d8f200 40.5px,#9de200 44.5px,#3dc700 57px,#05b900 74px,#00be17 76.5px,#00e09e 85.5px,#00f9e4 97.5px,#00f6da 100px,#00e2a4 104px,#00d678 105px,#00bb0b 107px,#0bbb00 107.5px,#98e000 111.5px,#b1e800 112px,#e0f400 112.5px,#fff800 113px,#ffca00 114px,#ff9a00 116.5px,#ff8300 119.5px,#fb7400 128.5px,#fb7400 129.5px)"></i>
<i style="height:2px;background:linear-gradient(90deg,#84d900 1.5px,#92de00 13px,#a1e300 16.5px,#ddf300 20px,#f3f900 25.5px,#eaf600 36px,#d7f200 39.5px,#94df00 44.5px,#3dc700 56.5px,#05b900 74px,#00be17 76.5px,#00df9d 85px,#00f9e5 97px,#00f8e0 99.5px,#00e0a1 104px,#00ba07 107px,#34c500 108.5px,#9fe200 111.5px,#b8ea00 112px,#e5f500 112.5px,#fff700 113px,#ffca00 114px,#ff9a00 116.5px,#ff8300 119.5px,#fb7400 128.5px,#fb7400 129.5px)"></i>
<i style="height:2px;background:linear-gradient(90deg,#79d600 1.5px,#8adb00 13px,#98e000 16.5px,#ceef00 20px,#e9f600 25.5px,#dff400 35.5px,#c9ee00 39.5px,#87da00 45px,#3ec700 56px,#08ba00 73.5px,#00b905 75px,#00e0a1 85px,#00f9e7 96.5px,#00f8e0 99.5px,#00df9a 104px,#00b903 107px,#a5e400 111.5px,#bfec00 112px,#e9f600 112.5px,#fff600 113px,#ffca00 114px,#ff9400 117px,#fe7e00 121px,#fb7400 129.5px)"></i>
<i style="height:2px;background:linear-gradient(90deg,#6dd300 1.5px,#7cd700 11.5px,#94df00 17px,#c7ee00 21px,#ddf300 25.5px,#d1f000 36px,#bceb00 39.5px,#79d600 45.5px,#3bc700 56px,#08ba00 73.5px,#00b905 75px,#00e2a3 85px,#00fae8 96px,#00f8e1 99.5px,#00e2a4 103.5px,#00d77c 104.5px,#02b900 107px,#abe600 111.5px,#c6ee00 112px,#eef700 112.5px,#fff500 113px,#ffca00 114px,#ff9400 117px,#fe7e00 121px,#fb7400 129.5px)"></i>
<i style="height:2px;background:linear-gradient(90deg,#61d000 1.5px,#70d400 11.5px,#8adb00 17px,#c2ec00 22px,#d1f000 26px,#c2ec00 37px,#98e000 41.5px,#6bd300 46px,#36c500 57px,#08ba00 73.5px,#00b905 75px,#00e1a2 84.5px,#00faea 95px,#00f9e5 99px,#00f3cc 101px,#00e0a1 103.5px,#00bc10 106.5px,#07ba00 107px,#b1e800 111.5px,#f1f900 112.5px,#fff400 113px,#ffca00 114px,#ff9400 117px,#fe7e00 121px,#fb7400 129.5px)"></i>
<i style="height:2px;background:linear-gradient(90deg,#55cd00 1.5px,#64d100 11.5px,#80d800 17px,#bdeb00 23px,#c5ed00 28px,#b0e800 38px,#62d100 45.5px,#33c500 57.5px,#08ba00 73.5px,#00b905 75px,#00e2a4 84.5px,#00fbec 94.5px,#00fae8 98.5px,#00f5d6 100.5px,#00df9c 103.5px,#00bb0b 106.5px,#0bbb00 107px,#b9ea00 111.5px,#f4fa00 112.5px,#fff300 113px,#ffca00 114px,#ff9400 117px,#fe7e00 121px,#fb7400 129.5px)"></i>
<i style="height:2px;background:linear-gradient(90deg,#49ca00 1.5px,#56ce00 11px,#73d500 17px,#ade700 22.5px,#b9ea00 26px,#a6e500 38px,#6dd300 43px,#52cd00 46.5px,#25c100 63px,#08ba00 73.5px,#00b905 75px,#00d46f 81px,#00e3a7 84.5px,#00fbef 94px,#00faec 98px,#00f5d6 100.5px,#00de96 103.5px,#00b906 106.5px,#75d500 109.5px,#c0ec00 111.5px,#f7fb00 112.5px,#fff200 113px,#ffca00 114px,#ff9400 117px,#ff8000 120.5px,#fb7400 129.5px)"></i>
<i style="height:2px;background:linear-gradient(90deg,#3dc700 1.5px,#4bcb00 11px,#66d100 17px,#a7e500 23px,#ade700 28px,#9ce100 38px,#6dd300 42px,#4dcb00 45px,#0bbb00 73px,#00b906 75px,#00d269 80.5px,#00e2a4 84px,#00fcf2 93.5px,#00fbf0 97.5px,#00f5d7 100.5px,#00e2a3 103px,#00b801 106.5px,#9de200 110.5px,#fafd00 112.5px,#ffdc00 113.5px,#ffb400 115px,#ff8a00 118px,#fb7400 126.5px,#fb7400 129.5px)"></i>
<i style="height:2px;background:linear-gradient(90deg,#35c500 1.5px,#43c900 11.5px,#5fd000 17.5px,#9ae100 23px,#a0e300 28px,#8edd00 38px,#6bd300 41px,#41c800 44.5px,#03b900 72px,#00bb0b 74.5px,#00cb4c 78.5px,#00e2a4 83.5px,#00fdf8 93px,#00fdf7 96.5px,#00f4d2 100.5px,#00df9e 103px,#00bc0f 106px,#06b900 106.5px,#a1e300 110.5px,#fcfe00 112.5px,#ffbe00 114.5px,#ff9400 117px,#ff8000 120.5px,#fb7400 129.5px)"></i>
<i style="height:2px;background:linear-gradient(90deg,#31c400 1.5px,#41c800 13px,#59ce00 18px,#8bdc00 23px,#8ddc00 29.5px,#79d600 38px,#2ec400 44.5px,#00b802 66px,#00c126 74.5px,#00d36b 79px,#00e2a3 82.5px,#00f2c7 86.5px,#00fffe 92px,#21efff 93.5px,#24eeff 94.5px,#03feff 96px,#00f4d1 100px,#00e1a2 102.5px,#00b906 106px,#82d900 109.5px,#b7ea00 111px,#ff0 112.5px,#ffca00 114px,#ff9400 117px,#ff8000 120.5px,#fb7400 129.5px)"></i>
<i style="height:2px;background:linear-gradient(90deg,#2ec300 1.5px,#3ec700 14.5px,#52cc00 18.5px,#7ed700 24px,#66d100 37px,#33c500 42px,#18be00 45.5px,#00b903 57.5px,#00c32c 71px,#00cb4b 75.5px,#00e2a5 81.5px,#00f1c5 85.5px,#00fdf5 89.5px,#00fffe 90.5px,#40dfff 92.5px,#40dfff 95px,#37e5ff 95.5px,#05fdff 96.5px,#00f2c8 100px,#00e2a4 102px,#00bc10 105.5px,#04b900 106px,#b9ea00 111px,#eff800 112px,#fffd00 112.5px,#ffbf00 114.5px,#ff8f00 117.5px,#fc7800 123.5px,#fb7400 129.5px)"></i>
<i style="height:2px;background:linear-gradient(90deg,#2ac200 1.5px,#3bc700 16.5px,#67d200 24px,#49ca00 37.5px,#07ba00 45px,#00bb0b 51px,#00c32d 65.5px,#00d05f 75px,#00e1a3 80px,#00f1c4 84.5px,#00fefc 89px,#09fbff 89.5px,#40dfff 91px,#40d3ff 94px,#3de2ff 96px,#00fefc 97px,#00de9a 102px,#00b904 105.5px,#bceb00 111px,#f2f900 112px,#fffb00 112.5px,#ffbf00 114.5px,#ff8f00 117.5px,#fc7800 123.5px,#fb7400 129.5px)"></i>
<i style="height:2px;background:linear-gradient(90deg,#26c100 1.5px,#35c500 17.5px,#51cc00 24.5px,#2ac200 38.5px,#00b802 43.5px,#00c123 53px,#00c841 65px,#00d77b 75px,#00e3a6 79px,#00f1c5 83.5px,#0ff 88px,#40e0ff 89.5px,#40caff 94px,#40dcff 96px,#2fe8ff 96.5px,#01ffff 97px,#00e0a0 101.5px,#00bf1e 104.5px,#07ba00 105.5px,#a8e500 110.5px,#f4fa00 112px,#fff900 112.5px,#ffbf00 114.5px,#ff8f00 117.5px,#fd7900 123px,#fb7400 129.5px)"></i>
<i style="height:2px;background:linear-gradient(90deg,#22c100 1.5px,#2ec400 18.5px,#3ac700 25px,#12bc00 38.5px,#00b905 41.5px,#00c229 48px,#00cd55 64.5px,#00df9c 75.5px,#00f2c9 82.5px,#00fefb 86.5px,#07fcff 87px,#39e3ff 88px,#40d3ff 90px,#40c2ff 94px,#40dfff 96.5px,#0df9ff 97px,#00fdf6 97.5px,#00ecb8 100px,#00e2a4 101px,#00bc10 104.5px,#02b800 105px,#a9e600 110.5px,#f6fb00 112px,#fff700 112.5px,#ffbf00 114.5px,#ff9000 117.5px,#fd7900 123px,#fb7400 129.5px)"></i>
<i style="height:2px;background:linear-gradient(90deg,#1ec000 1.5px,#23c100 25.5px,#00b904 38px,#00c73d 48.5px,#00d269 64px,#00e3a5 74px,#00f1c5 80.5px,#00fefc 85.5px,#0ef8ff 86px,#40e0ff 87px,#40b9ff 93.5px,#40c9ff 95.5px,#40dcff 96.5px,#1af2ff 97px,#00fdf7 97.5px,#00eab4 100px,#00df9d 101px,#00bd14 104px,#00b902 104.5px,#abe600 110.5px,#f9fc00 112px,#ffe500 113px,#ffb600 115px,#ff8b00 118px,#fb7500 126px,#fb7400 129.5px)"></i>
<i style="height:2px;background:linear-gradient(90deg,#1abf00 1.5px,#0fbc00 25px,#00ba07 32px,#00c636 43px,#00d05e 53.5px,#00d880 64px,#00e3a7 70.5px,#00f2c8 78.5px,#04fdff 84.5px,#35e5ff 85.5px,#40deff 86px,#40b0ff 93.5px,#40c4ff 95.5px,#40d8ff 96.5px,#27ecff 97px,#00fdf8 97.5px,#00e8b0 100px,#00dc90 101px,#00be18 103.5px,#00b905 104px,#ade700 110.5px,#fbfd00 112px,#ffb600 115px,#ff8b00 118px,#fb7500 126px,#fb7400 129.5px)"></i>
<i style="height:2px;background:linear-gradient(90deg,#10bc00 1.5px,#00b905 24px,#00c63a 41.5px,#00d36c 54.5px,#00dc8f 64px,#00e7ae 70px,#00f3cc 76.5px,#04fdff 83px,#40dfff 84.5px,#40b1ff 92.5px,#40b7ff 94.5px,#40ddff 96.5px,#04fdff 97px,#00eab4 99.5px,#00de9a 100.5px,#00ba0a 103.5px,#19be00 104.5px,#b1e800 110.5px,#fdfe00 112px,#ffc000 114.5px,#ff9100 117.5px,#fd7a00 122.5px,#fb7400 129.5px)"></i>
<i style="height:2px;background:linear-gradient(90deg,#00b903 1.5px,#00bc0f 7.5px,#00bf1c 14px,#00c226 33.5px,#00cc4f 46.5px,#00dc90 63.5px,#00ebb5 71px,#00f3cc 75px,#0ff 81px,#40e0ff 83px,#40b9ff 91px,#40bcff 94px,#40dfff 96px,#00fffe 96.5px,#00eebc 98.5px,#00df9d 100px,#00bc11 103px,#02b900 103.5px,#4bcb00 106px,#a9e600 110px,#d2f100 111px,#fffe00 112px,#ffc200 114.5px,#ff8e00 118px,#fc7500 125.5px,#fb7400 129.5px)"></i>
<i style="height:2px;background:linear-gradient(90deg,#00bd16 1.5px,#00c01f 6px,#00c73c 11.5px,#00c432 36.5px,#00d36d 55px,#00de98 64px,#00f2c9 73.5px,#0ff 79px,#37e4ff 80.5px,#40dcff 81.5px,#40bbff 90.5px,#40c6ff 94px,#3ee1ff 95.5px,#00fefc 96px,#00edbb 98px,#00df9e 99.5px,#00b904 103px,#62d100 106.5px,#b1e800 110px,#f2f900 111.5px,#fffc00 112px,#ffc300 114.5px,#ff9000 118px,#fc7500 125px,#fb7400 129.5px)"></i>
<i style="height:2px;background:linear-gradient(90deg,#00c229 1.5px,#00c432 5.5px,#00cf5d 11px,#00c945 27px,#00c638 37.5px,#00cf5a 50.5px,#00de99 63.5px,#00f2c9 72.5px,#03feff 77.5px,#32e7ff 78.5px,#40dfff 79px,#40bbff 88.5px,#40c6ff 93px,#40d8ff 94.5px,#35e5ff 95px,#00fefb 95.5px,#00edba 97.5px,#00df9d 99px,#00ba0a 102.5px,#1bbf00 103.5px,#85da00 107.5px,#bceb00 110px,#f6fb00 111.5px,#fffa00 112px,#ffbd00 115px,#ff8e00 118.5px,#fb7500 125.5px,#fb7400 129.5px)"></i>
<i style="height:2px;background:linear-gradient(90deg,#00c73b 1.5px,#00c942 5px,#00d880 11px,#00d574 18.5px,#00c73d 36px,#00cb4d 47.5px,#00dd93 62px,#00f2c7 71.5px,#00fefd 76px,#40deff 77.5px,#40c2ff 82.5px,#40baff 90px,#40d4ff 93.5px,#40dbff 94px,#2aebff 94.5px,#00fefb 95px,#00edba 97px,#00df9b 98.5px,#00bb0d 102px,#05b900 102.5px,#60d000 105.5px,#c7ee00 110px,#f9fc00 111.5px,#ffe200 113px,#ff9400 118px,#fd7800 123.5px,#fb7400 129.5px)"></i>
<i style="height:2px;background:linear-gradient(90deg,#00cc4e 1.5px,#00ce57 5px,#00e0a0 10.5px,#00de99 17px,#00c943 36px,#00ca49 47px,#00d983 59px,#0eb 69px,#00f8e2 73px,#00fefd 75px,#15f5ff 75.5px,#35e5ff 76px,#40ddff 76.5px,#40bcff 81px,#40b7ff 89.5px,#40d7ff 93px,#40deff 93.5px,#00fef9 94.5px,#00edbb 96.5px,#00df9a 98px,#00bc0f 101.5px,#02b900 102px,#6bd300 105.5px,#d1f000 110px,#fdfe00 111.5px,#ffa200 117px,#ff8400 120.5px,#fb7400 127.5px,#fb7400 129.5px)"></i>
<i style="height:2px;background:linear-gradient(90deg,#00d061 1.5px,#00d267 4.5px,#00e2a3 8.5px,#00eab3 12px,#00de9a 23px,#00cb4b 35.5px,#00c945 46px,#00d36c 55px,#00e9b2 66.5px,#00f3cd 70.5px,#00fefa 74px,#0cf9ff 74.5px,#30e8ff 75px,#40ddff 75.5px,#40b5ff 80px,#40b0ff 88px,#40c3ff 91px,#40dfff 93px,#12f6ff 93.5px,#00fdf7 94px,#00e9b2 96.5px,#00df9c 97.5px,#00bc0f 101px,#02b900 101.5px,#82d900 106px,#cef000 109.5px,#fffd00 111.5px,#ff9e00 117.5px,#ff8000 121.5px,#fb7400 128px,#fb7400 129.5px)"></i>
<i style="height:2px;background:linear-gradient(90deg,#00d575 1.5px,#00d77b 4.5px,#00e7ad 8px,#00f2ca 12px,#00df9a 26.5px,#00cd54 35px,#00c943 45px,#00cf5c 52.5px,#00e6ad 65px,#00f2ca 69.5px,#00fffe 73.5px,#40dfff 74.5px,#40adff 79.5px,#40a7ff 84.5px,#40b4ff 89.5px,#40deff 92.5px,#13f6ff 93px,#00fdf6 93.5px,#00eab4 96px,#00e09f 97px,#00c01e 100px,#04b900 101px,#81d800 105.5px,#d9f200 109.5px,#fbfd00 111px,#ff9000 119px,#fb7500 125.5px,#fb7400 129.5px)"></i>
<i style="height:2px;background:linear-gradient(90deg,#00db8d 1.5px,#00dd93 4.5px,#00f1c6 9px,#00f8e2 11px,#00f6d9 15.5px,#00ecb7 21.5px,#00df9a 28px,#00cf5c 35px,#00c943 45.5px,#00ce59 52.5px,#00e8af 65.5px,#00f3cc 69.5px,#00fefa 73px,#0df9ff 73.5px,#32e7ff 74px,#40dcff 74.5px,#40abff 79.5px,#40a7ff 84px,#40bdff 89.5px,#40daff 91.5px,#2aeaff 92px,#00fefb 92.5px,#00edbb 95px,#00df9e 96.5px,#00ba09 100px,#18be00 101px,#8cdc00 105.5px,#fafc00 110.5px,#ffef00 112px,#ff9000 119px,#fb7400 125.5px,#fb7400 129.5px)"></i>
<i style="height:2px;background:linear-gradient(90deg,#00e2a4 1.5px,#00e6ad 5.5px,#00f1c5 8px,#00fbed 10.5px,#00fbf0 13.5px,#00ecb8 22.5px,#00de99 29px,#00d060 36px,#00c944 46.5px,#00ce59 53.5px,#00f2c8 69.5px,#00fffe 73.5px,#40e0ff 74.5px,#40b4ff 79.5px,#40b1ff 83.5px,#40d5ff 89.5px,#40dcff 90px,#2ee9ff 90.5px,#00fffe 91px,#00edba 94px,#00e2a4 95.5px,#00c841 98px,#00b905 99.5px,#7ed800 104px,#d1f000 108px,#fafd00 110px,#ffe900 112px,#ff8e00 119px,#fb7300 125px,#fb7300 129.5px)"></i>
<i style="height:2px;background:linear-gradient(90deg,#00e9b2 1.5px,#00edb9 5.5px,#00f2c8 7px,#00fefc 10.5px,#0cf9ff 12px,#00fef9 14.5px,#00eebc 22.5px,#00de98 30px,#00d165 37px,#00c944 47px,#00cd56 54px,#00dd92 63px,#0eb 68.5px,#00fefa 73.5px,#09fbff 74px,#40dfff 75px,#40baff 80px,#40bcff 83.5px,#40dfff 88px,#0ef8ff 89px,#00fefa 89.5px,#00ecb7 93px,#00df9b 95px,#00b800 99px,#5fd000 102px,#a0e300 105px,#fcfd00 109.5px,#ffb300 115.5px,#ff8500 120px,#fb7200 126px,#fb7200 129.5px)"></i>
<i style="height:2px;background:linear-gradient(90deg,#00efbf 1.5px,#00f1c6 5px,#00fefc 9px,#3de1ff 10.5px,#3fe0ff 13.5px,#07fcff 15.5px,#00fbef 17.5px,#00efbe 23px,#00de99 31px,#00d061 39.5px,#00c943 47.5px,#00cc50 54px,#00d983 62.5px,#00e4a9 66px,#00f1c6 70px,#00fefd 74px,#40dfff 75.5px,#40c2ff 80.5px,#40c7ff 83.5px,#40dbff 85.5px,#3ae3ff 86px,#18f4ff 86.5px,#00fffd 87px,#00f2c8 90.5px,#00de98 94px,#00c535 97px,#05b900 98.5px,#68d200 101.5px,#9de200 104px,#f7fb00 108.5px,#fffa00 109.5px,#ff8e00 118.5px,#fb7200 124.5px,#fa7100 129.5px)"></i>
<i style="height:2px;background:linear-gradient(90deg,#00f6db 1.5px,#00f8e2 5px,#00fefd 7.5px,#12f6ff 8px,#2ee9ff 8.5px,#40deff 9px,#40d1ff 12px,#40dfff 15.5px,#1cf1ff 16.5px,#05fcff 17px,#00f1c3 23px,#00dd96 32.5px,#00ca48 45.5px,#00c942 51.5px,#00d36e 61px,#00dd95 64.5px,#00edba 69px,#00fffe 74.5px,#3ae3ff 76px,#40d5ff 78px,#40ccff 82.5px,#40dfff 84.5px,#00fefc 85.5px,#00edba 90px,#00e09f 92.5px,#00c73e 96px,#00ba08 97.5px,#1ec000 98.5px,#7ed700 101.5px,#fafd00 108px,#ffe800 110.5px,#ff8f00 118px,#fa7100 124px,#fa7000 129.5px)"></i>
<i style="height:2px;background:linear-gradient(90deg,#00fdf8 1.5px,#00fffd 5px,#08fbff 5.5px,#40dfff 7px,#40c6ff 11.5px,#40d8ff 16px,#40e0ff 17px,#0cf9ff 18px,#00fefc 18.5px,#00f0c0 24.5px,#00dd94 34px,#00c943 47px,#00c841 53px,#00d36b 62px,#00e3a6 66.5px,#00f1c6 70.5px,#00fefd 75px,#06fcff 75.5px,#40e0ff 77.5px,#40d8ff 82.5px,#3de2ff 83.5px,#17f4ff 84px,#00fefb 84.5px,#00f0c0 87.5px,#00de97 91.5px,#00c022 96px,#01b800 97px,#79d600 100.5px,#f8fc00 107px,#fff600 108.5px,#ff8d00 118px,#fa7000 124px,#fa6f00 129.5px)"></i>
<i style="height:2px;background:linear-gradient(90deg,#40d9ff 1.5px,#40cfff 6.5px,#40bcff 12px,#40d2ff 16.5px,#40e0ff 18px,#09fbff 19px,#00fdf5 20px,#00efbd 26px,#00dd94 35.5px,#00c943 47px,#00c73b 52.5px,#00cf5e 61.5px,#00d985 64.5px,#00e2a3 66.5px,#00f2ca 71px,#00fcf4 74.5px,#0ff 76.5px,#3ae3ff 80px,#3fe0ff 82px,#30e8ff 82.5px,#00fefc 83.5px,#00efbd 86.5px,#00de98 90px,#00bd15 95.5px,#00b906 96px,#2dc300 97.5px,#81d800 100px,#f6fb00 106px,#fff800 107.5px,#ff8a00 118px,#f96e00 124px,#f96e00 129.5px)"></i>
<i style="height:2px;background:linear-gradient(90deg,#40c3ff 1.5px,#40b3ff 13px,#40d6ff 18px,#3ce2ff 19px,#0ff 20px,#00f0bf 26.5px,#00dd96 36.5px,#00c840 47.5px,#00c636 53px,#00cd55 61.5px,#00d574 64px,#00e2a4 67px,#00f1c6 71px,#00fbef 74.5px,#0ff 82px,#00f8e2 84px,#00ecb8 86px,#00de99 88.5px,#00ba06 95px,#17be00 96px,#89db00 99.5px,#f5fa00 105px,#fff900 106.5px,#ffa800 114.5px,#ff8200 119px,#f96d00 124.5px,#f96d00 129.5px)"></i>
<i style="height:2px;background:linear-gradient(90deg,#40bcff 1.5px,#40b2ff 13.5px,#40d9ff 19px,#40deff 19.5px,#2ee9ff 20px,#10f7ff 20.5px,#00fefc 21px,#00eebd 28.5px,#00de97 37.5px,#00c842 47.5px,#00c533 53px,#00cb4b 61.5px,#00d267 64px,#00e0a1 67.5px,#00f7dd 75px,#00f8e2 82px,#00de98 87px,#02b900 94px,#58ce00 97px,#93de00 99px,#f7fb00 104px,#fff800 105.5px,#ff8400 118px,#f86a00 124px,#f86a00 129.5px)"></i>
<i style="height:2px;background:linear-gradient(90deg,#40c7ff 1.5px,#40b7ff 14px,#40dbff 20px,#40dfff 20.5px,#00fffd 22px,#00eebd 30px,#00de97 38.5px,#00ca46 47.5px,#00c431 53.5px,#00c83f 61.5px,#00cf5d 64.5px,#00e2a3 69.5px,#00eebc 75px,#00ecb9 82.5px,#00e0a1 85px,#00c639 89.5px,#00b904 92px,#51cc00 95.5px,#97e000 98px,#f0f800 102px,#fffd00 103.5px,#fe7c00 118.5px,#f76600 124px,#f76600 129.5px)"></i>
<i style="height:2px;background:linear-gradient(90deg,#40d2ff 1.5px,#40c2ff 10px,#40bdff 15.5px,#40deff 21.5px,#1ff0ff 22.5px,#00fffd 23.5px,#00eebd 31.5px,#00df9a 39px,#00ca47 48px,#00c32d 54.5px,#00c637 62.5px,#00e1a1 71.5px,#00e6ac 78px,#00e0a1 83px,#00ba07 90px,#19be00 91.5px,#f0f800 100.5px,#fffd00 102px,#fa7100 119.5px,#f66200 125px,#f66200 129.5px)"></i>
<i style="height:2px;background:linear-gradient(90deg,#40deff 1.5px,#40d1ff 8.5px,#40bdff 15px,#40d2ff 21px,#40deff 23px,#25edff 24px,#0ff 25px,#00eebc 33px,#00de98 40px,#00ca47 48.5px,#00c228 55.5px,#00c229 62.5px,#00d36c 69px,#00dd93 74px,#00dc8f 79.5px,#00d77c 82.5px,#00c229 86.5px,#01b800 88.5px,#caef00 97.5px,#f6fb00 99.5px,#fff300 101.5px,#fa6f00 119px,#f45e00 124.5px,#f45e00 129.5px)"></i>
<i style="height:2px;background:linear-gradient(90deg,#07fcff 1.5px,#0ef8ff 4.5px,#40dfff 7.5px,#40beff 15.5px,#40c9ff 21px,#3fe0ff 25px,#02feff 26.5px,#00eebd 34px,#00df9b 40.5px,#00c943 49.5px,#00c01f 57px,#00bf1e 63px,#00d268 72px,#00d470 77px,#00cc51 82.5px,#00bb0c 86px,#00b801 86.5px,#9de200 94px,#f6fb00 98px,#fff600 99.5px,#fa6f00 118px,#f35a00 124px,#f35a00 129.5px)"></i>
<i style="height:2px;background:linear-gradient(90deg,#00fcf2 1.5px,#04fdff 7.5px,#3fe0ff 9.5px,#40bcff 16.5px,#40c5ff 22px,#40e0ff 26.5px,#0ff 28px,#0eb 35.5px,#00de97 41.5px,#00c73a 51px,#00bd15 58px,#00bc11 63.5px,#00ca48 71.5px,#00cb4c 77.5px,#00c227 82.5px,#06ba00 85px,#90dd00 91.5px,#d7f200 95px,#feff00 97px,#ffc100 104.5px,#f96d00 117.5px,#f25600 123.5px,#f25500 129.5px)"></i>
<i style="height:2px;background:linear-gradient(90deg,#00f8e3 1.5px,#00fbed 6.5px,#04fdff 9.5px,#40dfff 11px,#40b9ff 17px,#40bcff 22px,#3fe0ff 28px,#0ef8ff 29px,#00fefd 29.5px,#0eb 36.5px,#00de98 42px,#00c42f 52.5px,#00ba09 59.5px,#00b903 64.5px,#00c32a 71px,#00c229 77.5px,#02b900 82.5px,#66d200 87.5px,#dcf300 93.5px,#fffe00 95.5px,#ffc700 101.5px,#f96e00 116.5px,#f15200 123px,#f05100 129.5px)"></i>
<i style="height:2px;background:linear-gradient(90deg,#00f5d5 1.5px,#00f8e0 6.5px,#00fffe 10.5px,#40deff 12px,#40b3ff 18px,#40b7ff 23px,#40deff 29px,#33e6ff 29.5px,#0ff 30.5px,#00edba 37.5px,#00de9a 42.5px,#00bf1d 54.5px,#03b900 60px,#0ebc00 65px,#00b904 68px,#00bc0f 72px,#05b900 79px,#3cc700 83.5px,#94df00 88px,#fcfe00 93.5px,#ffbc00 101px,#f96d00 115.5px,#ef4f00 122.5px,#ef4e00 129.5px)"></i>
<i style="height:2px;background:linear-gradient(90deg,#00efbe 1.5px,#00f2c8 6.5px,#00faeb 10.5px,#04fdff 12px,#27ecff 12.5px,#40deff 13px,#40b6ff 17.5px,#40b0ff 22px,#40d2ff 28.5px,#40deff 30px,#33e6ff 30.5px,#0ff 31.5px,#00edba 38.5px,#00dd93 44px,#00b905 57px,#20c000 65.5px,#10bc00 71px,#1fc000 78px,#58ce00 83px,#d3f100 90px,#feff00 92.5px,#ffbc00 99.5px,#f96e00 114.5px,#ed4c00 122.5px,#ed4c00 129.5px)"></i>
<i style="height:2px;background:linear-gradient(90deg,#00e7ae 1.5px,#00eebc 9px,#00f8e1 11.5px,#00fffe 13px,#28ecff 13.5px,#40ddff 14px,#40b9ff 18px,#40b3ff 23px,#40d7ff 30px,#40dfff 31px,#19f3ff 32px,#02feff 32.5px,#00edba 39.5px,#00dd92 45.5px,#00c125 54px,#00b801 57px,#32c400 65px,#35c500 74.5px,#47ca00 79px,#90dd00 85px,#d7f200 89.5px,#feff00 92px,#ffbd00 99px,#f96c00 114.5px,#ed4b00 122px,#ec4a00 129.5px)"></i>
<i style="height:2px;background:linear-gradient(90deg,#00df9c 1.5px,#00e5aa 8.5px,#00f0bf 11px,#00fdf9 13.5px,#15f5ff 14px,#40dfff 14.5px,#40bcff 18.5px,#40b6ff 24px,#40d7ff 31px,#40deff 32px,#36e5ff 32.5px,#0bfaff 33.5px,#00fefd 34px,#00eebc 40.5px,#00de98 46.5px,#00cb4c 52px,#00b801 56.5px,#43c900 65px,#65d100 78.5px,#aee700 86px,#ff0 91.5px,#ffba00 99px,#fa7000 113.5px,#ec4b00 121.5px,#eb4900 129.5px)"></i>
<i style="height:2px;background:linear-gradient(90deg,#00d67a 1.5px,#00d984 6.5px,#00df9c 9px,#00f0c1 12px,#00fdf6 14px,#0df9ff 14.5px,#3de1ff 15px,#40bfff 19px,#40b7ff 25px,#40d5ff 32px,#40e0ff 33.5px,#04fdff 35px,#00edbb 42px,#00dd96 48px,#00d061 51.5px,#00b905 56px,#5dcf00 66px,#75d500 72px,#8ddc00 80px,#b5e900 85px,#fcfe00 90.5px,#ffb500 99.5px,#fb7500 112.5px,#ec4a00 121px,#ea4800 129.5px)"></i>
<i style="height:2px;background:linear-gradient(90deg,#00ce58 1.5px,#00d062 6.5px,#00d573 8.5px,#00e4a8 11px,#00f3cc 13px,#00fdf6 14.5px,#0cf9ff 15px,#37e4ff 15.5px,#40d7ff 16.5px,#40baff 21.5px,#40bbff 28px,#3fe0ff 35px,#00fffe 36.5px,#00eebd 43px,#00de99 49px,#00d36d 51.5px,#00b902 56px,#53cd00 63px,#8adb00 69px,#a7e500 80.5px,#d2f100 85.5px,#ff0 90px,#ffb500 99px,#fc7700 112px,#ec4a00 120.5px,#e94600 129.5px)"></i>
<i style="height:2px;background:linear-gradient(90deg,#00c638 1.5px,#00c842 6.5px,#00cd53 8.5px,#00da87 10.5px,#00e7ad 12px,#00f3cd 13.5px,#00fdf7 15px,#09fbff 15.5px,#2beaff 16px,#40dfff 16.5px,#40bdff 21.5px,#40b7ff 28px,#40daff 35.5px,#3be2ff 36.5px,#0df9ff 37.5px,#00fefd 38px,#00edbb 45px,#00de9a 50px,#00cc50 53px,#00b800 56px,#43c900 60.5px,#9ee200 68.5px,#c6ed00 81px,#fffe00 89px,#ffc900 95.5px,#ff9f00 103.5px,#fd7900 111.5px,#eb4a00 120px,#e84500 129.5px)"></i>
<i style="height:2px;background:linear-gradient(90deg,#00be18 1.5px,#00c022 6.5px,#00c534 8.5px,#00d36c 10.5px,#00e2a3 12px,#00f0bf 13.5px,#00fdf7 15.5px,#0ff 16px,#3be3ff 17px,#40bdff 22px,#40b3ff 28.5px,#40d3ff 36px,#40deff 37.5px,#37e4ff 38px,#09fbff 39px,#00fdf7 40px,#0eb 46.5px,#00e09f 50.5px,#00c637 54px,#03b900 56px,#4ecb00 60.5px,#c3ed00 70px,#e8f600 82px,#fffc00 87.5px,#ffd800 93.5px,#ffaf00 99px,#fe7c00 111px,#ee4d00 118.5px,#e64300 127px,#e64300 129.5px)"></i>
<i style="height:2px;background:linear-gradient(90deg,#08ba00 1.5px,#00b904 7px,#00bd15 8.5px,#00cd52 10.5px,#00e2a4 12.5px,#00f1c3 14px,#00fbee 15.5px,#00fefc 16.5px,#10f7ff 17px,#2ee9ff 17.5px,#40deff 18px,#40b6ff 24px,#40b0ff 30px,#40d3ff 37.5px,#40deff 39px,#37e5ff 39.5px,#09fbff 40.5px,#00fdf7 41.5px,#00ebb7 48.5px,#00e0a1 51px,#00ba08 55.5px,#13bd00 56.5px,#76d600 62.5px,#b6e900 67px,#dff400 69.5px,#f4fa00 77px,#fffa00 85px,#ffdc00 92.5px,#ffaf00 98.5px,#fe7e00 110.5px,#ee4e00 118px,#e54200 126px,#e54200 129.5px)"></i>
<i style="height:2px;background:linear-gradient(90deg,#21c000 1.5px,#16be00 6.5px,#02b800 8.5px,#00c32b 10px,#00e3a5 13px,#00f4d2 15px,#00fffe 17.5px,#40e0ff 18.5px,#40b8ff 24px,#40aeff 30px,#40ccff 37.5px,#40deff 40px,#38e4ff 40.5px,#0cf9ff 41.5px,#00fefd 42px,#00e2a4 51px,#00d576 52.5px,#00ba08 55.5px,#14bd00 56.5px,#75d500 62px,#b7ea00 66.5px,#f0f800 69.5px,#fffc00 80.5px,#ffe000 91.5px,#ffae00 98.5px,#fe7e00 110.5px,#ef4f00 117.5px,#e54100 125px,#e54100 129.5px)"></i>
<i style="height:2px;background:linear-gradient(90deg,#32c400 1.5px,#29c200 6px,#10bc00 8.5px,#04b900 9px,#00c32d 10.5px,#00e2a4 13.5px,#00fefb 18px,#16f4ff 18.5px,#3be2ff 19px,#40bcff 24px,#40b0ff 30px,#40caff 37.5px,#40deff 40.5px,#37e4ff 41px,#0cf9ff 42px,#00fffd 42.5px,#00e2a5 51px,#00d576 52.5px,#00ba0a 55.5px,#12bc00 56.5px,#7cd700 62.5px,#b7ea00 66.5px,#ebf700 69px,#fbfd00 74px,#fff200 86px,#ffd900 92.5px,#ffac00 99px,#fe7e00 110.5px,#ef4f00 117.5px,#e54100 125px,#e54100 129.5px)"></i>
<i style="height:2px;background:linear-gradient(90deg,#43c900 1.5px,#39c600 6px,#1ebf00 8.5px,#04b900 9.5px,#00cd56 12px,#00e1a3 14px,#00f4cf 16.5px,#00fefb 18.5px,#17f4ff 19px,#3be2ff 19.5px,#40bbff 25px,#40b3ff 31.5px,#40d4ff 39.5px,#40deff 41px,#37e4ff 41.5px,#00fffe 43px,#00f2c8 48px,#00df9a 51.5px,#00bb0b 55.5px,#03b900 56px,#5bcf00 60.5px,#b8ea00 66.5px,#ecf700 69px,#fdfe00 75px,#ffec00 88px,#ffd100 93.5px,#fa0 99.5px,#fe7e00 110.5px,#ef4f00 117.5px,#e54100 125px,#e54100 129.5px)"></i>
<i style="height:2px;background:linear-gradient(90deg,#55cd00 1.5px,#4dcb00 5.5px,#35c500 8px,#03b900 10px,#00d77b 13.5px,#00e0a1 14.5px,#00f3cd 17px,#00fefc 19px,#3be3ff 20px,#40bdff 25.5px,#40b5ff 32px,#40d4ff 40px,#40deff 41.5px,#39e3ff 42px,#00fffe 43.5px,#00f3cd 48px,#00df9b 51.5px,#00bb0d 55.5px,#01b800 56px,#5ace00 60.5px,#b8ea00 66.5px,#edf700 69px,#feff00 75.5px,#ffe900 89px,#ffc900 94.5px,#ffa100 102px,#fe7e00 110.5px,#ef4f00 117.5px,#e54100 125px,#e54100 129.5px)"></i>
<i style="height:2px;background:linear-gradient(90deg,#67d200 1.5px,#5ecf00 5.5px,#43c900 8px,#03b900 10.5px,#00d677 14px,#00e09f 15px,#00f0bf 17px,#00fffe 19.5px,#36e5ff 20.5px,#40d9ff 21.5px,#40b8ff 28px,#40bbff 35px,#3ce2ff 42.5px,#0ff 44px,#00f4d2 48px,#00df9b 51.5px,#00bc0f 55.5px,#00b801 56px,#61d000 61px,#b8ea00 66.5px,#eef700 69px,#ff0 76px,#ffe800 89px,#ffc900 94.5px,#ff9f00 102.5px,#fd7900 111px,#ee4d00 118px,#e54100 126px,#e54100 129.5px)"></i>
<i style="height:2px;background:linear-gradient(90deg,#79d600 1.5px,#73d500 5px,#52cc00 8px,#04b900 11px,#00cb4d 13.5px,#00df9d 15.5px,#00f1c2 17.5px,#00fdf7 19.5px,#00fffe 20px,#31e7ff 21px,#40deff 21.5px,#40bbff 28px,#40baff 35px,#40e0ff 43px,#02feff 44.5px,#00f5d7 48px,#00eab4 50px,#00df9b 51.5px,#00bc10 55.5px,#00b902 56px,#81d800 63px,#b9ea00 66.5px,#eff800 69px,#fffe00 76px,#ffe800 89px,#ffc600 95px,#ff9b00 104px,#fd7900 111px,#ee4d00 118px,#e54100 126px,#e54100 129.5px)"></i>
<i style="height:2px;background:linear-gradient(90deg,#88db00 1.5px,#80d800 5.5px,#61d000 8px,#07ba00 11.5px,#00be16 12.5px,#00d573 15px,#00e09e 16px,#00f2c8 18px,#00fcf1 19.5px,#00fffe 20.5px,#40dfff 22px,#40bcff 28.5px,#40bbff 35.5px,#40dfff 43.5px,#05fdff 45px,#00f7dc 48px,#00e7ae 50.5px,#00df9c 51.5px,#00bc12 55.5px,#08ba00 56.5px,#88db00 63.5px,#b9ea00 66.5px,#f0f800 69px,#fffe00 76px,#ffe900 88.5px,#ffc600 95px,#ff9b00 104px,#fd7900 111px,#ee4d00 118px,#e54100 126px,#e54100 129.5px)"></i>
<i style="height:2px;background:linear-gradient(90deg,#96df00 1.5px,#8ddc00 5.5px,#78d600 7.5px,#27c200 11px,#00b801 12.5px,#00ca49 14.5px,#00e1a1 16.5px,#00f4d0 18.5px,#00fcf2 20px,#00fefd 21px,#27ecff 22px,#3fe0ff 22.5px,#40bdff 29px,#40bcff 36.5px,#40dfff 44px,#1ef1ff 45px,#08fbff 45.5px,#00fdf7 46.5px,#00f5d6 48.5px,#00e7af 50.5px,#00df9c 51.5px,#00bd13 55.5px,#06ba00 56.5px,#87da00 63.5px,#baea00 66.5px,#f1f800 69px,#fffe00 75.5px,#ffea00 88px,#ffc700 95px,#f90 104.5px,#fc7500 111.5px,#ec4b00 118.5px,#e54100 127px,#e54100 129.5px)"></i>
</div>
<svg width="960" height="600" viewBox="0 0 960 600">
<circle cx="230.5" cy="311.5" r="9.5" fill="#fff"/>
<g stroke="#000" stroke-width="1" fill="none">
<circle cx="230.5" cy="311.5" r="47.7"/>
<circle cx="230.5" cy="311.5" r="95.3"/>
<circle cx="230.5" cy="311.5" r="143.0"/>
<path d="M39.5 311.5H219.5M241.5 311.5H421.5M230.5 120.5V300.5M230.5 322.5V502.5"/>
<path d="M238.3 303.7L365.6 176.4M222.7 303.7L95.4 176.4M222.7 319.3L95.4 446.6M238.3 319.3L365.6 446.6"/>
<path d="M323.3 333.3L327.7 334.3M420.3 356.0L425.2 357.2M315.9 353.9L319.9 355.9M405.2 398.2L409.6 400.4M303.9 372.3L307.4 375.1M380.7 435.8L384.6 439.0M288.1 387.4L290.8 391.0M348.4 466.8L351.4 470.8M269.3 398.6L271.1 402.7M309.8 489.7L311.8 494.2M248.3 405.1L249.2 409.5M267.0 503.1L267.9 508.0M226.5 406.7L226.3 411.2M222.3 506.3L222.1 511.3M204.9 403.3L203.6 407.6M178.0 499.3L176.7 504.1M184.6 395.0L182.4 398.9M136.5 482.4L134.1 486.7M166.7 382.3L163.7 385.7M100.0 456.4L96.6 460.1M152.2 365.9L148.5 368.4M70.3 422.7L66.2 425.6M141.9 346.6L137.7 348.2M49.2 383.2L44.5 385.1M136.2 325.4L131.8 326.0M37.6 339.9L32.6 340.7M135.5 303.5L131.1 303.1M36.2 295.1L31.2 294.7M139.9 282.0L135.6 280.6M45.1 251.2L40.3 249.6M149.0 262.1L145.2 259.8M63.7 210.4L59.5 207.8M162.4 244.8L159.2 241.6M91.2 175.0L87.7 171.5M179.5 231.0L177.1 227.2M126.1 146.8L123.4 142.6M199.2 221.5L197.7 217.2M166.5 127.3L164.8 122.6M220.6 216.7L220.1 212.2M210.2 117.6L209.7 112.6M242.5 217.0L243.1 212.5M255.0 118.0L255.7 113.1M263.8 222.2L265.3 218.0M298.6 128.8L300.3 124.1M283.3 232.2L285.8 228.4M338.5 149.1L341.3 145.0M300.0 246.3L303.3 243.2M372.7 178.1L376.4 174.7M313.1 263.9L317.0 261.6M399.4 214.1L403.8 211.6M321.7 284.0L326.1 282.7M417.2 255.2L422.0 253.8M325.6 305.6L330.1 305.3M425.1 299.4L430.1 299.1"/>
</g>
<path d="M229.0 326.0C228.0 328.3 225.9 335.3 222.9 340.0C219.9 344.7 216.3 350.2 211.0 354.1C205.7 357.9 200.7 361.2 191.0 363.0C181.3 364.8 165.0 366.9 152.7 365.0C140.4 363.1 128.2 358.2 117.4 351.6C106.5 344.9 95.6 334.3 87.5 325.0C79.5 315.7 74.3 306.4 69.2 296.0C64.2 285.6 59.9 272.4 57.5 262.5C55.1 252.7 55.2 241.1 54.7 236.9" fill="none" stroke="#fff" stroke-width="1.7"/>
<path d="M239.0 301.0C241.0 299.8 246.7 295.8 251.0 294.0C255.4 292.1 260.3 290.7 264.9 290.0C269.6 289.2 274.7 289.2 279.0 289.5C283.4 289.8 285.7 290.1 291.0 292.0C296.4 293.8 305.2 296.8 311.0 300.3C316.9 303.9 319.9 305.7 326.0 313.2C332.1 320.6 342.9 334.2 347.8 345.1C352.6 356.1 353.8 368.8 355.0 378.8C356.2 388.8 356.0 395.9 355.0 405.3C354.1 414.7 351.6 425.9 349.3 435.4C346.9 444.8 342.4 457.5 341.0 462.0" fill="none" stroke="#fff" stroke-width="5"/>
<path d="M239.0 301.0C241.0 299.8 246.7 295.8 251.0 294.0C255.4 292.1 260.3 290.7 264.9 290.0C269.6 289.2 274.7 289.2 279.0 289.5C283.4 289.8 285.7 290.1 291.0 292.0C296.4 293.8 305.2 296.8 311.0 300.3C316.9 303.9 319.9 305.7 326.0 313.2C332.1 320.6 342.9 334.2 347.8 345.1C352.6 356.1 353.8 368.8 355.0 378.8C356.2 388.8 356.0 395.9 355.0 405.3C354.1 414.7 351.6 425.9 349.3 435.4C346.9 444.8 342.4 457.5 341.0 462.0" fill="none" stroke="#000" stroke-width="3.8" stroke-dasharray="6.5 6.5"/>
<path d="M342.69 468.79A193.2 193.2 0 1 0 56.85 226.81" fill="none" stroke="#f00" stroke-width="4.4"/>
<path d="M52.01 237.57A193.2 193.2 0 0 0 334.31 474.44" fill="none" stroke="#00f" stroke-width="4.4"/>
<path d="M57.60 225.29A193.2 193.2 0 0 0 51.37 239.13" fill="none" stroke="#000" stroke-width="4.4"/>
<path d="M332.88 475.34A193.2 193.2 0 0 0 344.06 467.80" fill="none" stroke="#000" stroke-width="4.4"/>
<path d="M237.06 304.22A9.8 9.8 0 1 0 229.65 321.26" fill="none" stroke="#f00" stroke-width="3.6"/>
<path d="M229.65 321.26A9.8 9.8 0 0 0 237.06 304.22" fill="none" stroke="#00f" stroke-width="3.6"/>
<rect x="187.1" y="313.7" width="12.4" height="11" fill="#ffa500" stroke="#000" stroke-width="1.6"/>
<ellipse cx="196.3" cy="317" rx="5.6" ry="5.2" fill="#ffa500" stroke="#000" stroke-width="1.6"/>
<ellipse cx="250.5" cy="245" rx="5.6" ry="5.2" fill="#008000" stroke="#000" stroke-width="1.6"/>
<ellipse cx="326" cy="313" rx="5.6" ry="5.2" fill="#ff0" stroke="#000" stroke-width="1.6"/>
<ellipse cx="99.5" cy="291.5" rx="5.6" ry="5.2" fill="#f00" stroke="#000" stroke-width="1.6"/>
<rect x="228.8" y="214.5" width="12.4" height="11" fill="#f00" stroke="#000" stroke-width="1.6"/>
<rect x="216.3" y="403.5" width="12.4" height="11" fill="#00f" stroke="#000" stroke-width="1.6"/>
<g stroke="#000" stroke-width="1" fill="none">
<path d="M480.5 119.5V503.5M480.5 119.5A192 192 0 0 1 480.5 503.5"/>
<path d="M480.5 263.8A47.7 47.7 0 0 1 480.5 359.2"/>
<path d="M480.5 216.2A95.3 95.3 0 0 1 480.5 406.8"/>
<path d="M480.5 168.5A143.0 143.0 0 0 1 480.5 454.5"/>
<path d="M480.5 311.5H672.5M486.9 305.1L615.6 176.4M486.9 317.9L615.6 446.6"/>
</g>
<path d="M489.2 317.5C491.8 318.8 499.6 322.5 505.0 325.0C510.4 327.5 516.2 330.4 521.7 332.5C527.2 334.6 533.6 336.6 538.3 337.5C543.0 338.4 546.4 338.7 550.0 338.0C553.6 337.3 557.0 335.2 560.0 333.3C563.0 331.4 565.9 328.4 568.3 326.7C570.7 325.0 572.2 325.2 574.2 323.3C576.2 321.4 578.5 317.5 580.0 315.0C581.5 312.5 581.9 311.4 583.3 308.3C584.7 305.2 587.3 304.2 588.3 296.7C589.3 289.2 588.9 271.6 589.2 263.3C589.5 255.0 589.3 251.1 590.0 246.7C590.7 242.3 591.6 241.4 593.3 236.7C595.0 232.0 597.2 223.8 600.0 218.3C602.8 212.9 606.4 207.5 610.0 204.0C613.6 200.5 617.5 197.1 621.7 197.5C625.9 197.9 631.7 202.4 635.0 206.7C638.3 211.0 639.9 218.0 641.7 223.3C643.5 228.6 644.7 235.0 645.8 238.3C646.9 241.6 647.3 240.2 648.3 243.3C649.3 246.4 650.3 253.2 651.7 256.7C653.1 260.2 654.4 262.9 656.7 264.2C659.1 265.4 664.3 264.2 665.8 264.2" fill="none" stroke="#fff" stroke-width="1.5"/>
<path d="M485.2 303.3L577.1 144.2" stroke="#00f" stroke-width="3.8" fill="none" stroke-linecap="round"/>
<path d="M667.96 264.76A193.2 193.2 0 0 0 577.10 144.18" fill="none" stroke="#00f" stroke-width="3.8"/>
<path d="M577.10 478.82A193.2 193.2 0 0 0 669.48 271.33" fill="none" stroke="#f00" stroke-width="3.8"/>
<path d="M669.82 272.98A193.2 193.2 0 0 0 666.67 259.87" fill="none" stroke="#000" stroke-width="3.8"/>
<path d="M485.2 319.7L577.1 478.8" stroke="#f00" stroke-width="3.8" fill="none" stroke-linecap="round"/>
<path d="M489.91 312.82A9.5 9.5 0 0 0 485.25 303.27" fill="none" stroke="#00f" stroke-width="3"/>
<path d="M485.25 319.73A9.5 9.5 0 0 0 489.91 312.82" fill="none" stroke="#f00" stroke-width="3"/>
<path d="M488.0 314.5C493.3 315.1 509.7 316.9 520.0 318.0C530.3 319.1 540.8 320.3 550.0 321.3C559.2 322.3 568.8 322.9 575.5 323.8C582.2 324.7 585.6 325.6 590.0 326.5C594.4 327.4 600.0 329.0 602.0 329.5" fill="none" stroke="#fff" stroke-width="3.6"/>
<path d="M488.0 314.5C493.3 315.1 509.7 316.9 520.0 318.0C530.3 319.1 540.8 320.3 550.0 321.3C559.2 322.3 568.8 322.9 575.5 323.8C582.2 324.7 585.6 325.6 590.0 326.5C594.4 327.4 600.0 329.0 602.0 329.5" fill="none" stroke="#000" stroke-width="3.2" stroke-dasharray="6 7"/>
<path d="M606.0 331.0C605.2 331.3 603.7 332.4 601.0 333.0C598.3 333.6 591.8 334.2 590.0 334.5" fill="none" stroke="#fff" stroke-width="2.6"/>
<path d="M606.0 331.0C605.2 331.3 603.7 332.4 601.0 333.0C598.3 333.6 591.8 334.2 590.0 334.5" fill="none" stroke="#000" stroke-width="2.6" stroke-dasharray="3 3"/>
<ellipse cx="575.3" cy="323.3" rx="5.6" ry="5.2" fill="#ff0" stroke="#000" stroke-width="1.6"/>
<path d="M830.8 121.0C830.8 121.5 831.3 121.7 830.8 124.0C830.2 126.3 828.5 130.7 827.5 134.7C826.5 138.7 825.3 142.7 825.0 148.0C824.7 153.3 825.1 160.2 825.8 166.3C826.5 172.4 827.4 179.4 829.2 184.7C831.0 190.0 834.5 194.4 836.7 198.0C838.9 201.6 841.2 203.5 842.5 206.3C843.8 209.1 844.2 211.6 844.7 214.7C845.2 217.8 845.9 220.8 845.8 224.7C845.7 228.6 845.5 234.5 844.2 238.0C843.0 241.5 840.9 244.2 838.3 245.5C835.6 246.8 832.5 246.3 828.3 246.0C824.1 245.7 816.8 243.5 813.3 243.8C809.8 244.1 808.6 245.3 807.5 248.0C806.4 250.7 806.4 255.2 806.7 259.7C807.0 264.1 807.8 270.3 809.2 274.7C810.6 279.1 812.6 283.1 815.0 286.3C817.4 289.5 819.7 291.7 823.3 293.8C826.9 295.9 832.8 297.1 836.7 298.8C840.6 300.5 844.2 302.3 846.7 303.8C849.2 305.3 849.9 306.6 851.7 308.0C853.5 309.4 855.6 310.9 857.5 312.2C859.4 313.4 860.9 313.8 863.3 315.5C865.7 317.2 869.5 319.8 871.7 322.2C873.9 324.6 875.5 326.5 876.7 329.7C878.0 332.9 878.5 336.6 879.2 341.3C879.9 346.0 880.4 352.4 880.8 358.0C881.2 363.6 881.6 366.6 881.7 374.7C881.9 382.8 882.0 398.5 881.7 406.3C881.4 414.1 881.0 416.4 880.0 421.7C879.0 427.0 877.3 433.0 875.8 438.3C874.3 443.6 873.1 449.1 870.8 453.3C868.4 457.5 864.9 460.0 861.7 463.3C858.5 466.6 854.9 470.5 851.7 473.3C848.5 476.1 844.9 477.8 842.5 480.0C840.1 482.2 838.9 483.6 837.5 486.7C836.1 489.8 835.0 495.6 834.2 498.3C833.5 501.0 833.2 502.2 833.0 503.0" fill="none" stroke="#fff" stroke-width="1.5"/>
<path d="M786.6 503.6V122.8H830" fill="none" stroke="#00f" stroke-width="3.6"/>
<path d="M786.6 501.8H830" fill="none" stroke="#00f" stroke-width="3.6"/>
<path d="M835 122.8H914.3V501.8H835" fill="none" stroke="#f00" stroke-width="3.6"/>
<path d="M830 122.8H835M830 501.8H835" fill="none" stroke="#000" stroke-width="3.6"/>
<g stroke="#000" stroke-width="1" fill="none">
<path d="M754.5 119.5H946.5V503.0H754.5ZM802.5 119.5V503.0M850.5 119.5V503.0M898.5 119.5V503.0M754.5 167.4H946.5M754.5 215.4H946.5M754.5 263.3H946.5M754.5 311.2H946.5M754.5 359.2H946.5M754.5 407.1H946.5M754.5 455.1H946.5M748.0 325.3H754.5M843.5 325.3H850.5M748.0 339.4H754.5M843.5 339.4H850.5M748.0 353.4H754.5M843.5 353.4H850.5M748.0 367.5H754.5M843.5 367.5H850.5M748.0 381.6H754.5M843.5 381.6H850.5M748.0 395.6H754.5M843.5 395.6H850.5M748.0 409.7H754.5M843.5 409.7H850.5M748.0 423.7H754.5M843.5 423.7H850.5M748.0 437.8H754.5M843.5 437.8H850.5M748.0 451.9H754.5M843.5 451.9H850.5M748.0 465.9H754.5M843.5 465.9H850.5M748.0 480.0H754.5M843.5 480.0H850.5M748.0 494.0H754.5M843.5 494.0H850.5M748.0 124.7H754.5M843.5 124.7H850.5M748.0 138.7H754.5M843.5 138.7H850.5M748.0 152.8H754.5M843.5 152.8H850.5M748.0 166.9H754.5M843.5 166.9H850.5M748.0 180.9H754.5M843.5 180.9H850.5M748.0 195.0H754.5M843.5 195.0H850.5M748.0 209.0H754.5M843.5 209.0H850.5M748.0 223.1H754.5M843.5 223.1H850.5M748.0 237.2H754.5M843.5 237.2H850.5M748.0 251.2H754.5M843.5 251.2H850.5M748.0 265.3H754.5M843.5 265.3H850.5M748.0 279.3H754.5M843.5 279.3H850.5M748.0 293.4H754.5M843.5 293.4H850.5M748.0 307.5H754.5M843.5 307.5H850.5"/>
</g>
<rect x="845.3" y="213.0" width="12.4" height="11" fill="#f00" stroke="#000" stroke-width="1.6"/>
<ellipse cx="857.5" cy="312" rx="5.6" ry="5.2" fill="#ff0" stroke="#000" stroke-width="1.6"/>
<rect x="842.3" y="407.5" width="12.4" height="11" fill="#00f" stroke="#000" stroke-width="1.6"/>
<text y="24.00" font-size="22.63" fill="#000" stroke="#000" stroke-width="0.3"><tspan x="9.14" textLength="58.63" lengthAdjust="spacingAndGlyphs">2011</tspan><tspan x="69.74" textLength="18.63" lengthAdjust="spacingAndGlyphs">-</tspan><tspan x="90.33" textLength="27.99" lengthAdjust="spacingAndGlyphs">03</tspan><tspan x="120.29" textLength="18.63" lengthAdjust="spacingAndGlyphs">-</tspan><tspan x="140.88" textLength="27.99" lengthAdjust="spacingAndGlyphs">01</tspan> <tspan x="183.77" textLength="104.58" lengthAdjust="spacingAndGlyphs">04:40:34</tspan></text>
<text y="24.00" font-size="22.63" fill="#000" stroke="#000" stroke-width="0.3"><tspan x="623.64" textLength="58.33" lengthAdjust="spacingAndGlyphs">2011</tspan><tspan x="683.92" textLength="18.53" lengthAdjust="spacingAndGlyphs">-</tspan><tspan x="704.39" textLength="27.86" lengthAdjust="spacingAndGlyphs">02</tspan><tspan x="734.19" textLength="18.53" lengthAdjust="spacingAndGlyphs">-</tspan><tspan x="754.67" textLength="27.86" lengthAdjust="spacingAndGlyphs">01</tspan> <tspan x="796.66" textLength="18.53" lengthAdjust="spacingAndGlyphs">+</tspan><tspan x="817.14" textLength="65.94" lengthAdjust="spacingAndGlyphs">27.27</tspan> <tspan x="897.89" textLength="51.47" lengthAdjust="spacingAndGlyphs">days</tspan></text>
<text y="53.50" font-size="16.80" fill="#000" stroke="#000" stroke-width="0.3"><tspan x="33.49" textLength="70.52" lengthAdjust="spacingAndGlyphs">Mercury</tspan></text>
<text y="53.50" font-size="16.80" fill="#000" stroke="#000" stroke-width="0.3"><tspan x="170.24" textLength="54.02" lengthAdjust="spacingAndGlyphs">Venus</tspan></text>
<text y="53.50" font-size="16.80" fill="#000" stroke="#000" stroke-width="0.3"><tspan x="308.24" textLength="47.27" lengthAdjust="spacingAndGlyphs">Earth</tspan></text>
<text y="53.50" font-size="16.80" fill="#000" stroke="#000" stroke-width="0.3"><tspan x="445.24" textLength="42.77" lengthAdjust="spacingAndGlyphs">Mars</tspan></text>
<text y="53.50" font-size="16.80" fill="#000" stroke="#000" stroke-width="0.3"><tspan x="582.74" textLength="96.27" lengthAdjust="spacingAndGlyphs">Messenger</tspan></text>
<text y="53.50" font-size="16.80" fill="#000" stroke="#000" stroke-width="0.3"><tspan x="719.49" textLength="58.46" lengthAdjust="spacingAndGlyphs">Stereo</tspan><tspan x="779.06" textLength="12.14" lengthAdjust="spacingAndGlyphs">_</tspan><tspan x="792.32" textLength="8.69" lengthAdjust="spacingAndGlyphs">A</tspan></text>
<text y="53.50" font-size="16.80" fill="#000" stroke="#000" stroke-width="0.3"><tspan x="856.49" textLength="58.41" lengthAdjust="spacingAndGlyphs">Stereo</tspan><tspan x="916.01" textLength="12.13" lengthAdjust="spacingAndGlyphs">_</tspan><tspan x="929.25" textLength="10.51" lengthAdjust="spacingAndGlyphs">B</tspan></text>
<ellipse cx="19.5" cy="47" rx="5.6" ry="5.2" fill="#ffa500" stroke="#000" stroke-width="1.6"/>
<ellipse cx="156.75" cy="47" rx="5.6" ry="5.2" fill="#008000" stroke="#000" stroke-width="1.6"/>
<ellipse cx="294.25" cy="47" rx="5.6" ry="5.2" fill="#ff0" stroke="#000" stroke-width="1.6"/>
<ellipse cx="431.5" cy="47" rx="5.6" ry="5.2" fill="#f00" stroke="#000" stroke-width="1.6"/>
<rect x="563.0" y="41.6" width="12.4" height="11" fill="#ffa500" stroke="#000" stroke-width="1.6"/>
<rect x="700.0" y="41.6" width="12.4" height="11" fill="#f00" stroke="#000" stroke-width="1.6"/>
<rect x="837.3" y="41.6" width="12.4" height="11" fill="#00f" stroke="#000" stroke-width="1.6"/>
<text y="109.00" font-size="17.49" fill="#000" stroke="#000" stroke-width="0.3"><tspan x="21.95" textLength="63.44" lengthAdjust="spacingAndGlyphs">Ecliptic</tspan> <tspan x="96.99" textLength="48.55" lengthAdjust="spacingAndGlyphs">Plane</tspan></text>
<text x="212.00" y="109.00" font-size="17.49" textLength="36.00" lengthAdjust="spacingAndGlyphs" fill="#000" stroke="#000" stroke-width="0.3">W90</text>
<text y="109.00" font-size="17.49" fill="#000" stroke="#000" stroke-width="0.3"><tspan x="315.95" textLength="28.55" lengthAdjust="spacingAndGlyphs">LAT</tspan> <tspan x="355.67" textLength="14.62" lengthAdjust="spacingAndGlyphs">=</tspan> <tspan x="380.92" textLength="14.62" lengthAdjust="spacingAndGlyphs">-</tspan><tspan x="397.10" textLength="27.95" lengthAdjust="spacingAndGlyphs">7.1</tspan><tspan x="423.8" y="107.6" font-size="21">°</tspan></text>
<text x="463.00" y="109.25" font-size="17.49" textLength="34.00" lengthAdjust="spacingAndGlyphs" fill="#000" stroke="#000" stroke-width="0.3">N90</text>
<text y="109.25" font-size="17.49" fill="#000" stroke="#000" stroke-width="0.3"><tspan x="536.45" textLength="34.83" lengthAdjust="spacingAndGlyphs">LON</tspan> <tspan x="582.55" textLength="14.74" lengthAdjust="spacingAndGlyphs">=</tspan> <tspan x="608.57" textLength="9.98" lengthAdjust="spacingAndGlyphs">0</tspan><tspan x="617.8" y="107.6" font-size="21">°</tspan></text>
<text x="700.00" y="115.50" font-size="17.49" textLength="48.00" lengthAdjust="spacingAndGlyphs" fill="#000" stroke="#000" stroke-width="0.3">W180</text>
<text y="108.75" font-size="17.49" fill="#000" stroke="#000" stroke-width="0.3"><tspan x="795.20" textLength="10.42" lengthAdjust="spacingAndGlyphs">R</tspan> <tspan x="816.65" textLength="14.45" lengthAdjust="spacingAndGlyphs">=</tspan> <tspan x="842.13" textLength="27.65" lengthAdjust="spacingAndGlyphs">1.0</tspan> <tspan x="881.35" textLength="21.70" lengthAdjust="spacingAndGlyphs">AU</tspan></text>
<text x="704.50" y="517.50" font-size="17.49" textLength="43.50" lengthAdjust="spacingAndGlyphs" fill="#000" stroke="#000" stroke-width="0.3">E180</text>
<text x="754.50" y="528.75" font-size="17.49" textLength="34.75" lengthAdjust="spacingAndGlyphs" fill="#000" stroke="#000" stroke-width="0.3">N90</text>
<text y="528.75" font-size="17.49" fill="#000" stroke="#000" stroke-width="0.3"><tspan x="840.20" textLength="12.10" lengthAdjust="spacingAndGlyphs">0</tspan><tspan x="851.8" y="527.6" font-size="21">°</tspan></text>
<text x="911.25" y="528.75" font-size="17.49" textLength="34.75" lengthAdjust="spacingAndGlyphs" fill="#000" stroke="#000" stroke-width="0.3">S90</text>
<text x="215.00" y="528.50" font-size="17.49" textLength="31.50" lengthAdjust="spacingAndGlyphs" fill="#000" stroke="#000" stroke-width="0.3">E90</text>
<text x="463.00" y="528.50" font-size="17.49" textLength="34.00" lengthAdjust="spacingAndGlyphs" fill="#000" stroke="#000" stroke-width="0.3">S90</text>
<text y="318.50" font-size="17.49" fill="#000" stroke="#000" stroke-width="0.3"><tspan x="436.45" textLength="11.60" lengthAdjust="spacingAndGlyphs">0</tspan><tspan x="447.8" y="317.1" font-size="21">°</tspan></text>
<text y="318.50" font-size="17.49" fill="#000" stroke="#000" stroke-width="0.3"><tspan x="678.95" textLength="11.60" lengthAdjust="spacingAndGlyphs">0</tspan><tspan x="690.3" y="317.1" font-size="21">°</tspan></text>
<text x="430.94" y="362.41" font-size="16.46" textLength="9.00" lengthAdjust="spacingAndGlyphs" fill="#f00" stroke="#f00" stroke-width="0.3">1</text>
<text x="414.54" y="407.04" font-size="16.46" textLength="9.00" lengthAdjust="spacingAndGlyphs" fill="#f00" stroke="#f00" stroke-width="0.3">2</text>
<text x="388.18" y="446.81" font-size="16.46" textLength="9.00" lengthAdjust="spacingAndGlyphs" fill="#f00" stroke="#f00" stroke-width="0.3">3</text>
<text x="353.25" y="479.64" font-size="16.46" textLength="9.00" lengthAdjust="spacingAndGlyphs" fill="#f00" stroke="#f00" stroke-width="0.3">4</text>
<text x="311.60" y="503.77" font-size="16.46" textLength="9.00" lengthAdjust="spacingAndGlyphs" fill="#f00" stroke="#f00" stroke-width="0.3">5</text>
<text x="265.42" y="517.95" font-size="16.46" textLength="9.00" lengthAdjust="spacingAndGlyphs" fill="#f00" stroke="#f00" stroke-width="0.3">6</text>
<text x="217.15" y="521.42" font-size="16.46" textLength="9.00" lengthAdjust="spacingAndGlyphs" fill="#f00" stroke="#f00" stroke-width="0.3">7</text>
<text x="169.36" y="513.99" font-size="16.46" textLength="9.00" lengthAdjust="spacingAndGlyphs" fill="#f00" stroke="#f00" stroke-width="0.3">8</text>
<text x="124.55" y="496.06" font-size="16.46" textLength="9.00" lengthAdjust="spacingAndGlyphs" fill="#f00" stroke="#f00" stroke-width="0.3">9</text>
<text x="79.86" y="468.58" font-size="16.46" textLength="19.50" lengthAdjust="spacingAndGlyphs" fill="#f00" stroke="#f00" stroke-width="0.3">10</text>
<text x="47.87" y="433.00" font-size="16.46" textLength="19.50" lengthAdjust="spacingAndGlyphs" fill="#f00" stroke="#f00" stroke-width="0.3">11</text>
<text x="25.01" y="391.19" font-size="16.46" textLength="19.50" lengthAdjust="spacingAndGlyphs" fill="#f00" stroke="#f00" stroke-width="0.3">12</text>
<text x="12.50" y="345.38" font-size="16.46" textLength="19.50" lengthAdjust="spacingAndGlyphs" fill="#f00" stroke="#f00" stroke-width="0.3">13</text>
<text x="10.99" y="297.97" font-size="16.46" textLength="19.50" lengthAdjust="spacingAndGlyphs" fill="#f00" stroke="#f00" stroke-width="0.3">14</text>
<text x="20.57" y="251.48" font-size="16.46" textLength="19.50" lengthAdjust="spacingAndGlyphs" fill="#f00" stroke="#f00" stroke-width="0.3">15</text>
<text x="40.74" y="208.37" font-size="16.46" textLength="19.50" lengthAdjust="spacingAndGlyphs" fill="#f00" stroke="#f00" stroke-width="0.3">16</text>
<text x="70.41" y="170.90" font-size="16.46" textLength="19.50" lengthAdjust="spacingAndGlyphs" fill="#f00" stroke="#f00" stroke-width="0.3">17</text>
<text x="108.03" y="141.07" font-size="16.46" textLength="19.50" lengthAdjust="spacingAndGlyphs" fill="#f00" stroke="#f00" stroke-width="0.3">18</text>
<text x="151.61" y="120.45" font-size="16.46" textLength="19.50" lengthAdjust="spacingAndGlyphs" fill="#f00" stroke="#f00" stroke-width="0.3">19</text>
<text x="198.84" y="110.12" font-size="16.46" textLength="19.50" lengthAdjust="spacingAndGlyphs" fill="#f00" stroke="#f00" stroke-width="0.3">20</text>
<text x="247.23" y="110.64" font-size="16.46" textLength="19.50" lengthAdjust="spacingAndGlyphs" fill="#f00" stroke="#f00" stroke-width="0.3">21</text>
<text x="294.22" y="121.97" font-size="16.46" textLength="19.50" lengthAdjust="spacingAndGlyphs" fill="#f00" stroke="#f00" stroke-width="0.3">22</text>
<text x="337.33" y="143.53" font-size="16.46" textLength="19.50" lengthAdjust="spacingAndGlyphs" fill="#f00" stroke="#f00" stroke-width="0.3">23</text>
<text x="374.28" y="174.16" font-size="16.46" textLength="19.50" lengthAdjust="spacingAndGlyphs" fill="#f00" stroke="#f00" stroke-width="0.3">24</text>
<text x="403.11" y="212.25" font-size="16.46" textLength="19.50" lengthAdjust="spacingAndGlyphs" fill="#f00" stroke="#f00" stroke-width="0.3">25</text>
<text x="422.30" y="255.79" font-size="16.46" textLength="19.50" lengthAdjust="spacingAndGlyphs" fill="#f00" stroke="#f00" stroke-width="0.3">26</text>
<text x="430.84" y="302.47" font-size="16.46" textLength="19.50" lengthAdjust="spacingAndGlyphs" fill="#f00" stroke="#f00" stroke-width="0.3">27</text>
<text x="736.00" y="331.31" font-size="16.46" textLength="8.50" lengthAdjust="spacingAndGlyphs" fill="#f00" stroke="#f00" stroke-width="0.3">1</text>
<text x="736.00" y="345.37" font-size="16.46" textLength="8.50" lengthAdjust="spacingAndGlyphs" fill="#f00" stroke="#f00" stroke-width="0.3">2</text>
<text x="736.00" y="359.43" font-size="16.46" textLength="8.50" lengthAdjust="spacingAndGlyphs" fill="#f00" stroke="#f00" stroke-width="0.3">3</text>
<text x="736.00" y="373.49" font-size="16.46" textLength="8.50" lengthAdjust="spacingAndGlyphs" fill="#f00" stroke="#f00" stroke-width="0.3">4</text>
<text x="736.00" y="387.55" font-size="16.46" textLength="8.50" lengthAdjust="spacingAndGlyphs" fill="#f00" stroke="#f00" stroke-width="0.3">5</text>
<text x="736.00" y="401.61" font-size="16.46" textLength="8.50" lengthAdjust="spacingAndGlyphs" fill="#f00" stroke="#f00" stroke-width="0.3">6</text>
<text x="736.00" y="415.67" font-size="16.46" textLength="8.50" lengthAdjust="spacingAndGlyphs" fill="#f00" stroke="#f00" stroke-width="0.3">7</text>
<text x="736.00" y="429.73" font-size="16.46" textLength="8.50" lengthAdjust="spacingAndGlyphs" fill="#f00" stroke="#f00" stroke-width="0.3">8</text>
<text x="736.00" y="443.79" font-size="16.46" textLength="8.50" lengthAdjust="spacingAndGlyphs" fill="#f00" stroke="#f00" stroke-width="0.3">9</text>
<text x="726.50" y="457.85" font-size="16.46" textLength="18.00" lengthAdjust="spacingAndGlyphs" fill="#f00" stroke="#f00" stroke-width="0.3">10</text>
<text x="726.50" y="471.91" font-size="16.46" textLength="18.00" lengthAdjust="spacingAndGlyphs" fill="#f00" stroke="#f00" stroke-width="0.3">11</text>
<text x="726.50" y="485.97" font-size="16.46" textLength="18.00" lengthAdjust="spacingAndGlyphs" fill="#f00" stroke="#f00" stroke-width="0.3">12</text>
<text x="726.50" y="500.03" font-size="16.46" textLength="18.00" lengthAdjust="spacingAndGlyphs" fill="#f00" stroke="#f00" stroke-width="0.3">13</text>
<text x="726.50" y="130.67" font-size="16.46" textLength="18.00" lengthAdjust="spacingAndGlyphs" fill="#f00" stroke="#f00" stroke-width="0.3">14</text>
<text x="726.50" y="144.73" font-size="16.46" textLength="18.00" lengthAdjust="spacingAndGlyphs" fill="#f00" stroke="#f00" stroke-width="0.3">15</text>
<text x="726.50" y="158.79" font-size="16.46" textLength="18.00" lengthAdjust="spacingAndGlyphs" fill="#f00" stroke="#f00" stroke-width="0.3">16</text>
<text x="726.50" y="172.85" font-size="16.46" textLength="18.00" lengthAdjust="spacingAndGlyphs" fill="#f00" stroke="#f00" stroke-width="0.3">17</text>
<text x="726.50" y="186.91" font-size="16.46" textLength="18.00" lengthAdjust="spacingAndGlyphs" fill="#f00" stroke="#f00" stroke-width="0.3">18</text>
<text x="726.50" y="200.97" font-size="16.46" textLength="18.00" lengthAdjust="spacingAndGlyphs" fill="#f00" stroke="#f00" stroke-width="0.3">19</text>
<text x="726.50" y="215.03" font-size="16.46" textLength="18.00" lengthAdjust="spacingAndGlyphs" fill="#f00" stroke="#f00" stroke-width="0.3">20</text>
<text x="726.50" y="229.09" font-size="16.46" textLength="18.00" lengthAdjust="spacingAndGlyphs" fill="#f00" stroke="#f00" stroke-width="0.3">21</text>
<text x="726.50" y="243.15" font-size="16.46" textLength="18.00" lengthAdjust="spacingAndGlyphs" fill="#f00" stroke="#f00" stroke-width="0.3">22</text>
<text x="726.50" y="257.21" font-size="16.46" textLength="18.00" lengthAdjust="spacingAndGlyphs" fill="#f00" stroke="#f00" stroke-width="0.3">23</text>
<text x="726.50" y="271.27" font-size="16.46" textLength="18.00" lengthAdjust="spacingAndGlyphs" fill="#f00" stroke="#f00" stroke-width="0.3">24</text>
<text x="726.50" y="285.33" font-size="16.46" textLength="18.00" lengthAdjust="spacingAndGlyphs" fill="#f00" stroke="#f00" stroke-width="0.3">25</text>
<text x="726.50" y="299.39" font-size="16.46" textLength="18.00" lengthAdjust="spacingAndGlyphs" fill="#f00" stroke="#f00" stroke-width="0.3">26</text>
<text x="726.50" y="313.45" font-size="16.46" textLength="18.00" lengthAdjust="spacingAndGlyphs" fill="#f00" stroke="#f00" stroke-width="0.3">27</text>
<text y="557.50" font-size="17.15" fill="#000" stroke="#000" stroke-width="0.3"><tspan x="10.22" textLength="16.47" lengthAdjust="spacingAndGlyphs">Vr</tspan> <tspan x="38.45" textLength="66.33" lengthAdjust="spacingAndGlyphs">(km/s)</tspan></text>
<text x="100.00" y="580.75" font-size="18.18" textLength="33.00" lengthAdjust="spacingAndGlyphs" fill="#000" stroke="#000" stroke-width="0.3">200</text>
<text x="170.75" y="580.75" font-size="18.18" textLength="33.00" lengthAdjust="spacingAndGlyphs" fill="#000" stroke="#000" stroke-width="0.3">550</text>
<text x="242.50" y="580.75" font-size="18.18" textLength="33.75" lengthAdjust="spacingAndGlyphs" fill="#000" stroke="#000" stroke-width="0.3">900</text>
<text x="309.50" y="580.75" font-size="18.18" textLength="43.50" lengthAdjust="spacingAndGlyphs" fill="#000" stroke="#000" stroke-width="0.3">1250</text>
<text x="382.00" y="580.75" font-size="18.18" textLength="42.50" lengthAdjust="spacingAndGlyphs" fill="#000" stroke="#000" stroke-width="0.3">1600</text>
<text x="5.50" y="596.75" font-size="10.97" textLength="176.50" lengthAdjust="spacingAndGlyphs" fill="#000" stroke="#000" stroke-width="0.3" font-family='"DejaVu Sans","Liberation Sans",sans-serif'>ENLIL-2.6 lowres WSA-1.6 GONG</text>
<text y="558.00" font-size="17.15" fill="#000" stroke="#000" stroke-width="0.3"><tspan x="494.47" textLength="27.72" lengthAdjust="spacingAndGlyphs">IMF</tspan> <tspan x="533.86" textLength="65.92" lengthAdjust="spacingAndGlyphs">polarity</tspan></text>
<text y="558.00" font-size="17.15" fill="#000" stroke="#000" stroke-width="0.3"><tspan x="660.22" textLength="66.60" lengthAdjust="spacingAndGlyphs">Current</tspan> <tspan x="738.51" textLength="60.02" lengthAdjust="spacingAndGlyphs">sheath</tspan></text>
<text y="558.00" font-size="17.15" fill="#000" stroke="#000" stroke-width="0.3"><tspan x="840.97" textLength="22.53" lengthAdjust="spacingAndGlyphs">3D</tspan> <tspan x="875.29" textLength="27.95" lengthAdjust="spacingAndGlyphs">IMF</tspan> <tspan x="915.03" textLength="29.75" lengthAdjust="spacingAndGlyphs">line</tspan></text>
<text x="597.50" y="596.50" font-size="10.97" textLength="357.50" lengthAdjust="spacingAndGlyphs" fill="#ebebeb" stroke="#ebebeb" stroke-width="0.3">.//64x15x45.2068-a2b2.4-mp1umn1de-1.g15q0  2011-02-24</text>
<path d="M482.5 575.8H493M601.3 575.8H611.8M606.5 570.5V581" stroke="#000" stroke-width="1" fill="none"/>
<defs><linearGradient id="cb" x1="0" x2="1" y1="0" y2="0"><stop offset="0.0000" stop-color="#484898"/><stop offset="0.0214" stop-color="#484898"/><stop offset="0.0421" stop-color="#4040c8"/><stop offset="0.0607" stop-color="#4040ff"/><stop offset="0.0714" stop-color="#4060ff"/><stop offset="0.0857" stop-color="#4080ff"/><stop offset="0.1000" stop-color="#40a0ff"/><stop offset="0.1121" stop-color="#40c8ff"/><stop offset="0.1186" stop-color="#40e0ff"/><stop offset="0.1214" stop-color="#0ff"/><stop offset="0.1350" stop-color="#00f0c0"/><stop offset="0.1500" stop-color="#00e0a0"/><stop offset="0.1643" stop-color="#00d060"/><stop offset="0.1871" stop-color="#00b800"/><stop offset="0.2021" stop-color="#40c800"/><stop offset="0.2164" stop-color="#80d800"/><stop offset="0.2307" stop-color="#b0e800"/><stop offset="0.2457" stop-color="#f0f800"/><stop offset="0.2514" stop-color="#ff0"/><stop offset="0.2736" stop-color="#ffd000"/><stop offset="0.2964" stop-color="#ffa000"/><stop offset="0.3143" stop-color="#ff8000"/><stop offset="0.3350" stop-color="#f05000"/><stop offset="0.3550" stop-color="#d83000"/><stop offset="0.3700" stop-color="#c00000"/><stop offset="0.3843" stop-color="#c82040"/><stop offset="0.4021" stop-color="#d84080"/><stop offset="0.4193" stop-color="#f060c0"/><stop offset="0.4371" stop-color="#ff80ff"/><stop offset="0.4607" stop-color="#ffb0ff"/><stop offset="0.4836" stop-color="#ffe0ff"/><stop offset="0.5000" stop-color="#fff"/><stop offset="1.0000" stop-color="#000"/></linearGradient></defs>
<rect x="116.5" y="543" width="286.3" height="14.5" fill="url(#cb)" stroke="#000" stroke-width="1.2"/>
<path d="M116.5 557.5V561.5M188 557.5V561.5M259.6 557.5V561.5M331.2 557.5V561.5M402.8 557.5V561.5" stroke="#000" stroke-width="1" fill="none"/>
<rect x="506.5" y="567.7" width="40.8" height="13.6" fill="#00f"/><rect x="547.3" y="567.7" width="41.2" height="13.6" fill="#f00"/><rect x="506.5" y="567.7" width="82" height="13.6" fill="none" stroke="#000" stroke-width="1.2"/>
<rect x="682" y="568" width="97" height="14" fill="#808080"/><path d="M682 575H779" stroke="#fff" stroke-width="2.4"/>
<rect x="850" y="568" width="87" height="14" fill="#d0d0d0"/><path d="M850 575H937" stroke="#fff" stroke-width="2"/><path d="M850 575H937" stroke="#000" stroke-width="2" stroke-dasharray="10.5 8.6"/>
</svg>
</div></body></html>
